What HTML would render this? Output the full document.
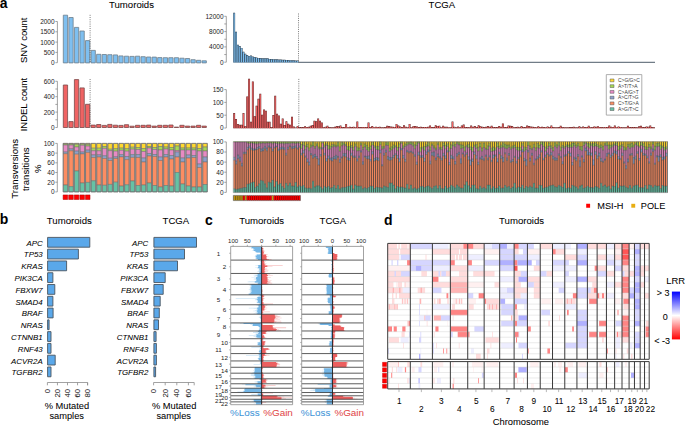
<!DOCTYPE html><html><head><meta charset="utf-8"><style>html,body{margin:0;padding:0;background:#fff;}svg{display:block}</style></head><body>
<svg width="685" height="426" viewBox="0 0 685 426" font-family="'Liberation Sans', sans-serif">
<rect width="685" height="426" fill="#fff"/>
<text transform="translate(-0.3 7.5) scale(0.92 1)" font-size="15.2" font-weight="bold">a</text>
<text x="131.5" y="7.9" font-size="9.6" text-anchor="middle" stroke="#000" stroke-width="0.05">Tumoroids</text>
<text x="441.9" y="7.9" font-size="9.6" text-anchor="middle" stroke="#000" stroke-width="0.05">TCGA</text>
<text x="27.3" y="40.3" font-size="9.5" text-anchor="middle" stroke="#000" stroke-width="0.05" transform="rotate(-90 27.3 40.3)">SNV count</text>
<text x="27.3" y="104.6" font-size="9.5" text-anchor="middle" stroke="#000" stroke-width="0.05" transform="rotate(-90 27.3 104.6)">INDEL count</text>
<text x="18.3" y="168.8" font-size="9.6" text-anchor="middle" stroke="#000" stroke-width="0.05" transform="rotate(-90 18.3 168.8)">Transversions</text>
<text x="29" y="169.2" font-size="9.6" text-anchor="middle" stroke="#000" stroke-width="0.05" transform="rotate(-90 29 169.2)">transitions</text>
<text x="40.8" y="168.8" font-size="9.6" text-anchor="middle" stroke="#000" stroke-width="0.05" transform="rotate(-90 40.8 168.8)">%</text>
<path d="M57.4 21.5L57.4 62.7M55.4 62.7L57.4 62.7" fill="none" stroke="#8a8a8a" stroke-width="0.8"/>
<text x="54.6" y="65.17" font-size="6.5" text-anchor="end" fill="#222">0</text>
<path d="M55.4 52.4L57.4 52.4" fill="none" stroke="#8a8a8a" stroke-width="0.8"/>
<text x="54.6" y="54.87" font-size="6.5" text-anchor="end" fill="#222">500</text>
<path d="M55.4 42.1L57.4 42.1" fill="none" stroke="#8a8a8a" stroke-width="0.8"/>
<text x="54.6" y="44.57" font-size="6.5" text-anchor="end" fill="#222">1000</text>
<path d="M55.4 31.8L57.4 31.8" fill="none" stroke="#8a8a8a" stroke-width="0.8"/>
<text x="54.6" y="34.27" font-size="6.5" text-anchor="end" fill="#222">1500</text>
<path d="M55.4 21.5L57.4 21.5" fill="none" stroke="#8a8a8a" stroke-width="0.8"/>
<text x="54.6" y="23.97" font-size="6.5" text-anchor="end" fill="#222">2000</text>
<path d="M63.3 15.2h4.3v47.7h-4.3zM68.85 17.5h4.3v45.4h-4.3zM74.4 27.4h4.3v35.5h-4.3zM79.95 31h4.3v31.9h-4.3zM85.5 40.6h4.3v22.3h-4.3zM91.05 50.4h4.3v12.5h-4.3zM96.6 54.3h4.3v8.6h-4.3zM102.15 54.5h4.3v8.4h-4.3zM107.7 54.7h4.3v8.2h-4.3zM113.25 54.9h4.3v8h-4.3zM118.8 55.9h4.3v7h-4.3zM124.35 56.2h4.3v6.7h-4.3zM129.9 56.4h4.3v6.5h-4.3zM135.45 56.2h4.3v6.7h-4.3zM141 56.7h4.3v6.2h-4.3zM146.55 57h4.3v5.9h-4.3zM152.1 57.1h4.3v5.8h-4.3zM157.65 57.6h4.3v5.3h-4.3zM163.2 57.7h4.3v5.2h-4.3zM168.75 57.7h4.3v5.2h-4.3zM174.3 57.7h4.3v5.2h-4.3zM179.85 58.2h4.3v4.7h-4.3zM185.4 58.5h4.3v4.4h-4.3zM190.95 59.7h4.3v3.2h-4.3zM196.5 60.3h4.3v2.6h-4.3zM202.05 60.8h4.3v2.1h-4.3z" fill="#7ebff0" stroke="#6d7d8a" stroke-width="0.8"/>
<path d="M90.1 14.8L90.1 63" fill="none" stroke="#444" stroke-width="0.7" stroke-dasharray="1,1.2"/>
<path d="M226.3 16.3L226.3 62.2M224.3 62.2L226.3 62.2" fill="none" stroke="#8a8a8a" stroke-width="0.8"/>
<text x="223.5" y="64.67" font-size="6.5" text-anchor="end" fill="#222">0</text>
<path d="M224.3 54.55L226.3 54.55M224.3 46.9L226.3 46.9" fill="none" stroke="#8a8a8a" stroke-width="0.8"/>
<text x="223.5" y="49.37" font-size="6.5" text-anchor="end" fill="#222">4000</text>
<path d="M224.3 39.25L226.3 39.25M224.3 31.6L226.3 31.6" fill="none" stroke="#8a8a8a" stroke-width="0.8"/>
<text x="223.5" y="34.07" font-size="6.5" text-anchor="end" fill="#222">8000</text>
<path d="M224.3 23.95L226.3 23.95M224.3 16.3L226.3 16.3" fill="none" stroke="#8a8a8a" stroke-width="0.8"/>
<text x="223.5" y="18.77" font-size="6.5" text-anchor="end" fill="#222">12000</text>
<path d="M233.2 12.7h1.92v49.9h-1.92zM235.07 31.8h1.92v30.8h-1.92zM236.93 44.7h1.92v17.9h-1.92zM238.8 46h1.92v16.6h-1.92zM240.66 47.9h1.92v14.7h-1.92zM242.53 51.7h1.92v10.9h-1.92zM244.4 53.7h1.92v8.9h-1.92zM246.26 55h1.92v7.6h-1.92zM248.13 55.9h1.92v6.7h-1.92zM249.99 55.5h1.92v7.1h-1.92zM251.86 56.5h1.92v6.1h-1.92zM253.73 57.1h1.92v5.5h-1.92zM255.59 57.5h1.92v5.1h-1.92zM257.46 57.9h1.92v4.7h-1.92zM259.32 58.1h1.92v4.5h-1.92zM261.19 58.3h1.92v4.3h-1.92zM263.06 58.3h1.92v4.3h-1.92zM264.92 58.3h1.92v4.3h-1.92zM266.79 58.3h1.92v4.3h-1.92zM268.65 58.9h1.92v3.7h-1.92zM270.52 59.01h1.92v3.59h-1.92zM272.39 59.13h1.92v3.47h-1.92zM274.25 59.24h1.92v3.36h-1.92zM276.12 59.35h1.92v3.25h-1.92zM277.98 59.47h1.92v3.13h-1.92zM279.85 59.58h1.92v3.02h-1.92zM281.72 59.69h1.92v2.91h-1.92zM283.58 59.81h1.92v2.79h-1.92zM285.45 59.92h1.92v2.68h-1.92zM287.31 60.03h1.92v2.57h-1.92zM289.18 60.15h1.92v2.45h-1.92zM291.05 60.26h1.92v2.34h-1.92zM292.91 60.37h1.92v2.23h-1.92zM294.78 60.49h1.92v2.11h-1.92zM296.64 60.6h1.92v2h-1.92z" fill="#2e3e4c"/>
<path d="M233.6 13.15h1.12v49.45h-1.12zM235.47 32.25h1.12v30.35h-1.12zM237.33 45.15h1.12v17.45h-1.12zM239.2 46.45h1.12v16.15h-1.12zM241.06 48.35h1.12v14.25h-1.12zM242.93 52.15h1.12v10.45h-1.12zM244.8 54.15h1.12v8.45h-1.12zM246.66 55.45h1.12v7.15h-1.12zM248.53 56.35h1.12v6.25h-1.12zM250.39 55.95h1.12v6.65h-1.12zM252.26 56.95h1.12v5.65h-1.12zM254.13 57.55h1.12v5.05h-1.12zM255.99 57.95h1.12v4.65h-1.12zM257.86 58.35h1.12v4.25h-1.12zM259.72 58.55h1.12v4.05h-1.12zM261.59 58.75h1.12v3.85h-1.12zM263.46 58.75h1.12v3.85h-1.12zM265.32 58.75h1.12v3.85h-1.12zM267.19 58.75h1.12v3.85h-1.12zM269.05 59.35h1.12v3.25h-1.12zM270.92 59.46h1.12v3.14h-1.12zM272.79 59.58h1.12v3.02h-1.12zM274.65 59.69h1.12v2.91h-1.12zM276.52 59.8h1.12v2.8h-1.12zM278.38 59.92h1.12v2.68h-1.12zM280.25 60.03h1.12v2.57h-1.12zM282.12 60.14h1.12v2.46h-1.12zM283.98 60.26h1.12v2.34h-1.12zM285.85 60.37h1.12v2.23h-1.12zM287.71 60.48h1.12v2.12h-1.12zM289.58 60.6h1.12v2h-1.12zM291.45 60.71h1.12v1.89h-1.12zM293.31 60.82h1.12v1.78h-1.12zM295.18 60.94h1.12v1.66h-1.12zM297.04 61.05h1.12v1.55h-1.12z" fill="#7ebff0"/>
<path d="M298.5 13.5L298.5 62.5" fill="none" stroke="#444" stroke-width="0.7" stroke-dasharray="1,1.2"/>
<path d="M298.6 62.3L655 62.3" fill="none" stroke="#3a4a58" stroke-width="0.9"/>
<path d="M57.4 81.3L57.4 127.5M55.4 127.5L57.4 127.5" fill="none" stroke="#8a8a8a" stroke-width="0.8"/>
<text x="54.6" y="129.97" font-size="6.5" text-anchor="end" fill="#222">0</text>
<path d="M55.4 119.8L57.4 119.8M55.4 112.1L57.4 112.1" fill="none" stroke="#8a8a8a" stroke-width="0.8"/>
<text x="54.6" y="114.57" font-size="6.5" text-anchor="end" fill="#222">200</text>
<path d="M55.4 104.4L57.4 104.4M55.4 96.7L57.4 96.7" fill="none" stroke="#8a8a8a" stroke-width="0.8"/>
<text x="54.6" y="99.17" font-size="6.5" text-anchor="end" fill="#222">400</text>
<path d="M55.4 89L57.4 89M55.4 81.3L57.4 81.3" fill="none" stroke="#8a8a8a" stroke-width="0.8"/>
<text x="54.6" y="83.77" font-size="6.5" text-anchor="end" fill="#222">600</text>
<path d="M63.3 85h4.3v42.5h-4.3zM68.85 121.6h4.3v5.9h-4.3zM74.4 79.6h4.3v47.9h-4.3zM79.95 87.9h4.3v39.6h-4.3zM85.5 104.3h4.3v23.2h-4.3zM91.05 125.1h4.3v2.4h-4.3zM96.6 124.5h4.3v3h-4.3zM102.15 125.4h4.3v2.1h-4.3zM107.7 124.4h4.3v3.1h-4.3zM113.25 125.2h4.3v2.3h-4.3zM118.8 125.4h4.3v2.1h-4.3zM124.35 124.7h4.3v2.8h-4.3zM129.9 126.2h4.3v1.3h-4.3zM135.45 125.3h4.3v2.2h-4.3zM141 125.3h4.3v2.2h-4.3zM146.55 125.1h4.3v2.4h-4.3zM152.1 126.1h4.3v1.4h-4.3zM157.65 125.3h4.3v2.2h-4.3zM163.2 125.3h4.3v2.2h-4.3zM168.75 125h4.3v2.5h-4.3zM174.3 127.1h4.3v0.4h-4.3zM179.85 125.3h4.3v2.2h-4.3zM185.4 126.1h4.3v1.4h-4.3zM190.95 126.1h4.3v1.4h-4.3zM196.5 125.3h4.3v2.2h-4.3zM202.05 126.1h4.3v1.4h-4.3z" fill="#ef6363" stroke="#7a4a4a" stroke-width="0.8"/>
<path d="M90.1 79L90.1 127.5" fill="none" stroke="#444" stroke-width="0.7" stroke-dasharray="1,1.2"/>
<path d="M226.3 89.6L226.3 128M224.3 128L226.3 128" fill="none" stroke="#8a8a8a" stroke-width="0.8"/>
<text x="223.5" y="130.47" font-size="6.5" text-anchor="end" fill="#222">0</text>
<path d="M224.3 115.2L226.3 115.2" fill="none" stroke="#8a8a8a" stroke-width="0.8"/>
<text x="223.5" y="117.67" font-size="6.5" text-anchor="end" fill="#222">50</text>
<path d="M224.3 102.4L226.3 102.4" fill="none" stroke="#8a8a8a" stroke-width="0.8"/>
<text x="223.5" y="104.87" font-size="6.5" text-anchor="end" fill="#222">100</text>
<path d="M224.3 89.6L226.3 89.6" fill="none" stroke="#8a8a8a" stroke-width="0.8"/>
<text x="223.5" y="92.07" font-size="6.5" text-anchor="end" fill="#222">150</text>
<path d="M233.2 113h1.92v15.2h-1.92zM235.07 119h1.92v9.2h-1.92zM236.93 124.1h1.92v4.1h-1.92zM238.8 124.8h1.92v3.4h-1.92zM240.66 124.8h1.92v3.4h-1.92zM242.53 113h1.92v15.2h-1.92zM244.4 126.3h1.92v1.9h-1.92zM246.26 96.4h1.92v31.8h-1.92zM248.13 78.8h1.92v49.4h-1.92zM249.99 121.8h1.92v6.4h-1.92zM251.86 81.4h1.92v46.8h-1.92zM253.73 116.2h1.92v12h-1.92zM255.59 105.7h1.92v22.5h-1.92zM257.46 98.8h1.92v29.4h-1.92zM259.32 93.7h1.92v34.5h-1.92zM261.19 114.7h1.92v13.5h-1.92zM263.06 109.5h1.92v18.7h-1.92zM264.92 110.8h1.92v17.4h-1.92zM266.79 121.8h1.92v6.4h-1.92zM268.65 121.8h1.92v6.4h-1.92zM270.52 127h1.92v1.2h-1.92zM272.39 115h1.92v13.2h-1.92zM274.25 95.7h1.92v32.5h-1.92zM276.12 113.7h1.92v14.5h-1.92zM277.98 115.5h1.92v12.7h-1.92zM279.85 123.7h1.92v4.5h-1.92zM281.72 118.6h1.92v9.6h-1.92zM283.58 125h1.92v3.2h-1.92zM285.45 121.2h1.92v7h-1.92zM287.31 123.7h1.92v4.5h-1.92zM289.18 124.8h1.92v3.4h-1.92zM291.05 116.8h1.92v11.4h-1.92zM292.91 126.6h1.92v1.6h-1.92zM294.78 127.6h1.92v0.6h-1.92zM296.64 125.9h1.92v2.3h-1.92zM298.51 127.02h1.92v1.18h-1.92zM300.38 127.07h1.92v1.13h-1.92zM302.24 127.01h1.92v1.19h-1.92zM304.11 126.28h1.92v1.92h-1.92zM305.97 126.9h1.92v1.3h-1.92zM307.84 126.69h1.92v1.51h-1.92zM309.71 125.68h1.92v2.52h-1.92zM311.57 125.1h1.92v3.1h-1.92zM313.44 120.7h1.92v7.5h-1.92zM315.3 121.2h1.92v7h-1.92zM317.17 118.6h1.92v9.6h-1.92zM319.04 120.7h1.92v7.5h-1.92zM320.9 122.5h1.92v5.7h-1.92zM322.77 127.28h1.92v0.92h-1.92zM324.63 126.82h1.92v1.38h-1.92zM326.5 125.7h1.92v2.5h-1.92zM328.37 126.99h1.92v1.21h-1.92zM330.23 127.27h1.92v0.93h-1.92zM332.1 127.27h1.92v0.93h-1.92zM333.96 126.82h1.92v1.38h-1.92zM335.83 126h1.92v2.2h-1.92zM337.7 126.37h1.92v1.83h-1.92zM339.56 125.62h1.92v2.58h-1.92zM341.43 126.98h1.92v1.22h-1.92zM343.29 126.97h1.92v1.23h-1.92zM345.16 123.9h1.92v4.3h-1.92zM347.03 127.16h1.92v1.04h-1.92zM348.89 126.8h1.92v1.4h-1.92zM350.76 126.95h1.92v1.25h-1.92zM352.62 126.84h1.92v1.36h-1.92zM354.49 127.16h1.92v1.04h-1.92zM356.36 121.6h1.92v6.6h-1.92zM358.22 127.1h1.92v1.1h-1.92zM360.09 127.11h1.92v1.09h-1.92zM361.95 126.88h1.92v1.32h-1.92zM363.82 126.88h1.92v1.32h-1.92zM365.69 127.07h1.92v1.13h-1.92zM367.55 122.5h1.92v5.7h-1.92zM369.42 127.1h1.92v1.1h-1.92zM371.28 126.04h1.92v2.16h-1.92zM373.15 127.17h1.92v1.03h-1.92zM375.02 126.63h1.92v1.57h-1.92zM376.88 126.92h1.92v1.28h-1.92zM378.75 126.81h1.92v1.39h-1.92zM380.61 127.18h1.92v1.02h-1.92zM382.48 127.21h1.92v0.99h-1.92zM384.35 127.08h1.92v1.12h-1.92zM386.21 125.84h1.92v2.36h-1.92zM388.08 126.01h1.92v2.19h-1.92zM389.94 126.46h1.92v1.74h-1.92zM391.81 126.76h1.92v1.44h-1.92zM393.68 126.9h1.92v1.3h-1.92zM395.54 123.9h1.92v4.3h-1.92zM397.41 125.53h1.92v2.67h-1.92zM399.27 126.51h1.92v1.69h-1.92zM401.14 126.98h1.92v1.22h-1.92zM403.01 125.32h1.92v2.88h-1.92zM404.87 126.78h1.92v1.42h-1.92zM406.74 127.14h1.92v1.06h-1.92zM408.6 123.9h1.92v4.3h-1.92zM410.47 127.15h1.92v1.05h-1.92zM412.34 126.13h1.92v2.07h-1.92zM414.2 126.1h1.92v2.1h-1.92zM416.07 126.39h1.92v1.81h-1.92zM417.93 127.06h1.92v1.14h-1.92zM419.8 126.87h1.92v1.33h-1.92zM421.67 126.99h1.92v1.21h-1.92zM423.53 126.89h1.92v1.31h-1.92zM425.4 126.92h1.92v1.28h-1.92zM427.26 126.83h1.92v1.37h-1.92zM429.13 125.4h1.92v2.8h-1.92zM431 127h1.92v1.2h-1.92zM432.86 127.09h1.92v1.11h-1.92zM434.73 125.37h1.92v2.83h-1.92zM436.59 125.89h1.92v2.31h-1.92zM438.46 125.65h1.92v2.55h-1.92zM440.33 127.15h1.92v1.05h-1.92zM442.19 125.86h1.92v2.34h-1.92zM444.06 126.84h1.92v1.36h-1.92zM445.92 126.87h1.92v1.33h-1.92zM447.79 127.16h1.92v1.04h-1.92zM449.66 127.2h1.92v1h-1.92zM451.52 121.6h1.92v6.6h-1.92zM453.39 126.76h1.92v1.44h-1.92zM455.25 127.18h1.92v1.02h-1.92zM457.12 126.56h1.92v1.64h-1.92zM458.99 127.23h1.92v0.97h-1.92zM460.85 125.52h1.92v2.68h-1.92zM462.72 124.6h1.92v3.6h-1.92zM464.58 126.97h1.92v1.23h-1.92zM466.45 127.01h1.92v1.19h-1.92zM468.32 127.23h1.92v0.97h-1.92zM470.18 125.48h1.92v2.72h-1.92zM472.05 126.82h1.92v1.38h-1.92zM473.91 126.03h1.92v2.17h-1.92zM475.78 126.93h1.92v1.27h-1.92zM477.65 125.3h1.92v2.9h-1.92zM479.51 126.21h1.92v1.99h-1.92zM481.38 126.85h1.92v1.35h-1.92zM483.24 126.95h1.92v1.25h-1.92zM485.11 126.84h1.92v1.36h-1.92zM486.98 125.93h1.92v2.27h-1.92zM488.84 126.86h1.92v1.34h-1.92zM490.71 125.72h1.92v2.48h-1.92zM492.57 127.01h1.92v1.19h-1.92zM494.44 127.11h1.92v1.09h-1.92zM496.31 127h1.92v1.2h-1.92zM498.17 126.02h1.92v2.18h-1.92zM500.04 126.86h1.92v1.34h-1.92zM501.9 123.4h1.92v4.8h-1.92zM503.77 127.11h1.92v1.09h-1.92zM505.64 127.01h1.92v1.19h-1.92zM507.5 125.62h1.92v2.58h-1.92zM509.37 125.8h1.92v2.4h-1.92zM511.23 126.1h1.92v2.1h-1.92zM513.1 127.18h1.92v1.02h-1.92zM514.97 127.05h1.92v1.15h-1.92zM516.83 126.84h1.92v1.36h-1.92zM518.7 127.28h1.92v0.92h-1.92zM520.56 125.94h1.92v2.26h-1.92zM522.43 126.96h1.92v1.24h-1.92zM524.3 126.97h1.92v1.23h-1.92zM526.16 125.52h1.92v2.68h-1.92zM528.03 125.97h1.92v2.23h-1.92zM529.89 126.44h1.92v1.76h-1.92zM531.76 126.84h1.92v1.36h-1.92zM533.63 127.11h1.92v1.09h-1.92zM535.49 127.14h1.92v1.06h-1.92zM537.36 126.31h1.92v1.89h-1.92zM539.22 126.88h1.92v1.32h-1.92zM541.09 126.82h1.92v1.38h-1.92zM542.96 126.96h1.92v1.24h-1.92zM544.82 127.16h1.92v1.04h-1.92zM546.69 126.47h1.92v1.73h-1.92zM548.55 127.05h1.92v1.15h-1.92zM550.42 125.62h1.92v2.58h-1.92zM552.29 127.07h1.92v1.13h-1.92zM554.15 127.24h1.92v0.96h-1.92zM556.02 127.28h1.92v0.92h-1.92zM557.88 127.01h1.92v1.19h-1.92zM559.75 125.72h1.92v2.48h-1.92zM561.62 127.03h1.92v1.17h-1.92zM563.48 127.29h1.92v0.91h-1.92zM565.35 127.18h1.92v1.02h-1.92zM567.21 127.21h1.92v0.99h-1.92zM569.08 127.08h1.92v1.12h-1.92zM570.95 126.97h1.92v1.23h-1.92zM572.81 126.82h1.92v1.38h-1.92zM574.68 127.2h1.92v1h-1.92zM576.54 127.21h1.92v0.99h-1.92zM578.41 126.36h1.92v1.84h-1.92zM580.28 127.21h1.92v0.99h-1.92zM582.14 126.61h1.92v1.59h-1.92zM584.01 127.04h1.92v1.16h-1.92zM585.87 126.92h1.92v1.28h-1.92zM587.74 125.72h1.92v2.48h-1.92zM589.61 127.26h1.92v0.94h-1.92zM591.47 126.94h1.92v1.26h-1.92zM593.34 126.39h1.92v1.81h-1.92zM595.2 126.85h1.92v1.35h-1.92zM597.07 126.16h1.92v2.04h-1.92zM598.94 126.9h1.92v1.3h-1.92zM600.8 127.07h1.92v1.13h-1.92zM602.67 127.2h1.92v1h-1.92zM604.53 126.89h1.92v1.31h-1.92zM606.4 126.94h1.92v1.26h-1.92zM608.27 125.5h1.92v2.7h-1.92zM610.13 126.81h1.92v1.39h-1.92zM612 126.9h1.92v1.3h-1.92zM613.86 125.48h1.92v2.72h-1.92zM615.73 127.13h1.92v1.07h-1.92zM617.6 126.42h1.92v1.78h-1.92zM619.46 126.92h1.92v1.28h-1.92zM621.33 127.29h1.92v0.91h-1.92zM623.19 127.27h1.92v0.93h-1.92zM625.06 127.21h1.92v0.99h-1.92zM626.93 125.72h1.92v2.48h-1.92zM628.79 127h1.92v1.2h-1.92zM630.66 126.94h1.92v1.26h-1.92zM632.52 126.96h1.92v1.24h-1.92zM634.39 127.05h1.92v1.15h-1.92zM636.26 127.26h1.92v0.94h-1.92zM638.12 126.25h1.92v1.95h-1.92zM639.99 125.84h1.92v2.36h-1.92zM641.85 127.04h1.92v1.16h-1.92zM643.72 127.02h1.92v1.18h-1.92zM645.59 126.54h1.92v1.66h-1.92zM647.45 126.85h1.92v1.35h-1.92zM649.32 125.6h1.92v2.6h-1.92zM651.18 127.04h1.92v1.16h-1.92zM653.05 127.2h1.92v1h-1.92z" fill="#5a2828"/>
<path d="M233.6 113.45h1.12v14.75h-1.12zM235.47 119.45h1.12v8.75h-1.12zM237.33 124.55h1.12v3.65h-1.12zM239.2 125.25h1.12v2.95h-1.12zM241.06 125.25h1.12v2.95h-1.12zM242.93 113.45h1.12v14.75h-1.12zM244.8 126.75h1.12v1.45h-1.12zM246.66 96.85h1.12v31.35h-1.12zM248.53 79.25h1.12v48.95h-1.12zM250.39 122.25h1.12v5.95h-1.12zM252.26 81.85h1.12v46.35h-1.12zM254.13 116.65h1.12v11.55h-1.12zM255.99 106.15h1.12v22.05h-1.12zM257.86 99.25h1.12v28.95h-1.12zM259.72 94.15h1.12v34.05h-1.12zM261.59 115.15h1.12v13.05h-1.12zM263.46 109.95h1.12v18.25h-1.12zM265.32 111.25h1.12v16.95h-1.12zM267.19 122.25h1.12v5.95h-1.12zM269.05 122.25h1.12v5.95h-1.12zM270.92 127.45h1.12v0.75h-1.12zM272.79 115.45h1.12v12.75h-1.12zM274.65 96.15h1.12v32.05h-1.12zM276.52 114.15h1.12v14.05h-1.12zM278.38 115.95h1.12v12.25h-1.12zM280.25 124.15h1.12v4.05h-1.12zM282.12 119.05h1.12v9.15h-1.12zM283.98 125.45h1.12v2.75h-1.12zM285.85 121.65h1.12v6.55h-1.12zM287.71 124.15h1.12v4.05h-1.12zM289.58 125.25h1.12v2.95h-1.12zM291.45 117.25h1.12v10.95h-1.12zM293.31 127.05h1.12v1.15h-1.12zM297.04 126.35h1.12v1.85h-1.12zM298.91 127.47h1.12v0.73h-1.12zM300.78 127.52h1.12v0.68h-1.12zM302.64 127.46h1.12v0.74h-1.12zM304.51 126.73h1.12v1.47h-1.12zM306.37 127.35h1.12v0.85h-1.12zM308.24 127.14h1.12v1.06h-1.12zM310.11 126.13h1.12v2.07h-1.12zM311.97 125.55h1.12v2.65h-1.12zM313.84 121.15h1.12v7.05h-1.12zM315.7 121.65h1.12v6.55h-1.12zM317.57 119.05h1.12v9.15h-1.12zM319.44 121.15h1.12v7.05h-1.12zM321.3 122.95h1.12v5.25h-1.12zM323.17 127.73h1.12v0.47h-1.12zM325.03 127.27h1.12v0.93h-1.12zM326.9 126.15h1.12v2.05h-1.12zM328.77 127.44h1.12v0.76h-1.12zM330.63 127.72h1.12v0.48h-1.12zM332.5 127.72h1.12v0.48h-1.12zM334.36 127.27h1.12v0.93h-1.12zM336.23 126.45h1.12v1.75h-1.12zM338.1 126.82h1.12v1.38h-1.12zM339.96 126.07h1.12v2.13h-1.12zM341.83 127.43h1.12v0.77h-1.12zM343.69 127.42h1.12v0.78h-1.12zM345.56 124.35h1.12v3.85h-1.12zM347.43 127.61h1.12v0.59h-1.12zM349.29 127.25h1.12v0.95h-1.12zM351.16 127.4h1.12v0.8h-1.12zM353.02 127.29h1.12v0.91h-1.12zM354.89 127.61h1.12v0.59h-1.12zM356.76 122.05h1.12v6.15h-1.12zM358.62 127.55h1.12v0.65h-1.12zM360.49 127.56h1.12v0.64h-1.12zM362.35 127.33h1.12v0.87h-1.12zM364.22 127.33h1.12v0.87h-1.12zM366.09 127.52h1.12v0.68h-1.12zM367.95 122.95h1.12v5.25h-1.12zM369.82 127.55h1.12v0.65h-1.12zM371.68 126.49h1.12v1.71h-1.12zM373.55 127.62h1.12v0.58h-1.12zM375.42 127.08h1.12v1.12h-1.12zM377.28 127.37h1.12v0.83h-1.12zM379.15 127.26h1.12v0.94h-1.12zM381.01 127.63h1.12v0.57h-1.12zM382.88 127.66h1.12v0.54h-1.12zM384.75 127.53h1.12v0.67h-1.12zM386.61 126.29h1.12v1.91h-1.12zM388.48 126.46h1.12v1.74h-1.12zM390.34 126.91h1.12v1.29h-1.12zM392.21 127.21h1.12v0.99h-1.12zM394.08 127.35h1.12v0.85h-1.12zM395.94 124.35h1.12v3.85h-1.12zM397.81 125.98h1.12v2.22h-1.12zM399.67 126.96h1.12v1.24h-1.12zM401.54 127.43h1.12v0.77h-1.12zM403.41 125.77h1.12v2.43h-1.12zM405.27 127.23h1.12v0.97h-1.12zM407.14 127.59h1.12v0.61h-1.12zM409 124.35h1.12v3.85h-1.12zM410.87 127.6h1.12v0.6h-1.12zM412.74 126.58h1.12v1.62h-1.12zM414.6 126.55h1.12v1.65h-1.12zM416.47 126.84h1.12v1.36h-1.12zM418.33 127.51h1.12v0.69h-1.12zM420.2 127.32h1.12v0.88h-1.12zM422.07 127.44h1.12v0.76h-1.12zM423.93 127.34h1.12v0.86h-1.12zM425.8 127.37h1.12v0.83h-1.12zM427.66 127.28h1.12v0.92h-1.12zM429.53 125.85h1.12v2.35h-1.12zM431.4 127.45h1.12v0.75h-1.12zM433.26 127.54h1.12v0.66h-1.12zM435.13 125.82h1.12v2.38h-1.12zM436.99 126.34h1.12v1.86h-1.12zM438.86 126.1h1.12v2.1h-1.12zM440.73 127.6h1.12v0.6h-1.12zM442.59 126.31h1.12v1.89h-1.12zM444.46 127.29h1.12v0.91h-1.12zM446.32 127.32h1.12v0.88h-1.12zM448.19 127.61h1.12v0.59h-1.12zM450.06 127.65h1.12v0.55h-1.12zM451.92 122.05h1.12v6.15h-1.12zM453.79 127.21h1.12v0.99h-1.12zM455.65 127.63h1.12v0.57h-1.12zM457.52 127.01h1.12v1.19h-1.12zM459.39 127.68h1.12v0.52h-1.12zM461.25 125.97h1.12v2.23h-1.12zM463.12 125.05h1.12v3.15h-1.12zM464.98 127.42h1.12v0.78h-1.12zM466.85 127.46h1.12v0.74h-1.12zM468.72 127.68h1.12v0.52h-1.12zM470.58 125.93h1.12v2.27h-1.12zM472.45 127.27h1.12v0.93h-1.12zM474.31 126.48h1.12v1.72h-1.12zM476.18 127.38h1.12v0.82h-1.12zM478.05 125.75h1.12v2.45h-1.12zM479.91 126.66h1.12v1.54h-1.12zM481.78 127.3h1.12v0.9h-1.12zM483.64 127.4h1.12v0.8h-1.12zM485.51 127.29h1.12v0.91h-1.12zM487.38 126.38h1.12v1.82h-1.12zM489.24 127.31h1.12v0.89h-1.12zM491.11 126.17h1.12v2.03h-1.12zM492.97 127.46h1.12v0.74h-1.12zM494.84 127.56h1.12v0.64h-1.12zM496.71 127.45h1.12v0.75h-1.12zM498.57 126.47h1.12v1.73h-1.12zM500.44 127.31h1.12v0.89h-1.12zM502.3 123.85h1.12v4.35h-1.12zM504.17 127.56h1.12v0.64h-1.12zM506.04 127.46h1.12v0.74h-1.12zM507.9 126.07h1.12v2.13h-1.12zM509.77 126.25h1.12v1.95h-1.12zM511.63 126.55h1.12v1.65h-1.12zM513.5 127.63h1.12v0.57h-1.12zM515.37 127.5h1.12v0.7h-1.12zM517.23 127.29h1.12v0.91h-1.12zM519.1 127.73h1.12v0.47h-1.12zM520.96 126.39h1.12v1.81h-1.12zM522.83 127.41h1.12v0.79h-1.12zM524.7 127.42h1.12v0.78h-1.12zM526.56 125.97h1.12v2.23h-1.12zM528.43 126.42h1.12v1.78h-1.12zM530.29 126.89h1.12v1.31h-1.12zM532.16 127.29h1.12v0.91h-1.12zM534.03 127.56h1.12v0.64h-1.12zM535.89 127.59h1.12v0.61h-1.12zM537.76 126.76h1.12v1.44h-1.12zM539.62 127.33h1.12v0.87h-1.12zM541.49 127.27h1.12v0.93h-1.12zM543.36 127.41h1.12v0.79h-1.12zM545.22 127.61h1.12v0.59h-1.12zM547.09 126.92h1.12v1.28h-1.12zM548.95 127.5h1.12v0.7h-1.12zM550.82 126.07h1.12v2.13h-1.12zM552.69 127.52h1.12v0.68h-1.12zM554.55 127.69h1.12v0.51h-1.12zM556.42 127.73h1.12v0.47h-1.12zM558.28 127.46h1.12v0.74h-1.12zM560.15 126.17h1.12v2.03h-1.12zM562.02 127.48h1.12v0.72h-1.12zM563.88 127.74h1.12v0.46h-1.12zM565.75 127.63h1.12v0.57h-1.12zM567.61 127.66h1.12v0.54h-1.12zM569.48 127.53h1.12v0.67h-1.12zM571.35 127.42h1.12v0.78h-1.12zM573.21 127.27h1.12v0.93h-1.12zM575.08 127.65h1.12v0.55h-1.12zM576.94 127.66h1.12v0.54h-1.12zM578.81 126.81h1.12v1.39h-1.12zM580.68 127.66h1.12v0.54h-1.12zM582.54 127.06h1.12v1.14h-1.12zM584.41 127.49h1.12v0.71h-1.12zM586.27 127.37h1.12v0.83h-1.12zM588.14 126.17h1.12v2.03h-1.12zM590.01 127.71h1.12v0.49h-1.12zM591.87 127.39h1.12v0.81h-1.12zM593.74 126.84h1.12v1.36h-1.12zM595.6 127.3h1.12v0.9h-1.12zM597.47 126.61h1.12v1.59h-1.12zM599.34 127.35h1.12v0.85h-1.12zM601.2 127.52h1.12v0.68h-1.12zM603.07 127.65h1.12v0.55h-1.12zM604.93 127.34h1.12v0.86h-1.12zM606.8 127.39h1.12v0.81h-1.12zM608.67 125.95h1.12v2.25h-1.12zM610.53 127.26h1.12v0.94h-1.12zM612.4 127.35h1.12v0.85h-1.12zM614.26 125.93h1.12v2.27h-1.12zM616.13 127.58h1.12v0.62h-1.12zM618 126.87h1.12v1.33h-1.12zM619.86 127.37h1.12v0.83h-1.12zM621.73 127.74h1.12v0.46h-1.12zM623.59 127.72h1.12v0.48h-1.12zM625.46 127.66h1.12v0.54h-1.12zM627.33 126.17h1.12v2.03h-1.12zM629.19 127.45h1.12v0.75h-1.12zM631.06 127.39h1.12v0.81h-1.12zM632.92 127.41h1.12v0.79h-1.12zM634.79 127.5h1.12v0.7h-1.12zM636.66 127.71h1.12v0.49h-1.12zM638.52 126.7h1.12v1.5h-1.12zM640.39 126.29h1.12v1.91h-1.12zM642.25 127.49h1.12v0.71h-1.12zM644.12 127.47h1.12v0.73h-1.12zM645.99 126.99h1.12v1.21h-1.12zM647.85 127.3h1.12v0.9h-1.12zM649.72 126.05h1.12v2.15h-1.12zM651.58 127.49h1.12v0.71h-1.12zM653.45 127.65h1.12v0.55h-1.12z" fill="#ef6363"/>
<path d="M298.8 78.9L298.8 128" fill="none" stroke="#444" stroke-width="0.7" stroke-dasharray="1,1.2"/>
<path d="M606.3 74.6h35.5v40.5h-35.5z" fill="#fff" stroke="#999" stroke-width="0.8"/>
<path d="M610.1 79h3.9v2.8h-3.9z" fill="#ffd92f" stroke="#555" stroke-width="0.5"/>
<text x="618" y="82.15" font-size="4.9" fill="#333">C&gt;G/G&gt;C</text>
<path d="M610.1 84.74h3.9v2.8h-3.9z" fill="#a6d854" stroke="#555" stroke-width="0.5"/>
<text x="618" y="87.89" font-size="4.9" fill="#333">A&gt;T/T&gt;A</text>
<path d="M610.1 90.48h3.9v2.8h-3.9z" fill="#e78ac3" stroke="#555" stroke-width="0.5"/>
<text x="618" y="93.63" font-size="4.9" fill="#333">C&gt;A/G&gt;T</text>
<path d="M610.1 96.22h3.9v2.8h-3.9z" fill="#8da0cb" stroke="#555" stroke-width="0.5"/>
<text x="618" y="99.37" font-size="4.9" fill="#333">A&gt;C/T&gt;G</text>
<path d="M610.1 101.96h3.9v2.8h-3.9z" fill="#fc8d62" stroke="#555" stroke-width="0.5"/>
<text x="618" y="105.11" font-size="4.9" fill="#333">C&gt;T/G&gt;A</text>
<path d="M610.1 107.7h3.9v2.8h-3.9z" fill="#66c2a5" stroke="#555" stroke-width="0.5"/>
<text x="618" y="110.85" font-size="4.9" fill="#333">A&gt;G/T&gt;C</text>
<path d="M57.3 143.4L57.3 191.9M55.3 191.9L57.3 191.9" fill="none" stroke="#8a8a8a" stroke-width="0.8"/>
<text x="54.5" y="194.37" font-size="6.5" text-anchor="end" fill="#222">0</text>
<path d="M55.3 182.2L57.3 182.2" fill="none" stroke="#8a8a8a" stroke-width="0.8"/>
<text x="54.5" y="184.67" font-size="6.5" text-anchor="end" fill="#222">20</text>
<path d="M55.3 172.5L57.3 172.5" fill="none" stroke="#8a8a8a" stroke-width="0.8"/>
<text x="54.5" y="174.97" font-size="6.5" text-anchor="end" fill="#222">40</text>
<path d="M55.3 162.8L57.3 162.8" fill="none" stroke="#8a8a8a" stroke-width="0.8"/>
<text x="54.5" y="165.27" font-size="6.5" text-anchor="end" fill="#222">60</text>
<path d="M55.3 153.1L57.3 153.1" fill="none" stroke="#8a8a8a" stroke-width="0.8"/>
<text x="54.5" y="155.57" font-size="6.5" text-anchor="end" fill="#222">80</text>
<path d="M55.3 143.4L57.3 143.4" fill="none" stroke="#8a8a8a" stroke-width="0.8"/>
<text x="54.5" y="145.87" font-size="6.5" text-anchor="end" fill="#222">100</text>
<path d="M63.2 143.4h4.6v0.8h-4.6zM68.78 143.4h4.6v0.8h-4.6zM74.36 143.4h4.6v1h-4.6zM79.94 143.4h4.6v0.8h-4.6zM85.52 143.4h4.6v1.1h-4.6zM91.1 143.4h4.6v4.8h-4.6zM96.68 143.4h4.6v4.8h-4.6zM102.26 143.4h4.6v3.1h-4.6zM107.84 143.4h4.6v5.8h-4.6zM113.42 143.4h4.6v5.3h-4.6zM119 143.4h4.6v4.7h-4.6zM124.58 143.4h4.6v5.3h-4.6zM130.16 143.4h4.6v3.8h-4.6zM135.74 143.4h4.6v4.1h-4.6zM141.32 143.4h4.6v5.1h-4.6zM146.9 143.4h4.6v3.1h-4.6zM152.48 143.4h4.6v4.1h-4.6zM158.06 143.4h4.6v3.1h-4.6zM163.64 143.4h4.6v3.6h-4.6zM169.22 143.4h4.6v4.1h-4.6zM174.8 143.4h4.6v2.6h-4.6zM180.38 143.4h4.6v4.6h-4.6zM185.96 143.4h4.6v4.6h-4.6zM191.54 143.4h4.6v4.6h-4.6zM197.12 143.4h4.6v5.1h-4.6zM202.7 143.4h4.6v3.6h-4.6z" fill="#ffd92f" stroke="#666" stroke-width="0.45"/>
<path d="M63.2 144.2h4.6v0.9h-4.6zM68.78 144.2h4.6v0.9h-4.6zM74.36 144.4h4.6v2.6h-4.6zM79.94 144.2h4.6v1.1h-4.6zM85.52 144.5h4.6v1.6h-4.6zM91.1 148.2h4.6v2.6h-4.6zM96.68 148.2h4.6v2.6h-4.6zM102.26 146.5h4.6v1.9h-4.6zM107.84 149.2h4.6v1.5h-4.6zM113.42 148.7h4.6v2.5h-4.6zM119 148.1h4.6v2.2h-4.6zM124.58 148.7h4.6v2.5h-4.6zM130.16 147.2h4.6v2h-4.6zM135.74 147.5h4.6v2h-4.6zM141.32 148.5h4.6v3h-4.6zM146.9 146.5h4.6v1.5h-4.6zM152.48 147.5h4.6v2h-4.6zM158.06 146.5h4.6v3.5h-4.6zM163.64 147h4.6v2h-4.6zM169.22 147.5h4.6v2.5h-4.6zM174.8 146h4.6v4.5h-4.6zM180.38 148h4.6v2h-4.6zM185.96 148h4.6v2h-4.6zM191.54 148h4.6v2h-4.6zM197.12 148.5h4.6v2.5h-4.6zM202.7 147h4.6v4h-4.6z" fill="#a6d854" stroke="#666" stroke-width="0.45"/>
<path d="M63.2 145.1h4.6v6.9h-4.6zM68.78 145.1h4.6v3.8h-4.6zM74.36 147h4.6v4.1h-4.6zM79.94 145.3h4.6v6.7h-4.6zM85.52 146.1h4.6v4h-4.6zM91.1 150.8h4.6v4.1h-4.6zM96.68 150.8h4.6v4.1h-4.6zM102.26 148.4h4.6v7.4h-4.6zM107.84 150.7h4.6v7.5h-4.6zM113.42 151.2h4.6v5.7h-4.6zM119 150.3h4.6v4.3h-4.6zM124.58 151.2h4.6v5.3h-4.6zM130.16 149.2h4.6v5.4h-4.6zM135.74 149.5h4.6v5h-4.6zM141.32 151.5h4.6v6.5h-4.6zM146.9 148h4.6v5.5h-4.6zM152.48 149.5h4.6v5h-4.6zM158.06 150h4.6v7h-4.6zM163.64 149h4.6v5.5h-4.6zM169.22 150h4.6v5.5h-4.6zM174.8 150.5h4.6v1.5h-4.6zM180.38 150h4.6v8h-4.6zM185.96 150h4.6v5h-4.6zM191.54 150h4.6v5.5h-4.6zM197.12 151h4.6v13h-4.6zM202.7 151h4.6v6h-4.6z" fill="#e78ac3" stroke="#666" stroke-width="0.45"/>
<path d="M63.2 152h4.6v1.7h-4.6zM68.78 148.9h4.6v1.9h-4.6zM74.36 151.1h4.6v3.1h-4.6zM79.94 152h4.6v1.9h-4.6zM85.52 150.1h4.6v2.3h-4.6zM91.1 154.9h4.6v2.6h-4.6zM96.68 154.9h4.6v2.1h-4.6zM102.26 155.8h4.6v2.7h-4.6zM107.84 158.2h4.6v2.3h-4.6zM113.42 156.9h4.6v1.6h-4.6zM119 154.6h4.6v2.3h-4.6zM124.58 156.5h4.6v3.1h-4.6zM130.16 154.6h4.6v2.8h-4.6zM135.74 154.5h4.6v3h-4.6zM141.32 158h4.6v4h-4.6zM146.9 153.5h4.6v2.5h-4.6zM152.48 154.5h4.6v2h-4.6zM158.06 157h4.6v3.5h-4.6zM163.64 154.5h4.6v2.5h-4.6zM169.22 155.5h4.6v3.5h-4.6zM174.8 152h4.6v5h-4.6zM180.38 158h4.6v4h-4.6zM185.96 155h4.6v3h-4.6zM191.54 155.5h4.6v2h-4.6zM197.12 164h4.6v3.5h-4.6zM202.7 157h4.6v5h-4.6z" fill="#8da0cb" stroke="#666" stroke-width="0.45"/>
<path d="M63.2 153.7h4.6v31.3h-4.6zM68.78 150.8h4.6v35.8h-4.6zM74.36 154.2h4.6v16.8h-4.6zM79.94 153.9h4.6v29.1h-4.6zM85.52 152.4h4.6v30h-4.6zM91.1 157.5h4.6v23.3h-4.6zM96.68 157h4.6v28h-4.6zM102.26 158.5h4.6v26.8h-4.6zM107.84 160.5h4.6v23.9h-4.6zM113.42 158.5h4.6v23.7h-4.6zM119 156.9h4.6v29.2h-4.6zM124.58 159.6h4.6v25.2h-4.6zM130.16 157.4h4.6v23.6h-4.6zM135.74 157.5h4.6v28h-4.6zM141.32 162h4.6v23h-4.6zM146.9 156h4.6v27h-4.6zM152.48 156.5h4.6v29h-4.6zM158.06 160.5h4.6v26.5h-4.6zM163.64 157h4.6v28.5h-4.6zM169.22 159h4.6v27h-4.6zM174.8 157h4.6v15.5h-4.6zM180.38 162h4.6v22h-4.6zM185.96 158h4.6v28h-4.6zM191.54 157.5h4.6v29.5h-4.6zM197.12 167.5h4.6v19.5h-4.6zM202.7 162h4.6v22.5h-4.6z" fill="#fc8d62" stroke="#666" stroke-width="0.45"/>
<path d="M63.2 185h4.6v6.9h-4.6zM68.78 186.6h4.6v5.3h-4.6zM74.36 171h4.6v20.9h-4.6zM79.94 183h4.6v8.9h-4.6zM85.52 182.4h4.6v9.5h-4.6zM91.1 180.8h4.6v11.1h-4.6zM96.68 185h4.6v6.9h-4.6zM102.26 185.3h4.6v6.6h-4.6zM107.84 184.4h4.6v7.5h-4.6zM113.42 182.2h4.6v9.7h-4.6zM119 186.1h4.6v5.8h-4.6zM124.58 184.8h4.6v7.1h-4.6zM130.16 181h4.6v10.9h-4.6zM135.74 185.5h4.6v6.4h-4.6zM141.32 185h4.6v6.9h-4.6zM146.9 183h4.6v8.9h-4.6zM152.48 185.5h4.6v6.4h-4.6zM158.06 187h4.6v4.9h-4.6zM163.64 185.5h4.6v6.4h-4.6zM169.22 186h4.6v5.9h-4.6zM174.8 172.5h4.6v19.4h-4.6zM180.38 184h4.6v7.9h-4.6zM185.96 186h4.6v5.9h-4.6zM191.54 187h4.6v4.9h-4.6zM197.12 187h4.6v4.9h-4.6zM202.7 184.5h4.6v7.4h-4.6z" fill="#66c2a5" stroke="#666" stroke-width="0.45"/>
<path d="M63.2 143.4h4.6v48.5h-4.6zM68.78 143.4h4.6v48.5h-4.6zM74.36 143.4h4.6v48.5h-4.6zM79.94 143.4h4.6v48.5h-4.6zM85.52 143.4h4.6v48.5h-4.6zM91.1 143.4h4.6v48.5h-4.6zM96.68 143.4h4.6v48.5h-4.6zM102.26 143.4h4.6v48.5h-4.6zM107.84 143.4h4.6v48.5h-4.6zM113.42 143.4h4.6v48.5h-4.6zM119 143.4h4.6v48.5h-4.6zM124.58 143.4h4.6v48.5h-4.6zM130.16 143.4h4.6v48.5h-4.6zM135.74 143.4h4.6v48.5h-4.6zM141.32 143.4h4.6v48.5h-4.6zM146.9 143.4h4.6v48.5h-4.6zM152.48 143.4h4.6v48.5h-4.6zM158.06 143.4h4.6v48.5h-4.6zM163.64 143.4h4.6v48.5h-4.6zM169.22 143.4h4.6v48.5h-4.6zM174.8 143.4h4.6v48.5h-4.6zM180.38 143.4h4.6v48.5h-4.6zM185.96 143.4h4.6v48.5h-4.6zM191.54 143.4h4.6v48.5h-4.6zM197.12 143.4h4.6v48.5h-4.6zM202.7 143.4h4.6v48.5h-4.6z" fill="none" stroke="#6e6e6e" stroke-width="0.7"/>
<path d="M63.1 194.9h4.6v4.6h-4.6zM68.68 194.9h4.6v4.6h-4.6zM74.26 194.9h4.6v4.6h-4.6zM79.84 194.9h4.6v4.6h-4.6zM85.42 194.9h4.6v4.6h-4.6z" fill="#ff0000" stroke="#a00" stroke-width="0.5"/>
<path d="M233.3 141.6h1.96v0.51h-1.96zM235.22 141.6h1.96v0.51h-1.96zM237.14 141.6h1.96v0.51h-1.96zM239.06 141.6h1.96v0.51h-1.96zM240.98 141.6h1.96v0.51h-1.96zM242.9 141.6h1.96v0.51h-1.96zM244.82 141.6h1.96v0.51h-1.96zM246.75 141.85h1.96v1.17h-1.96zM248.67 141.85h1.96v1.7h-1.96zM250.59 141.85h1.96v1.05h-1.96zM252.51 141.85h1.96v1.75h-1.96zM254.43 141.85h1.96v1.97h-1.96zM256.35 141.85h1.96v2h-1.96zM258.27 141.85h1.96v1.41h-1.96zM260.19 141.85h1.96v1.72h-1.96zM262.11 141.85h1.96v1.19h-1.96zM264.03 141.85h1.96v1.75h-1.96zM265.95 141.85h1.96v1.08h-1.96zM267.87 141.85h1.96v1.44h-1.96zM269.8 141.85h1.96v1.07h-1.96zM271.72 141.85h1.96v1.92h-1.96zM273.64 141.85h1.96v1.1h-1.96zM275.56 141.85h1.96v1.64h-1.96zM277.48 141.85h1.96v2h-1.96zM279.4 141.85h1.96v1.68h-1.96zM281.32 141.85h1.96v1.54h-1.96zM283.24 141.85h1.96v2.02h-1.96zM285.16 141.85h1.96v1.61h-1.96zM287.08 141.85h1.96v1.66h-1.96zM289 141.85h1.96v1.77h-1.96zM290.92 141.85h1.96v1.28h-1.96zM292.84 141.85h1.96v1.34h-1.96zM294.77 141.85h1.96v1.81h-1.96zM296.69 141.85h1.96v1.25h-1.96zM298.61 141.85h1.96v1.73h-1.96zM300.53 144.51h1.96v3.89h-1.96zM302.45 142.4h1.96v2.9h-1.96zM304.37 145.86h1.96v3.74h-1.96zM306.29 144.36h1.96v2.56h-1.96zM308.21 148.14h1.96v2.6h-1.96zM310.13 145.04h1.96v2.16h-1.96zM312.05 141.9h1.96v4.04h-1.96zM313.97 146.54h1.96v1.8h-1.96zM315.89 143.86h1.96v2.05h-1.96zM317.82 147.02h1.96v1.8h-1.96zM319.74 147.32h1.96v1.43h-1.96zM321.66 141.61h1.96v1.44h-1.96zM323.58 144.93h1.96v2.24h-1.96zM325.5 143.78h1.96v1.65h-1.96zM327.42 145.61h1.96v3.67h-1.96zM329.34 146.26h1.96v2.56h-1.96zM331.26 144.42h1.96v2.58h-1.96zM333.18 144.68h1.96v1.65h-1.96zM335.1 145.34h1.96v1.59h-1.96zM337.02 142.26h1.96v3.97h-1.96zM338.94 147.14h1.96v4.19h-1.96zM340.86 142.31h1.96v3.57h-1.96zM342.79 142.79h1.96v2.04h-1.96zM344.71 144.37h1.96v1.53h-1.96zM346.63 146.61h1.96v3.34h-1.96zM348.55 146.56h1.96v4.08h-1.96zM350.47 145.48h1.96v2.24h-1.96zM352.39 147.26h1.96v3.06h-1.96zM354.31 143.99h1.96v2.26h-1.96zM356.23 147.13h1.96v3.79h-1.96zM358.15 147.97h1.96v2.71h-1.96zM360.07 143.21h1.96v1.86h-1.96zM361.99 147.34h1.96v2.23h-1.96zM363.91 143.96h1.96v3.05h-1.96zM365.83 145.48h1.96v4.2h-1.96zM367.76 147.48h1.96v4.06h-1.96zM369.68 146.08h1.96v3.28h-1.96zM371.6 142.35h1.96v2.79h-1.96zM373.52 145.78h1.96v1.82h-1.96zM375.44 146.38h1.96v3.1h-1.96zM377.36 146.35h1.96v3.58h-1.96zM379.28 141.88h1.96v2.82h-1.96zM381.2 146.72h1.96v2.35h-1.96zM383.12 146.42h1.96v1.84h-1.96zM385.04 142.57h1.96v2.49h-1.96zM386.96 141.8h1.96v3.73h-1.96zM388.88 148.08h1.96v3.38h-1.96zM390.81 146.71h1.96v3.3h-1.96zM392.73 144.92h1.96v3.25h-1.96zM394.65 145.73h1.96v1.43h-1.96zM396.57 147.37h1.96v3.4h-1.96zM398.49 143.88h1.96v3.74h-1.96zM400.41 141.88h1.96v1.51h-1.96zM402.33 145.9h1.96v2.21h-1.96zM404.25 144.03h1.96v2.41h-1.96zM406.17 142.55h1.96v2.68h-1.96zM408.09 142.33h1.96v1.79h-1.96zM410.01 141.94h1.96v2.51h-1.96zM411.93 142.69h1.96v3.18h-1.96zM413.85 144.69h1.96v4.13h-1.96zM415.78 142.22h1.96v3.36h-1.96zM417.7 141.84h1.96v1.44h-1.96zM419.62 147.68h1.96v4.15h-1.96zM421.54 147.23h1.96v1.63h-1.96zM423.46 146.47h1.96v3.83h-1.96zM425.38 144.79h1.96v2.1h-1.96zM427.3 142.62h1.96v3.45h-1.96zM429.22 147.19h1.96v3.24h-1.96zM431.14 144.05h1.96v1.5h-1.96zM433.06 145.9h1.96v2.01h-1.96zM434.98 148.01h1.96v1.95h-1.96zM436.9 142.85h1.96v1.82h-1.96zM438.83 147.52h1.96v1.54h-1.96zM440.75 147.38h1.96v2.33h-1.96zM442.67 142.97h1.96v2.92h-1.96zM444.59 145.26h1.96v3.53h-1.96zM446.51 143.82h1.96v2.59h-1.96zM448.43 148.14h1.96v3.15h-1.96zM450.35 144.81h1.96v3.64h-1.96zM452.27 142.24h1.96v3.49h-1.96zM454.19 144.47h1.96v2.33h-1.96zM456.11 142.11h1.96v1.74h-1.96zM458.03 142.67h1.96v2.23h-1.96zM459.95 144.67h1.96v3.99h-1.96zM461.87 145.12h1.96v2.91h-1.96zM463.8 146.81h1.96v4.27h-1.96zM465.72 145.22h1.96v1.56h-1.96zM467.64 144.45h1.96v3.2h-1.96zM469.56 146.83h1.96v2.83h-1.96zM471.48 147.55h1.96v4.05h-1.96zM473.4 145.04h1.96v1.8h-1.96zM475.32 144.62h1.96v3.73h-1.96zM477.24 147.24h1.96v3.81h-1.96zM479.16 143.46h1.96v3.45h-1.96zM481.08 147.97h1.96v3.24h-1.96zM483 143.4h1.96v4.18h-1.96zM484.92 148.1h1.96v1.52h-1.96zM486.85 145.78h1.96v3.78h-1.96zM488.77 143.38h1.96v2.95h-1.96zM490.69 148.18h1.96v3.34h-1.96zM492.61 147.05h1.96v3.95h-1.96zM494.53 148.15h1.96v2.13h-1.96zM496.45 142.87h1.96v4.15h-1.96zM498.37 146.26h1.96v2.23h-1.96zM500.29 145.17h1.96v2.63h-1.96zM502.21 142.79h1.96v4.22h-1.96zM504.13 144.31h1.96v3.95h-1.96zM506.05 145.08h1.96v3.62h-1.96zM507.97 144.96h1.96v2.42h-1.96zM509.89 147.14h1.96v2.15h-1.96zM511.82 145.88h1.96v2.14h-1.96zM513.74 145.1h1.96v2.63h-1.96zM515.66 147.27h1.96v2.45h-1.96zM517.58 147.35h1.96v3.45h-1.96zM519.5 147.4h1.96v3.06h-1.96zM521.42 143.73h1.96v2.14h-1.96zM523.34 147.15h1.96v4.07h-1.96zM525.26 147.5h1.96v2.15h-1.96zM527.18 141.65h1.96v3.82h-1.96zM529.1 145.97h1.96v2.61h-1.96zM531.02 148.18h1.96v1.48h-1.96zM532.94 144.38h1.96v3.06h-1.96zM534.87 147.8h1.96v2.88h-1.96zM536.79 143.49h1.96v4.28h-1.96zM538.71 145.12h1.96v3.17h-1.96zM540.63 142h1.96v2.6h-1.96zM542.55 142.39h1.96v4.07h-1.96zM544.47 147.25h1.96v3.82h-1.96zM546.39 146.2h1.96v2.32h-1.96zM548.31 143.03h1.96v3.33h-1.96zM550.23 145.76h1.96v2.63h-1.96zM552.15 147.56h1.96v3.37h-1.96zM554.07 142.78h1.96v3.47h-1.96zM555.99 144.77h1.96v2.93h-1.96zM557.91 142.22h1.96v3.6h-1.96zM559.84 147.14h1.96v3.56h-1.96zM561.76 145.36h1.96v2.04h-1.96zM563.68 146.41h1.96v1.8h-1.96zM565.6 144.8h1.96v1.89h-1.96zM567.52 145.02h1.96v2.49h-1.96zM569.44 144.76h1.96v2.6h-1.96zM571.36 143.08h1.96v4.29h-1.96zM573.28 143.09h1.96v2.67h-1.96zM575.2 144.97h1.96v2.41h-1.96zM577.12 143.31h1.96v2.94h-1.96zM579.04 146.63h1.96v2.82h-1.96zM580.96 146.54h1.96v4.09h-1.96zM582.88 142.59h1.96v2.94h-1.96zM584.81 142.52h1.96v1.3h-1.96zM586.73 143.35h1.96v3.42h-1.96zM588.65 143.77h1.96v4.25h-1.96zM590.57 143.77h1.96v1.96h-1.96zM592.49 143.69h1.96v3.03h-1.96zM594.41 142.9h1.96v3.02h-1.96zM596.33 144.43h1.96v2.22h-1.96zM598.25 145.73h1.96v2.62h-1.96zM600.17 144.91h1.96v2.74h-1.96zM602.09 146.3h1.96v3.93h-1.96zM604.01 143.62h1.96v1.68h-1.96zM605.93 142.15h1.96v3.55h-1.96zM607.86 145h1.96v4.22h-1.96zM609.78 145.32h1.96v2.47h-1.96zM611.7 144.74h1.96v2.06h-1.96zM613.62 143.83h1.96v1.45h-1.96zM615.54 142.78h1.96v2.81h-1.96zM617.46 146.46h1.96v3.57h-1.96zM619.38 145.62h1.96v3.24h-1.96zM621.3 144.47h1.96v1.89h-1.96zM623.22 146.91h1.96v3.46h-1.96zM625.14 147.88h1.96v2.17h-1.96zM627.06 144.4h1.96v2.24h-1.96zM628.98 144.16h1.96v4.26h-1.96zM630.9 143.12h1.96v4.03h-1.96zM632.83 144.96h1.96v2.19h-1.96zM634.75 142.95h1.96v1.75h-1.96zM636.67 141.97h1.96v4.04h-1.96zM638.59 146.01h1.96v1.6h-1.96zM640.51 142.42h1.96v3.04h-1.96zM642.43 143.7h1.96v2.94h-1.96zM644.35 146.69h1.96v2.75h-1.96zM646.27 147.21h1.96v2.42h-1.96zM648.19 144.59h1.96v2.72h-1.96zM650.11 146.87h1.96v2.07h-1.96zM652.03 141.95h1.96v2.43h-1.96zM653.95 146.09h1.96v3.95h-1.96zM655.88 143.46h1.96v3.3h-1.96zM657.8 143.02h1.96v3.43h-1.96zM659.72 145.16h1.96v4.24h-1.96zM661.64 146.04h1.96v1.69h-1.96zM663.56 147.56h1.96v2.62h-1.96zM665.48 146.75h1.96v2.18h-1.96z" fill="#a6d854"/>
<path d="M233.3 142.11h1.96v15.18h-1.96zM235.22 142.11h1.96v18.91h-1.96zM237.14 142.11h1.96v12.88h-1.96zM239.06 142.11h1.96v15.14h-1.96zM240.98 142.11h1.96v21.28h-1.96zM242.9 142.11h1.96v10.2h-1.96zM244.82 142.11h1.96v10.2h-1.96zM246.75 143.03h1.96v4.31h-1.96zM248.67 143.56h1.96v2.27h-1.96zM250.59 142.91h1.96v5.13h-1.96zM252.51 143.6h1.96v5.33h-1.96zM254.43 143.83h1.96v5.18h-1.96zM256.35 143.86h1.96v3.6h-1.96zM258.27 143.27h1.96v3.29h-1.96zM260.19 143.57h1.96v5.36h-1.96zM262.11 143.04h1.96v5.11h-1.96zM264.03 143.6h1.96v2.79h-1.96zM265.95 142.94h1.96v5.09h-1.96zM267.87 143.29h1.96v2.58h-1.96zM269.8 142.92h1.96v4.23h-1.96zM271.72 143.77h1.96v5.54h-1.96zM273.64 142.95h1.96v4.18h-1.96zM275.56 143.5h1.96v2.6h-1.96zM277.48 143.85h1.96v5.24h-1.96zM279.4 143.53h1.96v4.17h-1.96zM281.32 143.39h1.96v3.58h-1.96zM283.24 143.87h1.96v3.9h-1.96zM285.16 143.47h1.96v9.76h-1.96zM287.08 143.51h1.96v3.7h-1.96zM289 143.63h1.96v2.12h-1.96zM290.92 143.13h1.96v3.67h-1.96zM292.84 143.19h1.96v3.36h-1.96zM294.77 143.66h1.96v2.14h-1.96zM296.69 143.1h1.96v4.91h-1.96zM298.61 143.59h1.96v2.4h-1.96zM300.53 148.4h1.96v4.95h-1.96zM302.45 145.3h1.96v5.13h-1.96zM304.37 149.6h1.96v6.39h-1.96zM306.29 146.92h1.96v12.01h-1.96zM308.21 150.75h1.96v11.32h-1.96zM310.13 147.2h1.96v6.35h-1.96zM312.05 145.94h1.96v9.23h-1.96zM313.97 148.34h1.96v6.02h-1.96zM315.89 145.91h1.96v10.6h-1.96zM317.82 148.81h1.96v10.03h-1.96zM319.74 148.75h1.96v5.78h-1.96zM321.66 143.05h1.96v4.61h-1.96zM323.58 147.17h1.96v6.14h-1.96zM325.5 145.43h1.96v13.2h-1.96zM327.42 149.28h1.96v6.67h-1.96zM329.34 148.82h1.96v9.23h-1.96zM331.26 147h1.96v10.75h-1.96zM333.18 146.33h1.96v10.21h-1.96zM335.1 146.93h1.96v8.37h-1.96zM337.02 146.23h1.96v10.13h-1.96zM338.94 151.33h1.96v8.3h-1.96zM340.86 145.87h1.96v11.2h-1.96zM342.79 144.83h1.96v8.6h-1.96zM344.71 145.9h1.96v7.65h-1.96zM346.63 149.95h1.96v7.79h-1.96zM348.55 150.64h1.96v7.79h-1.96zM350.47 147.72h1.96v5.47h-1.96zM352.39 150.32h1.96v5.75h-1.96zM354.31 146.25h1.96v9.89h-1.96zM356.23 150.92h1.96v8.12h-1.96zM358.15 150.67h1.96v5.44h-1.96zM360.07 145.06h1.96v5.68h-1.96zM361.99 149.57h1.96v12.12h-1.96zM363.91 147.02h1.96v9.08h-1.96zM365.83 149.68h1.96v6.76h-1.96zM367.76 151.54h1.96v4.36h-1.96zM369.68 149.36h1.96v10.15h-1.96zM371.6 145.14h1.96v6.44h-1.96zM373.52 147.61h1.96v10.83h-1.96zM375.44 149.48h1.96v8.1h-1.96zM377.36 149.93h1.96v8h-1.96zM379.28 144.7h1.96v5.59h-1.96zM381.2 149.07h1.96v15.58h-1.96zM383.12 148.26h1.96v5.11h-1.96zM385.04 145.07h1.96v5.15h-1.96zM386.96 145.53h1.96v10.84h-1.96zM388.88 151.45h1.96v6.01h-1.96zM390.81 150.01h1.96v7.58h-1.96zM392.73 148.17h1.96v7.19h-1.96zM394.65 147.16h1.96v6.51h-1.96zM396.57 150.77h1.96v4.67h-1.96zM398.49 147.62h1.96v11.17h-1.96zM400.41 143.4h1.96v5.2h-1.96zM402.33 148.11h1.96v7.36h-1.96zM404.25 146.44h1.96v12.99h-1.96zM406.17 145.23h1.96v5.16h-1.96zM408.09 144.12h1.96v7.57h-1.96zM410.01 144.45h1.96v6.81h-1.96zM411.93 145.87h1.96v6.4h-1.96zM413.85 148.82h1.96v6.02h-1.96zM415.78 145.58h1.96v16.58h-1.96zM417.7 143.28h1.96v8.91h-1.96zM419.62 151.83h1.96v3.85h-1.96zM421.54 148.86h1.96v6.75h-1.96zM423.46 150.3h1.96v8.09h-1.96zM425.38 146.89h1.96v4.96h-1.96zM427.3 146.07h1.96v3.76h-1.96zM429.22 150.43h1.96v10.74h-1.96zM431.14 145.55h1.96v6.83h-1.96zM433.06 147.92h1.96v3.97h-1.96zM434.98 149.96h1.96v8.16h-1.96zM436.9 144.67h1.96v9.32h-1.96zM438.83 149.06h1.96v7.37h-1.96zM440.75 149.71h1.96v8.49h-1.96zM442.67 145.89h1.96v7.36h-1.96zM444.59 148.79h1.96v7.02h-1.96zM446.51 146.42h1.96v4.26h-1.96zM448.43 151.29h1.96v11.17h-1.96zM450.35 148.45h1.96v6.89h-1.96zM452.27 145.72h1.96v11.07h-1.96zM454.19 146.8h1.96v14.73h-1.96zM456.11 143.86h1.96v9.79h-1.96zM458.03 144.9h1.96v7.35h-1.96zM459.95 148.66h1.96v10.16h-1.96zM461.87 148.03h1.96v4.92h-1.96zM463.8 151.08h1.96v3.86h-1.96zM465.72 146.78h1.96v6.11h-1.96zM467.64 147.64h1.96v9.08h-1.96zM469.56 149.67h1.96v10.35h-1.96zM471.48 151.59h1.96v7.38h-1.96zM473.4 146.83h1.96v5.06h-1.96zM475.32 148.35h1.96v7.26h-1.96zM477.24 151.05h1.96v11.17h-1.96zM479.16 146.9h1.96v11.01h-1.96zM481.08 151.21h1.96v5.16h-1.96zM483 147.58h1.96v11.27h-1.96zM484.92 149.62h1.96v5.44h-1.96zM486.85 149.56h1.96v8.71h-1.96zM488.77 146.32h1.96v9.05h-1.96zM490.69 151.52h1.96v8.85h-1.96zM492.61 151.01h1.96v3.97h-1.96zM494.53 150.28h1.96v4.64h-1.96zM496.45 147.02h1.96v11.7h-1.96zM498.37 148.5h1.96v3.74h-1.96zM500.29 147.8h1.96v7.93h-1.96zM502.21 147.01h1.96v10.42h-1.96zM504.13 148.26h1.96v4.5h-1.96zM506.05 148.7h1.96v9.43h-1.96zM507.97 147.38h1.96v6.17h-1.96zM509.89 149.29h1.96v11.54h-1.96zM511.82 148.02h1.96v11.46h-1.96zM513.74 147.73h1.96v8.61h-1.96zM515.66 149.72h1.96v11.58h-1.96zM517.58 150.8h1.96v6.52h-1.96zM519.5 150.47h1.96v4.76h-1.96zM521.42 145.87h1.96v3.81h-1.96zM523.34 151.22h1.96v7.17h-1.96zM525.26 149.66h1.96v10.22h-1.96zM527.18 145.47h1.96v5.07h-1.96zM529.1 148.58h1.96v9.46h-1.96zM531.02 149.65h1.96v3.65h-1.96zM532.94 147.43h1.96v15.88h-1.96zM534.87 150.68h1.96v8.25h-1.96zM536.79 147.77h1.96v8.97h-1.96zM538.71 148.3h1.96v6.47h-1.96zM540.63 144.6h1.96v6.12h-1.96zM542.55 146.46h1.96v11.91h-1.96zM544.47 151.07h1.96v4.04h-1.96zM546.39 148.52h1.96v4.48h-1.96zM548.31 146.36h1.96v8.54h-1.96zM550.23 148.39h1.96v4.03h-1.96zM552.15 150.93h1.96v5.38h-1.96zM554.07 146.25h1.96v11.44h-1.96zM555.99 147.69h1.96v10.61h-1.96zM557.91 145.82h1.96v8.08h-1.96zM559.84 150.71h1.96v5.95h-1.96zM561.76 147.4h1.96v14.36h-1.96zM563.68 148.21h1.96v6.79h-1.96zM565.6 146.69h1.96v7.69h-1.96zM567.52 147.51h1.96v4.11h-1.96zM569.44 147.36h1.96v5.71h-1.96zM571.36 147.37h1.96v15.12h-1.96zM573.28 145.77h1.96v11.52h-1.96zM575.2 147.39h1.96v10.67h-1.96zM577.12 146.25h1.96v8.35h-1.96zM579.04 149.45h1.96v11.35h-1.96zM580.96 150.64h1.96v5.22h-1.96zM582.88 145.53h1.96v14.13h-1.96zM584.81 143.81h1.96v4.25h-1.96zM586.73 146.77h1.96v3.59h-1.96zM588.65 148.02h1.96v4.4h-1.96zM590.57 145.73h1.96v7.26h-1.96zM592.49 146.72h1.96v13.12h-1.96zM594.41 145.92h1.96v5.74h-1.96zM596.33 146.65h1.96v9.18h-1.96zM598.25 148.35h1.96v4.6h-1.96zM600.17 147.65h1.96v10.69h-1.96zM602.09 150.23h1.96v10.96h-1.96zM604.01 145.3h1.96v13.78h-1.96zM605.93 145.71h1.96v7.9h-1.96zM607.86 149.22h1.96v3.62h-1.96zM609.78 147.79h1.96v7.37h-1.96zM611.7 146.8h1.96v6.49h-1.96zM613.62 145.29h1.96v5.52h-1.96zM615.54 145.59h1.96v5.65h-1.96zM617.46 150.03h1.96v6.54h-1.96zM619.38 148.86h1.96v9.51h-1.96zM621.3 146.36h1.96v6.79h-1.96zM623.22 150.36h1.96v11.56h-1.96zM625.14 150.05h1.96v15.65h-1.96zM627.06 146.64h1.96v12.28h-1.96zM628.98 148.42h1.96v5.87h-1.96zM630.9 147.15h1.96v6.29h-1.96zM632.83 147.15h1.96v10.41h-1.96zM634.75 144.7h1.96v11.47h-1.96zM636.67 146.02h1.96v5.74h-1.96zM638.59 147.61h1.96v10.9h-1.96zM640.51 145.46h1.96v3.77h-1.96zM642.43 146.64h1.96v6.89h-1.96zM644.35 149.44h1.96v4.55h-1.96zM646.27 149.63h1.96v6.52h-1.96zM648.19 147.31h1.96v14.51h-1.96zM650.11 148.94h1.96v4.21h-1.96zM652.03 144.39h1.96v4.44h-1.96zM653.95 150.04h1.96v13.15h-1.96zM655.88 146.76h1.96v8.9h-1.96zM657.8 146.45h1.96v9.64h-1.96zM659.72 149.4h1.96v5.34h-1.96zM661.64 147.73h1.96v9.52h-1.96zM663.56 150.18h1.96v6.75h-1.96zM665.48 148.93h1.96v4.17h-1.96z" fill="#e78ac3"/>
<path d="M233.3 157.29h1.96v2.92h-1.96zM235.22 161.02h1.96v3.13h-1.96zM237.14 154.99h1.96v3.67h-1.96zM239.06 157.25h1.96v4.07h-1.96zM240.98 163.39h1.96v2.74h-1.96zM242.9 152.31h1.96v1.53h-1.96zM244.82 152.31h1.96v1.53h-1.96zM246.75 147.34h1.96v2.54h-1.96zM248.67 145.83h1.96v2.31h-1.96zM250.59 148.04h1.96v1.73h-1.96zM252.51 148.93h1.96v1.57h-1.96zM254.43 149.01h1.96v0.96h-1.96zM256.35 147.46h1.96v2.04h-1.96zM258.27 146.56h1.96v1.96h-1.96zM260.19 148.93h1.96v2.51h-1.96zM262.11 148.15h1.96v2.73h-1.96zM264.03 146.4h1.96v2.46h-1.96zM265.95 148.03h1.96v2.78h-1.96zM267.87 145.87h1.96v1.36h-1.96zM269.8 147.15h1.96v0.86h-1.96zM271.72 149.31h1.96v1.8h-1.96zM273.64 147.13h1.96v0.83h-1.96zM275.56 146.1h1.96v0.85h-1.96zM277.48 149.09h1.96v1.54h-1.96zM279.4 147.7h1.96v1.91h-1.96zM281.32 146.97h1.96v2.23h-1.96zM283.24 147.77h1.96v1.88h-1.96zM285.16 153.23h1.96v2.02h-1.96zM287.08 147.22h1.96v2.15h-1.96zM289 145.75h1.96v0.89h-1.96zM290.92 146.8h1.96v1.97h-1.96zM292.84 146.55h1.96v1.98h-1.96zM294.77 145.8h1.96v1.93h-1.96zM296.69 148.01h1.96v1.25h-1.96zM298.61 145.99h1.96v1.42h-1.96zM300.53 153.35h1.96v1.79h-1.96zM302.45 150.42h1.96v2.87h-1.96zM304.37 155.99h1.96v1.32h-1.96zM306.29 158.94h1.96v3.13h-1.96zM308.21 162.07h1.96v3.15h-1.96zM310.13 153.55h1.96v1.54h-1.96zM312.05 155.17h1.96v3.14h-1.96zM313.97 154.36h1.96v2.54h-1.96zM315.89 156.51h1.96v2.12h-1.96zM317.82 158.84h1.96v6.2h-1.96zM319.74 154.53h1.96v1.64h-1.96zM321.66 147.66h1.96v1.31h-1.96zM323.58 153.31h1.96v1.83h-1.96zM325.5 158.64h1.96v2.66h-1.96zM327.42 155.95h1.96v2.86h-1.96zM329.34 158.06h1.96v2.08h-1.96zM331.26 157.74h1.96v3.17h-1.96zM333.18 156.53h1.96v2.54h-1.96zM335.1 155.29h1.96v4.09h-1.96zM337.02 156.36h1.96v1.07h-1.96zM338.94 159.63h1.96v2.85h-1.96zM340.86 157.07h1.96v1.16h-1.96zM342.79 153.43h1.96v2.75h-1.96zM344.71 153.56h1.96v3.25h-1.96zM346.63 157.74h1.96v2.13h-1.96zM348.55 158.43h1.96v2.04h-1.96zM350.47 153.19h1.96v2.61h-1.96zM352.39 156.07h1.96v1.52h-1.96zM354.31 156.14h1.96v1.35h-1.96zM356.23 159.04h1.96v2.12h-1.96zM358.15 156.12h1.96v1.56h-1.96zM360.07 150.74h1.96v1.45h-1.96zM361.99 161.69h1.96v2.69h-1.96zM363.91 156.1h1.96v1.04h-1.96zM365.83 156.44h1.96v2.27h-1.96zM367.76 155.9h1.96v3.18h-1.96zM369.68 159.51h1.96v1.63h-1.96zM371.6 151.58h1.96v2.67h-1.96zM373.52 158.44h1.96v2.52h-1.96zM375.44 157.58h1.96v2.51h-1.96zM377.36 157.93h1.96v2.72h-1.96zM379.28 150.29h1.96v2.78h-1.96zM381.2 164.65h1.96v1.28h-1.96zM383.12 153.38h1.96v1.98h-1.96zM385.04 150.22h1.96v2.23h-1.96zM386.96 156.37h1.96v3.2h-1.96zM388.88 157.47h1.96v2.99h-1.96zM390.81 157.59h1.96v2.22h-1.96zM392.73 155.36h1.96v2.32h-1.96zM394.65 153.67h1.96v1.56h-1.96zM396.57 155.44h1.96v2.99h-1.96zM398.49 158.79h1.96v3h-1.96zM400.41 148.6h1.96v1.39h-1.96zM402.33 155.47h1.96v2.76h-1.96zM404.25 159.43h1.96v2.39h-1.96zM406.17 150.4h1.96v1.5h-1.96zM408.09 151.69h1.96v1.16h-1.96zM410.01 151.25h1.96v1.08h-1.96zM411.93 152.27h1.96v1.3h-1.96zM413.85 154.84h1.96v1.59h-1.96zM415.78 162.16h1.96v2.38h-1.96zM417.7 152.19h1.96v3.09h-1.96zM419.62 155.68h1.96v1.72h-1.96zM421.54 155.61h1.96v1.79h-1.96zM423.46 158.38h1.96v3.14h-1.96zM425.38 151.84h1.96v2.67h-1.96zM427.3 149.83h1.96v2.09h-1.96zM429.22 161.17h1.96v3.02h-1.96zM431.14 152.38h1.96v3.21h-1.96zM433.06 151.88h1.96v4.43h-1.96zM434.98 158.12h1.96v1.98h-1.96zM436.9 153.98h1.96v2.91h-1.96zM438.83 156.43h1.96v1.53h-1.96zM440.75 158.2h1.96v2.04h-1.96zM442.67 153.25h1.96v2.69h-1.96zM444.59 155.81h1.96v2.51h-1.96zM446.51 150.67h1.96v1.52h-1.96zM448.43 162.46h1.96v2.25h-1.96zM450.35 155.34h1.96v3.31h-1.96zM452.27 156.79h1.96v2.21h-1.96zM454.19 161.52h1.96v2.73h-1.96zM456.11 153.65h1.96v2.63h-1.96zM458.03 152.25h1.96v2.23h-1.96zM459.95 158.82h1.96v4.76h-1.96zM461.87 152.96h1.96v1.14h-1.96zM463.8 154.94h1.96v1.44h-1.96zM465.72 152.89h1.96v1.59h-1.96zM467.64 156.72h1.96v3.11h-1.96zM469.56 160.02h1.96v5.35h-1.96zM471.48 158.98h1.96v2.55h-1.96zM473.4 151.9h1.96v2.59h-1.96zM475.32 155.61h1.96v3.22h-1.96zM477.24 162.22h1.96v2.43h-1.96zM479.16 157.91h1.96v1.26h-1.96zM481.08 156.37h1.96v3.13h-1.96zM483 158.85h1.96v1.75h-1.96zM484.92 155.06h1.96v1.48h-1.96zM486.85 158.28h1.96v1.67h-1.96zM488.77 155.38h1.96v1.56h-1.96zM490.69 160.37h1.96v1.35h-1.96zM492.61 154.97h1.96v3.22h-1.96zM494.53 154.92h1.96v1.35h-1.96zM496.45 158.73h1.96v3.27h-1.96zM498.37 152.24h1.96v1.81h-1.96zM500.29 155.73h1.96v2.93h-1.96zM502.21 157.44h1.96v4.47h-1.96zM504.13 152.76h1.96v1.05h-1.96zM506.05 158.13h1.96v2.26h-1.96zM507.97 153.54h1.96v1.84h-1.96zM509.89 160.83h1.96v1.64h-1.96zM511.82 159.48h1.96v2.06h-1.96zM513.74 156.34h1.96v1.18h-1.96zM515.66 161.29h1.96v1.86h-1.96zM517.58 157.32h1.96v1.71h-1.96zM519.5 155.23h1.96v1.52h-1.96zM521.42 149.68h1.96v2.26h-1.96zM523.34 158.39h1.96v2.59h-1.96zM525.26 159.87h1.96v5.97h-1.96zM527.18 150.54h1.96v1.65h-1.96zM529.1 158.05h1.96v3.27h-1.96zM531.02 153.3h1.96v2.12h-1.96zM532.94 163.32h1.96v1.48h-1.96zM534.87 158.93h1.96v1.22h-1.96zM536.79 156.73h1.96v2.23h-1.96zM538.71 154.76h1.96v2.78h-1.96zM540.63 150.71h1.96v1.47h-1.96zM542.55 158.38h1.96v1.51h-1.96zM544.47 155.1h1.96v1.94h-1.96zM546.39 153h1.96v1.53h-1.96zM548.31 154.9h1.96v1.42h-1.96zM550.23 152.42h1.96v2.83h-1.96zM552.15 156.31h1.96v2.9h-1.96zM554.07 157.69h1.96v2.7h-1.96zM555.99 158.31h1.96v2.05h-1.96zM557.91 153.9h1.96v1.71h-1.96zM559.84 156.65h1.96v1.04h-1.96zM561.76 161.76h1.96v2.31h-1.96zM563.68 155h1.96v1.47h-1.96zM565.6 154.38h1.96v1.4h-1.96zM567.52 151.62h1.96v1.65h-1.96zM569.44 153.07h1.96v3.23h-1.96zM571.36 162.49h1.96v2.7h-1.96zM573.28 157.29h1.96v1.77h-1.96zM575.2 158.06h1.96v2.73h-1.96zM577.12 154.6h1.96v1.91h-1.96zM579.04 160.79h1.96v6.03h-1.96zM580.96 155.86h1.96v1.38h-1.96zM582.88 159.66h1.96v2.41h-1.96zM584.81 148.06h1.96v2.82h-1.96zM586.73 150.35h1.96v4.73h-1.96zM588.65 152.42h1.96v2.86h-1.96zM590.57 152.99h1.96v2.86h-1.96zM592.49 159.84h1.96v5.45h-1.96zM594.41 151.65h1.96v2.77h-1.96zM596.33 155.83h1.96v2.84h-1.96zM598.25 152.95h1.96v3.31h-1.96zM600.17 158.35h1.96v3.14h-1.96zM602.09 161.19h1.96v1.13h-1.96zM604.01 159.08h1.96v1.22h-1.96zM605.93 153.61h1.96v2.78h-1.96zM607.86 152.84h1.96v1.18h-1.96zM609.78 155.16h1.96v2.4h-1.96zM611.7 153.29h1.96v2.51h-1.96zM613.62 150.81h1.96v2.36h-1.96zM615.54 151.25h1.96v3.05h-1.96zM617.46 156.57h1.96v2.68h-1.96zM619.38 158.37h1.96v1.26h-1.96zM621.3 153.15h1.96v2.5h-1.96zM623.22 161.93h1.96v1.34h-1.96zM625.14 165.7h1.96v3.1h-1.96zM627.06 158.92h1.96v3.15h-1.96zM628.98 154.29h1.96v1.22h-1.96zM630.9 153.44h1.96v1.72h-1.96zM632.83 157.56h1.96v6.22h-1.96zM634.75 156.17h1.96v3.1h-1.96zM636.67 151.75h1.96v1.68h-1.96zM638.59 158.51h1.96v1.93h-1.96zM640.51 149.23h1.96v3.02h-1.96zM642.43 153.53h1.96v1.79h-1.96zM644.35 154h1.96v1.41h-1.96zM646.27 156.15h1.96v1.86h-1.96zM648.19 161.82h1.96v1.45h-1.96zM650.11 153.15h1.96v2.26h-1.96zM652.03 148.83h1.96v2.75h-1.96zM653.95 163.19h1.96v1.21h-1.96zM655.88 155.67h1.96v1.5h-1.96zM657.8 156.09h1.96v5.5h-1.96zM659.72 154.74h1.96v2.37h-1.96zM661.64 157.25h1.96v2.86h-1.96zM663.56 156.93h1.96v2.21h-1.96zM665.48 153.1h1.96v3.15h-1.96z" fill="#8da0cb"/>
<path d="M233.3 160.21h1.96v28.58h-1.96zM235.22 164.15h1.96v25.26h-1.96zM237.14 158.66h1.96v30.35h-1.96zM239.06 161.32h1.96v27.26h-1.96zM240.98 166.14h1.96v22.1h-1.96zM242.9 153.84h1.96v33.66h-1.96zM244.82 153.84h1.96v33.66h-1.96zM246.75 149.87h1.96v34.38h-1.96zM248.67 148.14h1.96v35.56h-1.96zM250.59 149.77h1.96v32.89h-1.96zM252.51 150.5h1.96v31.48h-1.96zM254.43 149.97h1.96v37.44h-1.96zM256.35 149.5h1.96v36.56h-1.96zM258.27 148.52h1.96v35.23h-1.96zM260.19 151.44h1.96v28.99h-1.96zM262.11 150.89h1.96v30.25h-1.96zM264.03 148.86h1.96v34.98h-1.96zM265.95 150.81h1.96v36.99h-1.96zM267.87 147.24h1.96v35.01h-1.96zM269.8 148.01h1.96v34.65h-1.96zM271.72 151.11h1.96v29.26h-1.96zM273.64 147.96h1.96v38.95h-1.96zM275.56 146.95h1.96v34.49h-1.96zM277.48 150.63h1.96v34.13h-1.96zM279.4 149.6h1.96v33.86h-1.96zM281.32 149.21h1.96v37.37h-1.96zM283.24 149.66h1.96v38.77h-1.96zM285.16 155.25h1.96v28.11h-1.96zM287.08 149.37h1.96v36.27h-1.96zM289 146.64h1.96v36.37h-1.96zM290.92 148.77h1.96v37.13h-1.96zM292.84 148.53h1.96v37.54h-1.96zM294.77 147.73h1.96v34.8h-1.96zM296.69 149.26h1.96v37.73h-1.96zM298.61 147.41h1.96v38.38h-1.96zM300.53 155.14h1.96v31.23h-1.96zM302.45 153.3h1.96v32.31h-1.96zM304.37 157.3h1.96v30.54h-1.96zM306.29 162.07h1.96v26.33h-1.96zM308.21 165.22h1.96v22.9h-1.96zM310.13 155.1h1.96v33.66h-1.96zM312.05 158.31h1.96v22.98h-1.96zM313.97 156.9h1.96v29.99h-1.96zM315.89 158.63h1.96v27.21h-1.96zM317.82 165.04h1.96v20.7h-1.96zM319.74 156.17h1.96v30.71h-1.96zM321.66 148.97h1.96v39.78h-1.96zM323.58 155.13h1.96v31.26h-1.96zM325.5 161.3h1.96v26.18h-1.96zM327.42 158.81h1.96v27.68h-1.96zM329.34 160.13h1.96v27.9h-1.96zM331.26 160.91h1.96v26.59h-1.96zM333.18 159.07h1.96v26.33h-1.96zM335.1 159.39h1.96v29.06h-1.96zM337.02 157.43h1.96v28.16h-1.96zM338.94 162.48h1.96v26.4h-1.96zM340.86 158.23h1.96v29.48h-1.96zM342.79 156.18h1.96v31.25h-1.96zM344.71 156.81h1.96v30.54h-1.96zM346.63 159.87h1.96v26.54h-1.96zM348.55 160.47h1.96v25.63h-1.96zM350.47 155.79h1.96v29.35h-1.96zM352.39 157.59h1.96v31.34h-1.96zM354.31 157.49h1.96v27.5h-1.96zM356.23 161.16h1.96v24.93h-1.96zM358.15 157.67h1.96v28.43h-1.96zM360.07 152.19h1.96v33.96h-1.96zM361.99 164.39h1.96v24.29h-1.96zM363.91 157.13h1.96v30.53h-1.96zM365.83 158.71h1.96v29.84h-1.96zM367.76 159.08h1.96v28.42h-1.96zM369.68 161.13h1.96v24.82h-1.96zM371.6 154.25h1.96v32.01h-1.96zM373.52 160.96h1.96v27.57h-1.96zM375.44 160.08h1.96v27.08h-1.96zM377.36 160.65h1.96v26.92h-1.96zM379.28 153.07h1.96v34.51h-1.96zM381.2 165.93h1.96v22h-1.96zM383.12 155.35h1.96v30.64h-1.96zM385.04 152.45h1.96v34.26h-1.96zM386.96 159.57h1.96v27.89h-1.96zM388.88 160.46h1.96v22.51h-1.96zM390.81 159.81h1.96v23.26h-1.96zM392.73 157.68h1.96v27.43h-1.96zM394.65 155.22h1.96v33.49h-1.96zM396.57 158.43h1.96v28.15h-1.96zM398.49 161.79h1.96v25.46h-1.96zM400.41 149.99h1.96v37.01h-1.96zM402.33 158.23h1.96v29.16h-1.96zM404.25 161.82h1.96v26.3h-1.96zM406.17 151.9h1.96v32.36h-1.96zM408.09 152.85h1.96v36.09h-1.96zM410.01 152.34h1.96v32.76h-1.96zM411.93 153.57h1.96v35.25h-1.96zM413.85 156.43h1.96v31.51h-1.96zM415.78 164.54h1.96v24.47h-1.96zM417.7 155.28h1.96v32.93h-1.96zM419.62 157.4h1.96v29.15h-1.96zM421.54 157.4h1.96v28.86h-1.96zM423.46 161.52h1.96v26.03h-1.96zM425.38 154.51h1.96v32.04h-1.96zM427.3 151.92h1.96v34.02h-1.96zM429.22 164.19h1.96v23h-1.96zM431.14 155.59h1.96v33.01h-1.96zM433.06 156.31h1.96v30.09h-1.96zM434.98 160.1h1.96v25.74h-1.96zM436.9 156.9h1.96v31.67h-1.96zM438.83 157.96h1.96v27.69h-1.96zM440.75 160.25h1.96v28.33h-1.96zM442.67 155.94h1.96v32.78h-1.96zM444.59 158.32h1.96v28.24h-1.96zM446.51 152.19h1.96v36.16h-1.96zM448.43 164.71h1.96v22.61h-1.96zM450.35 158.65h1.96v26.62h-1.96zM452.27 159h1.96v27.42h-1.96zM454.19 164.26h1.96v23.6h-1.96zM456.11 156.28h1.96v28.77h-1.96zM458.03 154.48h1.96v32.34h-1.96zM459.95 163.58h1.96v24.46h-1.96zM461.87 154.09h1.96v34.11h-1.96zM463.8 156.38h1.96v28.52h-1.96zM465.72 154.48h1.96v27.19h-1.96zM467.64 159.84h1.96v25.89h-1.96zM469.56 165.36h1.96v22.53h-1.96zM471.48 161.53h1.96v23.71h-1.96zM473.4 154.49h1.96v30.5h-1.96zM475.32 158.83h1.96v29.56h-1.96zM477.24 164.65h1.96v24.26h-1.96zM479.16 159.17h1.96v27.14h-1.96zM481.08 159.51h1.96v28.78h-1.96zM483 160.6h1.96v26.83h-1.96zM484.92 156.54h1.96v32.17h-1.96zM486.85 159.94h1.96v25.17h-1.96zM488.77 156.94h1.96v28.18h-1.96zM490.69 161.72h1.96v27.09h-1.96zM492.61 158.2h1.96v28.65h-1.96zM494.53 156.28h1.96v32.24h-1.96zM496.45 162h1.96v26.03h-1.96zM498.37 154.05h1.96v31.92h-1.96zM500.29 158.66h1.96v29.55h-1.96zM502.21 161.9h1.96v26.04h-1.96zM504.13 153.82h1.96v31.67h-1.96zM506.05 160.39h1.96v26.84h-1.96zM507.97 155.38h1.96v31.19h-1.96zM509.89 162.47h1.96v26.06h-1.96zM511.82 161.54h1.96v25.54h-1.96zM513.74 157.52h1.96v25.69h-1.96zM515.66 163.15h1.96v25h-1.96zM517.58 159.03h1.96v27.94h-1.96zM519.5 156.75h1.96v30.76h-1.96zM521.42 151.93h1.96v33.34h-1.96zM523.34 160.98h1.96v27.56h-1.96zM525.26 165.84h1.96v20.74h-1.96zM527.18 152.19h1.96v35.25h-1.96zM529.1 161.31h1.96v24.9h-1.96zM531.02 155.42h1.96v31.89h-1.96zM532.94 164.8h1.96v18.55h-1.96zM534.87 160.15h1.96v27.94h-1.96zM536.79 158.97h1.96v29.24h-1.96zM538.71 157.55h1.96v27.77h-1.96zM540.63 152.18h1.96v33.3h-1.96zM542.55 159.88h1.96v28.39h-1.96zM544.47 157.05h1.96v30.4h-1.96zM546.39 154.52h1.96v32.7h-1.96zM548.31 156.32h1.96v29.64h-1.96zM550.23 155.25h1.96v30.28h-1.96zM552.15 159.21h1.96v25.8h-1.96zM554.07 160.39h1.96v26.26h-1.96zM555.99 160.35h1.96v26.67h-1.96zM557.91 155.62h1.96v29.77h-1.96zM559.84 157.7h1.96v28.56h-1.96zM561.76 164.07h1.96v23.38h-1.96zM563.68 156.47h1.96v26.82h-1.96zM565.6 155.78h1.96v32.83h-1.96zM567.52 153.27h1.96v34.48h-1.96zM569.44 156.3h1.96v31.97h-1.96zM571.36 165.19h1.96v20.15h-1.96zM573.28 159.06h1.96v26.86h-1.96zM575.2 160.79h1.96v26.18h-1.96zM577.12 156.51h1.96v32.33h-1.96zM579.04 166.82h1.96v19.24h-1.96zM580.96 157.24h1.96v27.78h-1.96zM582.88 162.06h1.96v26.31h-1.96zM584.81 150.88h1.96v36.56h-1.96zM586.73 155.08h1.96v31.1h-1.96zM588.65 155.28h1.96v32.16h-1.96zM590.57 155.85h1.96v31.78h-1.96zM592.49 165.29h1.96v22.55h-1.96zM594.41 154.42h1.96v32.15h-1.96zM596.33 158.67h1.96v28.32h-1.96zM598.25 156.26h1.96v32.08h-1.96zM600.17 161.49h1.96v21.77h-1.96zM602.09 162.32h1.96v23.95h-1.96zM604.01 160.3h1.96v24.79h-1.96zM605.93 156.39h1.96v30.56h-1.96zM607.86 154.01h1.96v32.26h-1.96zM609.78 157.56h1.96v31.36h-1.96zM611.7 155.8h1.96v30.2h-1.96zM613.62 153.17h1.96v33.36h-1.96zM615.54 154.29h1.96v28.35h-1.96zM617.46 159.25h1.96v28.66h-1.96zM619.38 159.62h1.96v26.28h-1.96zM621.3 155.65h1.96v30.46h-1.96zM623.22 163.26h1.96v22.6h-1.96zM625.14 168.8h1.96v18.46h-1.96zM627.06 162.07h1.96v25.92h-1.96zM628.98 155.5h1.96v29.9h-1.96zM630.9 155.16h1.96v32.99h-1.96zM632.83 163.78h1.96v22.18h-1.96zM634.75 159.27h1.96v26.03h-1.96zM636.67 153.43h1.96v31.74h-1.96zM638.59 160.44h1.96v27.18h-1.96zM640.51 152.25h1.96v35.38h-1.96zM642.43 155.31h1.96v32.53h-1.96zM644.35 155.41h1.96v30.17h-1.96zM646.27 158.01h1.96v30.97h-1.96zM648.19 163.27h1.96v21.76h-1.96zM650.11 155.41h1.96v30.19h-1.96zM652.03 151.58h1.96v35.61h-1.96zM653.95 164.39h1.96v21h-1.96zM655.88 157.17h1.96v28.94h-1.96zM657.8 161.6h1.96v24.31h-1.96zM659.72 157.11h1.96v31.4h-1.96zM661.64 160.1h1.96v25.42h-1.96zM663.56 159.14h1.96v27.04h-1.96zM665.48 156.25h1.96v29.8h-1.96z" fill="#fc8d62"/>
<path d="M233.3 188.79h1.96v3.81h-1.96zM235.22 189.41h1.96v3.19h-1.96zM237.14 189.01h1.96v3.59h-1.96zM239.06 188.58h1.96v4.02h-1.96zM240.98 188.24h1.96v4.36h-1.96zM242.9 187.5h1.96v5.1h-1.96zM244.82 187.5h1.96v5.1h-1.96zM246.75 184.25h1.96v8.35h-1.96zM248.67 183.7h1.96v8.9h-1.96zM250.59 182.65h1.96v9.95h-1.96zM252.51 181.98h1.96v10.62h-1.96zM254.43 187.41h1.96v5.19h-1.96zM256.35 186.06h1.96v6.54h-1.96zM258.27 183.75h1.96v8.85h-1.96zM260.19 180.43h1.96v12.17h-1.96zM262.11 181.14h1.96v11.46h-1.96zM264.03 183.84h1.96v8.76h-1.96zM265.95 187.8h1.96v4.8h-1.96zM267.87 182.25h1.96v10.35h-1.96zM269.8 182.66h1.96v9.94h-1.96zM271.72 180.37h1.96v12.23h-1.96zM273.64 186.91h1.96v5.69h-1.96zM275.56 181.44h1.96v11.16h-1.96zM277.48 184.76h1.96v7.84h-1.96zM279.4 183.46h1.96v9.14h-1.96zM281.32 186.58h1.96v6.02h-1.96zM283.24 188.43h1.96v4.17h-1.96zM285.16 183.36h1.96v9.24h-1.96zM287.08 185.64h1.96v6.96h-1.96zM289 183h1.96v9.6h-1.96zM290.92 185.91h1.96v6.69h-1.96zM292.84 186.07h1.96v6.53h-1.96zM294.77 182.52h1.96v10.08h-1.96zM296.69 186.99h1.96v5.61h-1.96zM298.61 185.8h1.96v6.8h-1.96zM300.53 186.38h1.96v6.22h-1.96zM302.45 185.61h1.96v6.99h-1.96zM304.37 187.84h1.96v4.76h-1.96zM306.29 188.39h1.96v4.21h-1.96zM308.21 188.12h1.96v4.48h-1.96zM310.13 188.75h1.96v3.85h-1.96zM312.05 181.29h1.96v11.31h-1.96zM313.97 186.89h1.96v5.71h-1.96zM315.89 185.84h1.96v6.76h-1.96zM317.82 185.74h1.96v6.86h-1.96zM319.74 186.88h1.96v5.72h-1.96zM321.66 188.75h1.96v3.85h-1.96zM323.58 186.39h1.96v6.21h-1.96zM325.5 187.48h1.96v5.12h-1.96zM327.42 186.49h1.96v6.11h-1.96zM329.34 188.03h1.96v4.57h-1.96zM331.26 187.5h1.96v5.1h-1.96zM333.18 185.41h1.96v7.19h-1.96zM335.1 188.44h1.96v4.16h-1.96zM337.02 185.6h1.96v7h-1.96zM338.94 188.88h1.96v3.72h-1.96zM340.86 187.71h1.96v4.89h-1.96zM342.79 187.42h1.96v5.18h-1.96zM344.71 187.35h1.96v5.25h-1.96zM346.63 186.41h1.96v6.19h-1.96zM348.55 186.1h1.96v6.5h-1.96zM350.47 185.14h1.96v7.46h-1.96zM352.39 188.94h1.96v3.66h-1.96zM354.31 184.99h1.96v7.61h-1.96zM356.23 186.09h1.96v6.51h-1.96zM358.15 186.1h1.96v6.5h-1.96zM360.07 186.15h1.96v6.45h-1.96zM361.99 188.68h1.96v3.92h-1.96zM363.91 187.66h1.96v4.94h-1.96zM365.83 188.54h1.96v4.06h-1.96zM367.76 187.5h1.96v5.1h-1.96zM369.68 185.95h1.96v6.65h-1.96zM371.6 186.26h1.96v6.34h-1.96zM373.52 188.53h1.96v4.07h-1.96zM375.44 187.16h1.96v5.44h-1.96zM377.36 187.56h1.96v5.04h-1.96zM379.28 187.59h1.96v5.01h-1.96zM381.2 187.93h1.96v4.67h-1.96zM383.12 186h1.96v6.6h-1.96zM385.04 186.71h1.96v5.89h-1.96zM386.96 187.47h1.96v5.13h-1.96zM388.88 182.97h1.96v9.63h-1.96zM390.81 183.07h1.96v9.53h-1.96zM392.73 185.12h1.96v7.48h-1.96zM394.65 188.71h1.96v3.89h-1.96zM396.57 186.58h1.96v6.02h-1.96zM398.49 187.25h1.96v5.35h-1.96zM400.41 187h1.96v5.6h-1.96zM402.33 187.39h1.96v5.21h-1.96zM404.25 188.12h1.96v4.48h-1.96zM406.17 184.25h1.96v8.35h-1.96zM408.09 188.94h1.96v3.66h-1.96zM410.01 185.09h1.96v7.51h-1.96zM411.93 188.82h1.96v3.78h-1.96zM413.85 187.95h1.96v4.65h-1.96zM415.78 189.02h1.96v3.58h-1.96zM417.7 188.21h1.96v4.39h-1.96zM419.62 186.55h1.96v6.05h-1.96zM421.54 186.26h1.96v6.34h-1.96zM423.46 187.55h1.96v5.05h-1.96zM425.38 186.56h1.96v6.04h-1.96zM427.3 185.94h1.96v6.66h-1.96zM429.22 187.19h1.96v5.41h-1.96zM431.14 188.6h1.96v4h-1.96zM433.06 186.4h1.96v6.2h-1.96zM434.98 185.84h1.96v6.76h-1.96zM436.9 188.57h1.96v4.03h-1.96zM438.83 185.65h1.96v6.95h-1.96zM440.75 188.58h1.96v4.02h-1.96zM442.67 188.71h1.96v3.89h-1.96zM444.59 186.56h1.96v6.04h-1.96zM446.51 188.36h1.96v4.24h-1.96zM448.43 187.32h1.96v5.28h-1.96zM450.35 185.28h1.96v7.32h-1.96zM452.27 186.42h1.96v6.18h-1.96zM454.19 187.86h1.96v4.74h-1.96zM456.11 185.05h1.96v7.55h-1.96zM458.03 186.82h1.96v5.78h-1.96zM459.95 188.04h1.96v4.56h-1.96zM461.87 188.2h1.96v4.4h-1.96zM463.8 184.9h1.96v7.7h-1.96zM465.72 181.68h1.96v10.92h-1.96zM467.64 185.73h1.96v6.87h-1.96zM469.56 187.89h1.96v4.71h-1.96zM471.48 185.24h1.96v7.36h-1.96zM473.4 184.98h1.96v7.62h-1.96zM475.32 188.4h1.96v4.2h-1.96zM477.24 188.91h1.96v3.69h-1.96zM479.16 186.3h1.96v6.3h-1.96zM481.08 188.29h1.96v4.31h-1.96zM483 187.43h1.96v5.17h-1.96zM484.92 188.71h1.96v3.89h-1.96zM486.85 185.11h1.96v7.49h-1.96zM488.77 185.12h1.96v7.48h-1.96zM490.69 188.81h1.96v3.79h-1.96zM492.61 186.85h1.96v5.75h-1.96zM494.53 188.51h1.96v4.09h-1.96zM496.45 188.03h1.96v4.57h-1.96zM498.37 185.98h1.96v6.62h-1.96zM500.29 188.21h1.96v4.39h-1.96zM502.21 187.95h1.96v4.65h-1.96zM504.13 185.48h1.96v7.12h-1.96zM506.05 187.23h1.96v5.37h-1.96zM507.97 186.58h1.96v6.02h-1.96zM509.89 188.53h1.96v4.07h-1.96zM511.82 187.08h1.96v5.52h-1.96zM513.74 183.21h1.96v9.39h-1.96zM515.66 188.15h1.96v4.45h-1.96zM517.58 186.97h1.96v5.63h-1.96zM519.5 187.52h1.96v5.08h-1.96zM521.42 185.27h1.96v7.33h-1.96zM523.34 188.54h1.96v4.06h-1.96zM525.26 186.59h1.96v6.01h-1.96zM527.18 187.44h1.96v5.16h-1.96zM529.1 186.21h1.96v6.39h-1.96zM531.02 187.31h1.96v5.29h-1.96zM532.94 183.35h1.96v9.25h-1.96zM534.87 188.08h1.96v4.52h-1.96zM536.79 188.2h1.96v4.4h-1.96zM538.71 185.32h1.96v7.28h-1.96zM540.63 185.47h1.96v7.13h-1.96zM542.55 188.27h1.96v4.33h-1.96zM544.47 187.44h1.96v5.16h-1.96zM546.39 187.23h1.96v5.37h-1.96zM548.31 185.97h1.96v6.63h-1.96zM550.23 185.52h1.96v7.08h-1.96zM552.15 185.01h1.96v7.59h-1.96zM554.07 186.65h1.96v5.95h-1.96zM555.99 187.02h1.96v5.58h-1.96zM557.91 185.39h1.96v7.21h-1.96zM559.84 186.26h1.96v6.34h-1.96zM561.76 187.46h1.96v5.14h-1.96zM563.68 183.28h1.96v9.32h-1.96zM565.6 188.62h1.96v3.98h-1.96zM567.52 187.75h1.96v4.85h-1.96zM569.44 188.27h1.96v4.33h-1.96zM571.36 185.35h1.96v7.25h-1.96zM573.28 185.92h1.96v6.68h-1.96zM575.2 186.97h1.96v5.63h-1.96zM577.12 188.84h1.96v3.76h-1.96zM579.04 186.06h1.96v6.54h-1.96zM580.96 185.03h1.96v7.57h-1.96zM582.88 188.37h1.96v4.23h-1.96zM584.81 187.44h1.96v5.16h-1.96zM586.73 186.18h1.96v6.42h-1.96zM588.65 187.45h1.96v5.15h-1.96zM590.57 187.62h1.96v4.98h-1.96zM592.49 187.85h1.96v4.75h-1.96zM594.41 186.58h1.96v6.02h-1.96zM596.33 186.99h1.96v5.61h-1.96zM598.25 188.34h1.96v4.26h-1.96zM600.17 183.26h1.96v9.34h-1.96zM602.09 186.28h1.96v6.32h-1.96zM604.01 185.1h1.96v7.5h-1.96zM605.93 186.96h1.96v5.64h-1.96zM607.86 186.27h1.96v6.33h-1.96zM609.78 188.91h1.96v3.69h-1.96zM611.7 186h1.96v6.6h-1.96zM613.62 186.54h1.96v6.06h-1.96zM615.54 182.65h1.96v9.95h-1.96zM617.46 187.92h1.96v4.68h-1.96zM619.38 185.9h1.96v6.7h-1.96zM621.3 186.11h1.96v6.49h-1.96zM623.22 185.86h1.96v6.74h-1.96zM625.14 187.25h1.96v5.35h-1.96zM627.06 187.99h1.96v4.61h-1.96zM628.98 185.41h1.96v7.19h-1.96zM630.9 188.15h1.96v4.45h-1.96zM632.83 185.96h1.96v6.64h-1.96zM634.75 185.3h1.96v7.3h-1.96zM636.67 185.17h1.96v7.43h-1.96zM638.59 187.62h1.96v4.98h-1.96zM640.51 187.63h1.96v4.97h-1.96zM642.43 187.84h1.96v4.76h-1.96zM644.35 185.57h1.96v7.03h-1.96zM646.27 188.99h1.96v3.61h-1.96zM648.19 185.03h1.96v7.57h-1.96zM650.11 185.61h1.96v6.99h-1.96zM652.03 187.19h1.96v5.41h-1.96zM653.95 185.39h1.96v7.21h-1.96zM655.88 186.11h1.96v6.49h-1.96zM657.8 185.9h1.96v6.7h-1.96zM659.72 188.51h1.96v4.09h-1.96zM661.64 185.52h1.96v7.08h-1.96zM663.56 186.18h1.96v6.42h-1.96zM665.48 186.05h1.96v6.55h-1.96z" fill="#66c2a5"/>
<path d="M246.75 141.6h1.96v0.26h-1.96zM248.67 141.6h1.96v0.26h-1.96zM250.59 141.6h1.96v0.26h-1.96zM252.51 141.6h1.96v0.26h-1.96zM254.43 141.6h1.96v0.26h-1.96zM256.35 141.6h1.96v0.26h-1.96zM258.27 141.6h1.96v0.26h-1.96zM260.19 141.6h1.96v0.26h-1.96zM262.11 141.6h1.96v0.26h-1.96zM264.03 141.6h1.96v0.26h-1.96zM265.95 141.6h1.96v0.26h-1.96zM267.87 141.6h1.96v0.26h-1.96zM269.8 141.6h1.96v0.26h-1.96zM271.72 141.6h1.96v0.26h-1.96zM273.64 141.6h1.96v0.26h-1.96zM275.56 141.6h1.96v0.26h-1.96zM277.48 141.6h1.96v0.26h-1.96zM279.4 141.6h1.96v0.26h-1.96zM281.32 141.6h1.96v0.26h-1.96zM283.24 141.6h1.96v0.26h-1.96zM285.16 141.6h1.96v0.26h-1.96zM287.08 141.6h1.96v0.26h-1.96zM289 141.6h1.96v0.26h-1.96zM290.92 141.6h1.96v0.26h-1.96zM292.84 141.6h1.96v0.26h-1.96zM294.77 141.6h1.96v0.26h-1.96zM296.69 141.6h1.96v0.26h-1.96zM298.61 141.6h1.96v0.26h-1.96zM300.53 141.6h1.96v2.91h-1.96zM302.45 141.6h1.96v0.8h-1.96zM304.37 141.6h1.96v4.26h-1.96zM306.29 141.6h1.96v2.76h-1.96zM308.21 141.6h1.96v6.54h-1.96zM310.13 141.6h1.96v3.44h-1.96zM312.05 141.6h1.96v0.3h-1.96zM313.97 141.6h1.96v4.94h-1.96zM315.89 141.6h1.96v2.26h-1.96zM317.82 141.6h1.96v5.42h-1.96zM319.74 141.6h1.96v5.72h-1.96zM321.66 141.6h1.96v0.01h-1.96zM323.58 141.6h1.96v3.33h-1.96zM325.5 141.6h1.96v2.18h-1.96zM327.42 141.6h1.96v4.01h-1.96zM329.34 141.6h1.96v4.66h-1.96zM331.26 141.6h1.96v2.82h-1.96zM333.18 141.6h1.96v3.08h-1.96zM335.1 141.6h1.96v3.74h-1.96zM337.02 141.6h1.96v0.66h-1.96zM338.94 141.6h1.96v5.54h-1.96zM340.86 141.6h1.96v0.71h-1.96zM342.79 141.6h1.96v1.19h-1.96zM344.71 141.6h1.96v2.77h-1.96zM346.63 141.6h1.96v5.01h-1.96zM348.55 141.6h1.96v4.96h-1.96zM350.47 141.6h1.96v3.88h-1.96zM352.39 141.6h1.96v5.66h-1.96zM354.31 141.6h1.96v2.39h-1.96zM356.23 141.6h1.96v5.53h-1.96zM358.15 141.6h1.96v6.37h-1.96zM360.07 141.6h1.96v1.61h-1.96zM361.99 141.6h1.96v5.74h-1.96zM363.91 141.6h1.96v2.36h-1.96zM365.83 141.6h1.96v3.88h-1.96zM367.76 141.6h1.96v5.88h-1.96zM369.68 141.6h1.96v4.48h-1.96zM371.6 141.6h1.96v0.75h-1.96zM373.52 141.6h1.96v4.18h-1.96zM375.44 141.6h1.96v4.78h-1.96zM377.36 141.6h1.96v4.75h-1.96zM379.28 141.6h1.96v0.28h-1.96zM381.2 141.6h1.96v5.12h-1.96zM383.12 141.6h1.96v4.82h-1.96zM385.04 141.6h1.96v0.97h-1.96zM386.96 141.6h1.96v0.2h-1.96zM388.88 141.6h1.96v6.48h-1.96zM390.81 141.6h1.96v5.11h-1.96zM392.73 141.6h1.96v3.32h-1.96zM394.65 141.6h1.96v4.13h-1.96zM396.57 141.6h1.96v5.77h-1.96zM398.49 141.6h1.96v2.28h-1.96zM400.41 141.6h1.96v0.28h-1.96zM402.33 141.6h1.96v4.3h-1.96zM404.25 141.6h1.96v2.43h-1.96zM406.17 141.6h1.96v0.95h-1.96zM408.09 141.6h1.96v0.73h-1.96zM410.01 141.6h1.96v0.34h-1.96zM411.93 141.6h1.96v1.09h-1.96zM413.85 141.6h1.96v3.09h-1.96zM415.78 141.6h1.96v0.62h-1.96zM417.7 141.6h1.96v0.24h-1.96zM419.62 141.6h1.96v6.08h-1.96zM421.54 141.6h1.96v5.63h-1.96zM423.46 141.6h1.96v4.87h-1.96zM425.38 141.6h1.96v3.19h-1.96zM427.3 141.6h1.96v1.02h-1.96zM429.22 141.6h1.96v5.59h-1.96zM431.14 141.6h1.96v2.45h-1.96zM433.06 141.6h1.96v4.3h-1.96zM434.98 141.6h1.96v6.41h-1.96zM436.9 141.6h1.96v1.25h-1.96zM438.83 141.6h1.96v5.92h-1.96zM440.75 141.6h1.96v5.78h-1.96zM442.67 141.6h1.96v1.37h-1.96zM444.59 141.6h1.96v3.66h-1.96zM446.51 141.6h1.96v2.22h-1.96zM448.43 141.6h1.96v6.54h-1.96zM450.35 141.6h1.96v3.21h-1.96zM452.27 141.6h1.96v0.64h-1.96zM454.19 141.6h1.96v2.87h-1.96zM456.11 141.6h1.96v0.51h-1.96zM458.03 141.6h1.96v1.07h-1.96zM459.95 141.6h1.96v3.07h-1.96zM461.87 141.6h1.96v3.52h-1.96zM463.8 141.6h1.96v5.21h-1.96zM465.72 141.6h1.96v3.62h-1.96zM467.64 141.6h1.96v2.85h-1.96zM469.56 141.6h1.96v5.23h-1.96zM471.48 141.6h1.96v5.95h-1.96zM473.4 141.6h1.96v3.44h-1.96zM475.32 141.6h1.96v3.02h-1.96zM477.24 141.6h1.96v5.64h-1.96zM479.16 141.6h1.96v1.86h-1.96zM481.08 141.6h1.96v6.37h-1.96zM483 141.6h1.96v1.8h-1.96zM484.92 141.6h1.96v6.5h-1.96zM486.85 141.6h1.96v4.18h-1.96zM488.77 141.6h1.96v1.78h-1.96zM490.69 141.6h1.96v6.58h-1.96zM492.61 141.6h1.96v5.45h-1.96zM494.53 141.6h1.96v6.55h-1.96zM496.45 141.6h1.96v1.27h-1.96zM498.37 141.6h1.96v4.66h-1.96zM500.29 141.6h1.96v3.57h-1.96zM502.21 141.6h1.96v1.19h-1.96zM504.13 141.6h1.96v2.71h-1.96zM506.05 141.6h1.96v3.48h-1.96zM507.97 141.6h1.96v3.36h-1.96zM509.89 141.6h1.96v5.54h-1.96zM511.82 141.6h1.96v4.28h-1.96zM513.74 141.6h1.96v3.5h-1.96zM515.66 141.6h1.96v5.67h-1.96zM517.58 141.6h1.96v5.75h-1.96zM519.5 141.6h1.96v5.8h-1.96zM521.42 141.6h1.96v2.13h-1.96zM523.34 141.6h1.96v5.55h-1.96zM525.26 141.6h1.96v5.9h-1.96zM527.18 141.6h1.96v0.05h-1.96zM529.1 141.6h1.96v4.37h-1.96zM531.02 141.6h1.96v6.58h-1.96zM532.94 141.6h1.96v2.78h-1.96zM534.87 141.6h1.96v6.2h-1.96zM536.79 141.6h1.96v1.89h-1.96zM538.71 141.6h1.96v3.52h-1.96zM540.63 141.6h1.96v0.4h-1.96zM542.55 141.6h1.96v0.79h-1.96zM544.47 141.6h1.96v5.65h-1.96zM546.39 141.6h1.96v4.6h-1.96zM548.31 141.6h1.96v1.43h-1.96zM550.23 141.6h1.96v4.16h-1.96zM552.15 141.6h1.96v5.96h-1.96zM554.07 141.6h1.96v1.18h-1.96zM555.99 141.6h1.96v3.17h-1.96zM557.91 141.6h1.96v0.62h-1.96zM559.84 141.6h1.96v5.54h-1.96zM561.76 141.6h1.96v3.76h-1.96zM563.68 141.6h1.96v4.81h-1.96zM565.6 141.6h1.96v3.2h-1.96zM567.52 141.6h1.96v3.42h-1.96zM569.44 141.6h1.96v3.16h-1.96zM571.36 141.6h1.96v1.48h-1.96zM573.28 141.6h1.96v1.49h-1.96zM575.2 141.6h1.96v3.37h-1.96zM577.12 141.6h1.96v1.71h-1.96zM579.04 141.6h1.96v5.03h-1.96zM580.96 141.6h1.96v4.94h-1.96zM582.88 141.6h1.96v0.99h-1.96zM584.81 141.6h1.96v0.92h-1.96zM586.73 141.6h1.96v1.75h-1.96zM588.65 141.6h1.96v2.17h-1.96zM590.57 141.6h1.96v2.17h-1.96zM592.49 141.6h1.96v2.09h-1.96zM594.41 141.6h1.96v1.3h-1.96zM596.33 141.6h1.96v2.83h-1.96zM598.25 141.6h1.96v4.13h-1.96zM600.17 141.6h1.96v3.31h-1.96zM602.09 141.6h1.96v4.7h-1.96zM604.01 141.6h1.96v2.02h-1.96zM605.93 141.6h1.96v0.55h-1.96zM607.86 141.6h1.96v3.4h-1.96zM609.78 141.6h1.96v3.72h-1.96zM611.7 141.6h1.96v3.14h-1.96zM613.62 141.6h1.96v2.23h-1.96zM615.54 141.6h1.96v1.18h-1.96zM617.46 141.6h1.96v4.86h-1.96zM619.38 141.6h1.96v4.02h-1.96zM621.3 141.6h1.96v2.87h-1.96zM623.22 141.6h1.96v5.31h-1.96zM625.14 141.6h1.96v6.28h-1.96zM627.06 141.6h1.96v2.8h-1.96zM628.98 141.6h1.96v2.56h-1.96zM630.9 141.6h1.96v1.52h-1.96zM632.83 141.6h1.96v3.36h-1.96zM634.75 141.6h1.96v1.35h-1.96zM636.67 141.6h1.96v0.37h-1.96zM638.59 141.6h1.96v4.41h-1.96zM640.51 141.6h1.96v0.82h-1.96zM642.43 141.6h1.96v2.1h-1.96zM644.35 141.6h1.96v5.09h-1.96zM646.27 141.6h1.96v5.61h-1.96zM648.19 141.6h1.96v2.99h-1.96zM650.11 141.6h1.96v5.27h-1.96zM652.03 141.6h1.96v0.35h-1.96zM653.95 141.6h1.96v4.49h-1.96zM655.88 141.6h1.96v1.86h-1.96zM657.8 141.6h1.96v1.42h-1.96zM659.72 141.6h1.96v3.56h-1.96zM661.64 141.6h1.96v4.44h-1.96zM663.56 141.6h1.96v5.96h-1.96zM665.48 141.6h1.96v5.15h-1.96z" fill="#ffd92f"/>
<path d="M233.3 142.11L235.22 142.11M233.3 157.29L235.22 157.29M233.3 160.21L235.22 160.21M233.3 188.79L235.22 188.79M235.22 142.11L237.14 142.11M235.22 161.02L237.14 161.02M235.22 164.15L237.14 164.15M235.22 189.41L237.14 189.41M237.14 142.11L239.06 142.11M237.14 154.99L239.06 154.99M237.14 158.66L239.06 158.66M237.14 189.01L239.06 189.01M239.06 142.11L240.98 142.11M239.06 157.25L240.98 157.25M239.06 161.32L240.98 161.32M239.06 188.58L240.98 188.58M240.98 142.11L242.9 142.11M240.98 163.39L242.9 163.39M240.98 166.14L242.9 166.14M240.98 188.24L242.9 188.24M242.9 142.11L244.82 142.11M242.9 152.31L244.82 152.31M242.9 153.84L244.82 153.84M242.9 187.5L244.82 187.5M244.82 142.11L246.75 142.11M244.82 152.31L246.75 152.31M244.82 153.84L246.75 153.84M244.82 187.5L246.75 187.5M246.75 141.85L248.67 141.85M246.75 143.03L248.67 143.03M246.75 147.34L248.67 147.34M246.75 149.87L248.67 149.87M246.75 184.25L248.67 184.25M248.67 141.85L250.59 141.85M248.67 143.56L250.59 143.56M248.67 145.83L250.59 145.83M248.67 148.14L250.59 148.14M248.67 183.7L250.59 183.7M250.59 141.85L252.51 141.85M250.59 142.91L252.51 142.91M250.59 148.04L252.51 148.04M250.59 149.77L252.51 149.77M250.59 182.65L252.51 182.65M252.51 141.85L254.43 141.85M252.51 143.6L254.43 143.6M252.51 148.93L254.43 148.93M252.51 150.5L254.43 150.5M252.51 181.98L254.43 181.98M254.43 141.85L256.35 141.85M254.43 143.83L256.35 143.83M254.43 149.01L256.35 149.01M254.43 149.97L256.35 149.97M254.43 187.41L256.35 187.41M256.35 141.85L258.27 141.85M256.35 143.86L258.27 143.86M256.35 147.46L258.27 147.46M256.35 149.5L258.27 149.5M256.35 186.06L258.27 186.06M258.27 141.85L260.19 141.85M258.27 143.27L260.19 143.27M258.27 146.56L260.19 146.56M258.27 148.52L260.19 148.52M258.27 183.75L260.19 183.75M260.19 141.85L262.11 141.85M260.19 143.57L262.11 143.57M260.19 148.93L262.11 148.93M260.19 151.44L262.11 151.44M260.19 180.43L262.11 180.43M262.11 141.85L264.03 141.85M262.11 143.04L264.03 143.04M262.11 148.15L264.03 148.15M262.11 150.89L264.03 150.89M262.11 181.14L264.03 181.14M264.03 141.85L265.95 141.85M264.03 143.6L265.95 143.6M264.03 146.4L265.95 146.4M264.03 148.86L265.95 148.86M264.03 183.84L265.95 183.84M265.95 141.85L267.87 141.85M265.95 142.94L267.87 142.94M265.95 148.03L267.87 148.03M265.95 150.81L267.87 150.81M265.95 187.8L267.87 187.8M267.87 141.85L269.8 141.85M267.87 143.29L269.8 143.29M267.87 145.87L269.8 145.87M267.87 147.24L269.8 147.24M267.87 182.25L269.8 182.25M269.8 141.85L271.72 141.85M269.8 142.92L271.72 142.92M269.8 147.15L271.72 147.15M269.8 148.01L271.72 148.01M269.8 182.66L271.72 182.66M271.72 141.85L273.64 141.85M271.72 143.77L273.64 143.77M271.72 149.31L273.64 149.31M271.72 151.11L273.64 151.11M271.72 180.37L273.64 180.37M273.64 141.85L275.56 141.85M273.64 142.95L275.56 142.95M273.64 147.13L275.56 147.13M273.64 147.96L275.56 147.96M273.64 186.91L275.56 186.91M275.56 141.85L277.48 141.85M275.56 143.5L277.48 143.5M275.56 146.1L277.48 146.1M275.56 146.95L277.48 146.95M275.56 181.44L277.48 181.44M277.48 141.85L279.4 141.85M277.48 143.85L279.4 143.85M277.48 149.09L279.4 149.09M277.48 150.63L279.4 150.63M277.48 184.76L279.4 184.76M279.4 141.85L281.32 141.85M279.4 143.53L281.32 143.53M279.4 147.7L281.32 147.7M279.4 149.6L281.32 149.6M279.4 183.46L281.32 183.46M281.32 141.85L283.24 141.85M281.32 143.39L283.24 143.39M281.32 146.97L283.24 146.97M281.32 149.21L283.24 149.21M281.32 186.58L283.24 186.58M283.24 141.85L285.16 141.85M283.24 143.87L285.16 143.87M283.24 147.77L285.16 147.77M283.24 149.66L285.16 149.66M283.24 188.43L285.16 188.43M285.16 141.85L287.08 141.85M285.16 143.47L287.08 143.47M285.16 153.23L287.08 153.23M285.16 155.25L287.08 155.25M285.16 183.36L287.08 183.36M287.08 141.85L289 141.85M287.08 143.51L289 143.51M287.08 147.22L289 147.22M287.08 149.37L289 149.37M287.08 185.64L289 185.64M289 141.85L290.92 141.85M289 143.63L290.92 143.63M289 145.75L290.92 145.75M289 146.64L290.92 146.64M289 183L290.92 183M290.92 141.85L292.84 141.85M290.92 143.13L292.84 143.13M290.92 146.8L292.84 146.8M290.92 148.77L292.84 148.77M290.92 185.91L292.84 185.91M292.84 141.85L294.77 141.85M292.84 143.19L294.77 143.19M292.84 146.55L294.77 146.55M292.84 148.53L294.77 148.53M292.84 186.07L294.77 186.07M294.77 141.85L296.69 141.85M294.77 143.66L296.69 143.66M294.77 145.8L296.69 145.8M294.77 147.73L296.69 147.73M294.77 182.52L296.69 182.52M296.69 141.85L298.61 141.85M296.69 143.1L298.61 143.1M296.69 148.01L298.61 148.01M296.69 149.26L298.61 149.26M296.69 186.99L298.61 186.99M298.61 141.85L300.53 141.85M298.61 143.59L300.53 143.59M298.61 145.99L300.53 145.99M298.61 147.41L300.53 147.41M298.61 185.8L300.53 185.8M300.53 144.51L302.45 144.51M300.53 148.4L302.45 148.4M300.53 153.35L302.45 153.35M300.53 155.14L302.45 155.14M300.53 186.38L302.45 186.38M302.45 142.4L304.37 142.4M302.45 145.3L304.37 145.3M302.45 150.42L304.37 150.42M302.45 153.3L304.37 153.3M302.45 185.61L304.37 185.61M304.37 145.86L306.29 145.86M304.37 149.6L306.29 149.6M304.37 155.99L306.29 155.99M304.37 157.3L306.29 157.3M304.37 187.84L306.29 187.84M306.29 144.36L308.21 144.36M306.29 146.92L308.21 146.92M306.29 158.94L308.21 158.94M306.29 162.07L308.21 162.07M306.29 188.39L308.21 188.39M308.21 148.14L310.13 148.14M308.21 150.75L310.13 150.75M308.21 162.07L310.13 162.07M308.21 165.22L310.13 165.22M308.21 188.12L310.13 188.12M310.13 145.04L312.05 145.04M310.13 147.2L312.05 147.2M310.13 153.55L312.05 153.55M310.13 155.1L312.05 155.1M310.13 188.75L312.05 188.75M312.05 141.9L313.97 141.9M312.05 145.94L313.97 145.94M312.05 155.17L313.97 155.17M312.05 158.31L313.97 158.31M312.05 181.29L313.97 181.29M313.97 146.54L315.89 146.54M313.97 148.34L315.89 148.34M313.97 154.36L315.89 154.36M313.97 156.9L315.89 156.9M313.97 186.89L315.89 186.89M315.89 143.86L317.82 143.86M315.89 145.91L317.82 145.91M315.89 156.51L317.82 156.51M315.89 158.63L317.82 158.63M315.89 185.84L317.82 185.84M317.82 147.02L319.74 147.02M317.82 148.81L319.74 148.81M317.82 158.84L319.74 158.84M317.82 165.04L319.74 165.04M317.82 185.74L319.74 185.74M319.74 147.32L321.66 147.32M319.74 148.75L321.66 148.75M319.74 154.53L321.66 154.53M319.74 156.17L321.66 156.17M319.74 186.88L321.66 186.88M321.66 143.05L323.58 143.05M321.66 147.66L323.58 147.66M321.66 148.97L323.58 148.97M321.66 188.75L323.58 188.75M323.58 144.93L325.5 144.93M323.58 147.17L325.5 147.17M323.58 153.31L325.5 153.31M323.58 155.13L325.5 155.13M323.58 186.39L325.5 186.39M325.5 143.78L327.42 143.78M325.5 145.43L327.42 145.43M325.5 158.64L327.42 158.64M325.5 161.3L327.42 161.3M325.5 187.48L327.42 187.48M327.42 145.61L329.34 145.61M327.42 149.28L329.34 149.28M327.42 155.95L329.34 155.95M327.42 158.81L329.34 158.81M327.42 186.49L329.34 186.49M329.34 146.26L331.26 146.26M329.34 148.82L331.26 148.82M329.34 158.06L331.26 158.06M329.34 160.13L331.26 160.13M329.34 188.03L331.26 188.03M331.26 144.42L333.18 144.42M331.26 147L333.18 147M331.26 157.74L333.18 157.74M331.26 160.91L333.18 160.91M331.26 187.5L333.18 187.5M333.18 144.68L335.1 144.68M333.18 146.33L335.1 146.33M333.18 156.53L335.1 156.53M333.18 159.07L335.1 159.07M333.18 185.41L335.1 185.41M335.1 145.34L337.02 145.34M335.1 146.93L337.02 146.93M335.1 155.29L337.02 155.29M335.1 159.39L337.02 159.39M335.1 188.44L337.02 188.44M337.02 142.26L338.94 142.26M337.02 146.23L338.94 146.23M337.02 156.36L338.94 156.36M337.02 157.43L338.94 157.43M337.02 185.6L338.94 185.6M338.94 147.14L340.86 147.14M338.94 151.33L340.86 151.33M338.94 159.63L340.86 159.63M338.94 162.48L340.86 162.48M338.94 188.88L340.86 188.88M340.86 142.31L342.79 142.31M340.86 145.87L342.79 145.87M340.86 157.07L342.79 157.07M340.86 158.23L342.79 158.23M340.86 187.71L342.79 187.71M342.79 142.79L344.71 142.79M342.79 144.83L344.71 144.83M342.79 153.43L344.71 153.43M342.79 156.18L344.71 156.18M342.79 187.42L344.71 187.42M344.71 144.37L346.63 144.37M344.71 145.9L346.63 145.9M344.71 153.56L346.63 153.56M344.71 156.81L346.63 156.81M344.71 187.35L346.63 187.35M346.63 146.61L348.55 146.61M346.63 149.95L348.55 149.95M346.63 157.74L348.55 157.74M346.63 159.87L348.55 159.87M346.63 186.41L348.55 186.41M348.55 146.56L350.47 146.56M348.55 150.64L350.47 150.64M348.55 158.43L350.47 158.43M348.55 160.47L350.47 160.47M348.55 186.1L350.47 186.1M350.47 145.48L352.39 145.48M350.47 147.72L352.39 147.72M350.47 153.19L352.39 153.19M350.47 155.79L352.39 155.79M350.47 185.14L352.39 185.14M352.39 147.26L354.31 147.26M352.39 150.32L354.31 150.32M352.39 156.07L354.31 156.07M352.39 157.59L354.31 157.59M352.39 188.94L354.31 188.94M354.31 143.99L356.23 143.99M354.31 146.25L356.23 146.25M354.31 156.14L356.23 156.14M354.31 157.49L356.23 157.49M354.31 184.99L356.23 184.99M356.23 147.13L358.15 147.13M356.23 150.92L358.15 150.92M356.23 159.04L358.15 159.04M356.23 161.16L358.15 161.16M356.23 186.09L358.15 186.09M358.15 147.97L360.07 147.97M358.15 150.67L360.07 150.67M358.15 156.12L360.07 156.12M358.15 157.67L360.07 157.67M358.15 186.1L360.07 186.1M360.07 143.21L361.99 143.21M360.07 145.06L361.99 145.06M360.07 150.74L361.99 150.74M360.07 152.19L361.99 152.19M360.07 186.15L361.99 186.15M361.99 147.34L363.91 147.34M361.99 149.57L363.91 149.57M361.99 161.69L363.91 161.69M361.99 164.39L363.91 164.39M361.99 188.68L363.91 188.68M363.91 143.96L365.83 143.96M363.91 147.02L365.83 147.02M363.91 156.1L365.83 156.1M363.91 157.13L365.83 157.13M363.91 187.66L365.83 187.66M365.83 145.48L367.76 145.48M365.83 149.68L367.76 149.68M365.83 156.44L367.76 156.44M365.83 158.71L367.76 158.71M365.83 188.54L367.76 188.54M367.76 147.48L369.68 147.48M367.76 151.54L369.68 151.54M367.76 155.9L369.68 155.9M367.76 159.08L369.68 159.08M367.76 187.5L369.68 187.5M369.68 146.08L371.6 146.08M369.68 149.36L371.6 149.36M369.68 159.51L371.6 159.51M369.68 161.13L371.6 161.13M369.68 185.95L371.6 185.95M371.6 142.35L373.52 142.35M371.6 145.14L373.52 145.14M371.6 151.58L373.52 151.58M371.6 154.25L373.52 154.25M371.6 186.26L373.52 186.26M373.52 145.78L375.44 145.78M373.52 147.61L375.44 147.61M373.52 158.44L375.44 158.44M373.52 160.96L375.44 160.96M373.52 188.53L375.44 188.53M375.44 146.38L377.36 146.38M375.44 149.48L377.36 149.48M375.44 157.58L377.36 157.58M375.44 160.08L377.36 160.08M375.44 187.16L377.36 187.16M377.36 146.35L379.28 146.35M377.36 149.93L379.28 149.93M377.36 157.93L379.28 157.93M377.36 160.65L379.28 160.65M377.36 187.56L379.28 187.56M379.28 141.88L381.2 141.88M379.28 144.7L381.2 144.7M379.28 150.29L381.2 150.29M379.28 153.07L381.2 153.07M379.28 187.59L381.2 187.59M381.2 146.72L383.12 146.72M381.2 149.07L383.12 149.07M381.2 164.65L383.12 164.65M381.2 165.93L383.12 165.93M381.2 187.93L383.12 187.93M383.12 146.42L385.04 146.42M383.12 148.26L385.04 148.26M383.12 153.38L385.04 153.38M383.12 155.35L385.04 155.35M383.12 186L385.04 186M385.04 142.57L386.96 142.57M385.04 145.07L386.96 145.07M385.04 150.22L386.96 150.22M385.04 152.45L386.96 152.45M385.04 186.71L386.96 186.71M386.96 145.53L388.88 145.53M386.96 156.37L388.88 156.37M386.96 159.57L388.88 159.57M386.96 187.47L388.88 187.47M388.88 148.08L390.81 148.08M388.88 151.45L390.81 151.45M388.88 157.47L390.81 157.47M388.88 160.46L390.81 160.46M388.88 182.97L390.81 182.97M390.81 146.71L392.73 146.71M390.81 150.01L392.73 150.01M390.81 157.59L392.73 157.59M390.81 159.81L392.73 159.81M390.81 183.07L392.73 183.07M392.73 144.92L394.65 144.92M392.73 148.17L394.65 148.17M392.73 155.36L394.65 155.36M392.73 157.68L394.65 157.68M392.73 185.12L394.65 185.12M394.65 145.73L396.57 145.73M394.65 147.16L396.57 147.16M394.65 153.67L396.57 153.67M394.65 155.22L396.57 155.22M394.65 188.71L396.57 188.71M396.57 147.37L398.49 147.37M396.57 150.77L398.49 150.77M396.57 155.44L398.49 155.44M396.57 158.43L398.49 158.43M396.57 186.58L398.49 186.58M398.49 143.88L400.41 143.88M398.49 147.62L400.41 147.62M398.49 158.79L400.41 158.79M398.49 161.79L400.41 161.79M398.49 187.25L400.41 187.25M400.41 141.88L402.33 141.88M400.41 143.4L402.33 143.4M400.41 148.6L402.33 148.6M400.41 149.99L402.33 149.99M400.41 187L402.33 187M402.33 145.9L404.25 145.9M402.33 148.11L404.25 148.11M402.33 155.47L404.25 155.47M402.33 158.23L404.25 158.23M402.33 187.39L404.25 187.39M404.25 144.03L406.17 144.03M404.25 146.44L406.17 146.44M404.25 159.43L406.17 159.43M404.25 161.82L406.17 161.82M404.25 188.12L406.17 188.12M406.17 142.55L408.09 142.55M406.17 145.23L408.09 145.23M406.17 150.4L408.09 150.4M406.17 151.9L408.09 151.9M406.17 184.25L408.09 184.25M408.09 142.33L410.01 142.33M408.09 144.12L410.01 144.12M408.09 151.69L410.01 151.69M408.09 152.85L410.01 152.85M408.09 188.94L410.01 188.94M410.01 141.94L411.93 141.94M410.01 144.45L411.93 144.45M410.01 151.25L411.93 151.25M410.01 152.34L411.93 152.34M410.01 185.09L411.93 185.09M411.93 142.69L413.85 142.69M411.93 145.87L413.85 145.87M411.93 152.27L413.85 152.27M411.93 153.57L413.85 153.57M411.93 188.82L413.85 188.82M413.85 144.69L415.78 144.69M413.85 148.82L415.78 148.82M413.85 154.84L415.78 154.84M413.85 156.43L415.78 156.43M413.85 187.95L415.78 187.95M415.78 142.22L417.7 142.22M415.78 145.58L417.7 145.58M415.78 162.16L417.7 162.16M415.78 164.54L417.7 164.54M415.78 189.02L417.7 189.02M417.7 141.84L419.62 141.84M417.7 143.28L419.62 143.28M417.7 152.19L419.62 152.19M417.7 155.28L419.62 155.28M417.7 188.21L419.62 188.21M419.62 147.68L421.54 147.68M419.62 151.83L421.54 151.83M419.62 155.68L421.54 155.68M419.62 157.4L421.54 157.4M419.62 186.55L421.54 186.55M421.54 147.23L423.46 147.23M421.54 148.86L423.46 148.86M421.54 155.61L423.46 155.61M421.54 157.4L423.46 157.4M421.54 186.26L423.46 186.26M423.46 146.47L425.38 146.47M423.46 150.3L425.38 150.3M423.46 158.38L425.38 158.38M423.46 161.52L425.38 161.52M423.46 187.55L425.38 187.55M425.38 144.79L427.3 144.79M425.38 146.89L427.3 146.89M425.38 151.84L427.3 151.84M425.38 154.51L427.3 154.51M425.38 186.56L427.3 186.56M427.3 142.62L429.22 142.62M427.3 146.07L429.22 146.07M427.3 149.83L429.22 149.83M427.3 151.92L429.22 151.92M427.3 185.94L429.22 185.94M429.22 147.19L431.14 147.19M429.22 150.43L431.14 150.43M429.22 161.17L431.14 161.17M429.22 164.19L431.14 164.19M429.22 187.19L431.14 187.19M431.14 144.05L433.06 144.05M431.14 145.55L433.06 145.55M431.14 152.38L433.06 152.38M431.14 155.59L433.06 155.59M431.14 188.6L433.06 188.6M433.06 145.9L434.98 145.9M433.06 147.92L434.98 147.92M433.06 151.88L434.98 151.88M433.06 156.31L434.98 156.31M433.06 186.4L434.98 186.4M434.98 148.01L436.9 148.01M434.98 149.96L436.9 149.96M434.98 158.12L436.9 158.12M434.98 160.1L436.9 160.1M434.98 185.84L436.9 185.84M436.9 142.85L438.83 142.85M436.9 144.67L438.83 144.67M436.9 153.98L438.83 153.98M436.9 156.9L438.83 156.9M436.9 188.57L438.83 188.57M438.83 147.52L440.75 147.52M438.83 149.06L440.75 149.06M438.83 156.43L440.75 156.43M438.83 157.96L440.75 157.96M438.83 185.65L440.75 185.65M440.75 147.38L442.67 147.38M440.75 149.71L442.67 149.71M440.75 158.2L442.67 158.2M440.75 160.25L442.67 160.25M440.75 188.58L442.67 188.58M442.67 142.97L444.59 142.97M442.67 145.89L444.59 145.89M442.67 153.25L444.59 153.25M442.67 155.94L444.59 155.94M442.67 188.71L444.59 188.71M444.59 145.26L446.51 145.26M444.59 148.79L446.51 148.79M444.59 155.81L446.51 155.81M444.59 158.32L446.51 158.32M444.59 186.56L446.51 186.56M446.51 143.82L448.43 143.82M446.51 146.42L448.43 146.42M446.51 150.67L448.43 150.67M446.51 152.19L448.43 152.19M446.51 188.36L448.43 188.36M448.43 148.14L450.35 148.14M448.43 151.29L450.35 151.29M448.43 162.46L450.35 162.46M448.43 164.71L450.35 164.71M448.43 187.32L450.35 187.32M450.35 144.81L452.27 144.81M450.35 148.45L452.27 148.45M450.35 155.34L452.27 155.34M450.35 158.65L452.27 158.65M450.35 185.28L452.27 185.28M452.27 142.24L454.19 142.24M452.27 145.72L454.19 145.72M452.27 156.79L454.19 156.79M452.27 159L454.19 159M452.27 186.42L454.19 186.42M454.19 144.47L456.11 144.47M454.19 146.8L456.11 146.8M454.19 161.52L456.11 161.52M454.19 164.26L456.11 164.26M454.19 187.86L456.11 187.86M456.11 142.11L458.03 142.11M456.11 143.86L458.03 143.86M456.11 153.65L458.03 153.65M456.11 156.28L458.03 156.28M456.11 185.05L458.03 185.05M458.03 142.67L459.95 142.67M458.03 144.9L459.95 144.9M458.03 152.25L459.95 152.25M458.03 154.48L459.95 154.48M458.03 186.82L459.95 186.82M459.95 144.67L461.87 144.67M459.95 148.66L461.87 148.66M459.95 158.82L461.87 158.82M459.95 163.58L461.87 163.58M459.95 188.04L461.87 188.04M461.87 145.12L463.8 145.12M461.87 148.03L463.8 148.03M461.87 152.96L463.8 152.96M461.87 154.09L463.8 154.09M461.87 188.2L463.8 188.2M463.8 146.81L465.72 146.81M463.8 151.08L465.72 151.08M463.8 154.94L465.72 154.94M463.8 156.38L465.72 156.38M463.8 184.9L465.72 184.9M465.72 145.22L467.64 145.22M465.72 146.78L467.64 146.78M465.72 152.89L467.64 152.89M465.72 154.48L467.64 154.48M465.72 181.68L467.64 181.68M467.64 144.45L469.56 144.45M467.64 147.64L469.56 147.64M467.64 156.72L469.56 156.72M467.64 159.84L469.56 159.84M467.64 185.73L469.56 185.73M469.56 146.83L471.48 146.83M469.56 149.67L471.48 149.67M469.56 160.02L471.48 160.02M469.56 165.36L471.48 165.36M469.56 187.89L471.48 187.89M471.48 147.55L473.4 147.55M471.48 151.59L473.4 151.59M471.48 158.98L473.4 158.98M471.48 161.53L473.4 161.53M471.48 185.24L473.4 185.24M473.4 145.04L475.32 145.04M473.4 146.83L475.32 146.83M473.4 151.9L475.32 151.9M473.4 154.49L475.32 154.49M473.4 184.98L475.32 184.98M475.32 144.62L477.24 144.62M475.32 148.35L477.24 148.35M475.32 155.61L477.24 155.61M475.32 158.83L477.24 158.83M475.32 188.4L477.24 188.4M477.24 147.24L479.16 147.24M477.24 151.05L479.16 151.05M477.24 162.22L479.16 162.22M477.24 164.65L479.16 164.65M477.24 188.91L479.16 188.91M479.16 143.46L481.08 143.46M479.16 146.9L481.08 146.9M479.16 157.91L481.08 157.91M479.16 159.17L481.08 159.17M479.16 186.3L481.08 186.3M481.08 147.97L483 147.97M481.08 151.21L483 151.21M481.08 156.37L483 156.37M481.08 159.51L483 159.51M481.08 188.29L483 188.29M483 143.4L484.92 143.4M483 147.58L484.92 147.58M483 158.85L484.92 158.85M483 160.6L484.92 160.6M483 187.43L484.92 187.43M484.92 148.1L486.85 148.1M484.92 149.62L486.85 149.62M484.92 155.06L486.85 155.06M484.92 156.54L486.85 156.54M484.92 188.71L486.85 188.71M486.85 145.78L488.77 145.78M486.85 149.56L488.77 149.56M486.85 158.28L488.77 158.28M486.85 159.94L488.77 159.94M486.85 185.11L488.77 185.11M488.77 143.38L490.69 143.38M488.77 146.32L490.69 146.32M488.77 155.38L490.69 155.38M488.77 156.94L490.69 156.94M488.77 185.12L490.69 185.12M490.69 148.18L492.61 148.18M490.69 151.52L492.61 151.52M490.69 160.37L492.61 160.37M490.69 161.72L492.61 161.72M490.69 188.81L492.61 188.81M492.61 147.05L494.53 147.05M492.61 151.01L494.53 151.01M492.61 154.97L494.53 154.97M492.61 158.2L494.53 158.2M492.61 186.85L494.53 186.85M494.53 148.15L496.45 148.15M494.53 150.28L496.45 150.28M494.53 154.92L496.45 154.92M494.53 156.28L496.45 156.28M494.53 188.51L496.45 188.51M496.45 142.87L498.37 142.87M496.45 147.02L498.37 147.02M496.45 158.73L498.37 158.73M496.45 162L498.37 162M496.45 188.03L498.37 188.03M498.37 146.26L500.29 146.26M498.37 148.5L500.29 148.5M498.37 152.24L500.29 152.24M498.37 154.05L500.29 154.05M498.37 185.98L500.29 185.98M500.29 145.17L502.21 145.17M500.29 147.8L502.21 147.8M500.29 155.73L502.21 155.73M500.29 158.66L502.21 158.66M500.29 188.21L502.21 188.21M502.21 142.79L504.13 142.79M502.21 147.01L504.13 147.01M502.21 157.44L504.13 157.44M502.21 161.9L504.13 161.9M502.21 187.95L504.13 187.95M504.13 144.31L506.05 144.31M504.13 148.26L506.05 148.26M504.13 152.76L506.05 152.76M504.13 153.82L506.05 153.82M504.13 185.48L506.05 185.48M506.05 145.08L507.97 145.08M506.05 148.7L507.97 148.7M506.05 158.13L507.97 158.13M506.05 160.39L507.97 160.39M506.05 187.23L507.97 187.23M507.97 144.96L509.89 144.96M507.97 147.38L509.89 147.38M507.97 153.54L509.89 153.54M507.97 155.38L509.89 155.38M507.97 186.58L509.89 186.58M509.89 147.14L511.82 147.14M509.89 149.29L511.82 149.29M509.89 160.83L511.82 160.83M509.89 162.47L511.82 162.47M509.89 188.53L511.82 188.53M511.82 145.88L513.74 145.88M511.82 148.02L513.74 148.02M511.82 159.48L513.74 159.48M511.82 161.54L513.74 161.54M511.82 187.08L513.74 187.08M513.74 145.1L515.66 145.1M513.74 147.73L515.66 147.73M513.74 156.34L515.66 156.34M513.74 157.52L515.66 157.52M513.74 183.21L515.66 183.21M515.66 147.27L517.58 147.27M515.66 149.72L517.58 149.72M515.66 161.29L517.58 161.29M515.66 163.15L517.58 163.15M515.66 188.15L517.58 188.15M517.58 147.35L519.5 147.35M517.58 150.8L519.5 150.8M517.58 157.32L519.5 157.32M517.58 159.03L519.5 159.03M517.58 186.97L519.5 186.97M519.5 147.4L521.42 147.4M519.5 150.47L521.42 150.47M519.5 155.23L521.42 155.23M519.5 156.75L521.42 156.75M519.5 187.52L521.42 187.52M521.42 143.73L523.34 143.73M521.42 145.87L523.34 145.87M521.42 149.68L523.34 149.68M521.42 151.93L523.34 151.93M521.42 185.27L523.34 185.27M523.34 147.15L525.26 147.15M523.34 151.22L525.26 151.22M523.34 158.39L525.26 158.39M523.34 160.98L525.26 160.98M523.34 188.54L525.26 188.54M525.26 147.5L527.18 147.5M525.26 149.66L527.18 149.66M525.26 159.87L527.18 159.87M525.26 165.84L527.18 165.84M525.26 186.59L527.18 186.59M527.18 145.47L529.1 145.47M527.18 150.54L529.1 150.54M527.18 152.19L529.1 152.19M527.18 187.44L529.1 187.44M529.1 145.97L531.02 145.97M529.1 148.58L531.02 148.58M529.1 158.05L531.02 158.05M529.1 161.31L531.02 161.31M529.1 186.21L531.02 186.21M531.02 148.18L532.94 148.18M531.02 149.65L532.94 149.65M531.02 153.3L532.94 153.3M531.02 155.42L532.94 155.42M531.02 187.31L532.94 187.31M532.94 144.38L534.87 144.38M532.94 147.43L534.87 147.43M532.94 163.32L534.87 163.32M532.94 164.8L534.87 164.8M532.94 183.35L534.87 183.35M534.87 147.8L536.79 147.8M534.87 150.68L536.79 150.68M534.87 158.93L536.79 158.93M534.87 160.15L536.79 160.15M534.87 188.08L536.79 188.08M536.79 143.49L538.71 143.49M536.79 147.77L538.71 147.77M536.79 156.73L538.71 156.73M536.79 158.97L538.71 158.97M536.79 188.2L538.71 188.2M538.71 145.12L540.63 145.12M538.71 148.3L540.63 148.3M538.71 154.76L540.63 154.76M538.71 157.55L540.63 157.55M538.71 185.32L540.63 185.32M540.63 142L542.55 142M540.63 144.6L542.55 144.6M540.63 150.71L542.55 150.71M540.63 152.18L542.55 152.18M540.63 185.47L542.55 185.47M542.55 142.39L544.47 142.39M542.55 146.46L544.47 146.46M542.55 158.38L544.47 158.38M542.55 159.88L544.47 159.88M542.55 188.27L544.47 188.27M544.47 147.25L546.39 147.25M544.47 151.07L546.39 151.07M544.47 155.1L546.39 155.1M544.47 157.05L546.39 157.05M544.47 187.44L546.39 187.44M546.39 146.2L548.31 146.2M546.39 148.52L548.31 148.52M546.39 153L548.31 153M546.39 154.52L548.31 154.52M546.39 187.23L548.31 187.23M548.31 143.03L550.23 143.03M548.31 146.36L550.23 146.36M548.31 154.9L550.23 154.9M548.31 156.32L550.23 156.32M548.31 185.97L550.23 185.97M550.23 145.76L552.15 145.76M550.23 148.39L552.15 148.39M550.23 152.42L552.15 152.42M550.23 155.25L552.15 155.25M550.23 185.52L552.15 185.52M552.15 147.56L554.07 147.56M552.15 150.93L554.07 150.93M552.15 156.31L554.07 156.31M552.15 159.21L554.07 159.21M552.15 185.01L554.07 185.01M554.07 142.78L555.99 142.78M554.07 146.25L555.99 146.25M554.07 157.69L555.99 157.69M554.07 160.39L555.99 160.39M554.07 186.65L555.99 186.65M555.99 144.77L557.91 144.77M555.99 147.69L557.91 147.69M555.99 158.31L557.91 158.31M555.99 160.35L557.91 160.35M555.99 187.02L557.91 187.02M557.91 142.22L559.84 142.22M557.91 145.82L559.84 145.82M557.91 153.9L559.84 153.9M557.91 155.62L559.84 155.62M557.91 185.39L559.84 185.39M559.84 147.14L561.76 147.14M559.84 150.71L561.76 150.71M559.84 156.65L561.76 156.65M559.84 157.7L561.76 157.7M559.84 186.26L561.76 186.26M561.76 145.36L563.68 145.36M561.76 147.4L563.68 147.4M561.76 161.76L563.68 161.76M561.76 164.07L563.68 164.07M561.76 187.46L563.68 187.46M563.68 146.41L565.6 146.41M563.68 148.21L565.6 148.21M563.68 155L565.6 155M563.68 156.47L565.6 156.47M563.68 183.28L565.6 183.28M565.6 144.8L567.52 144.8M565.6 146.69L567.52 146.69M565.6 154.38L567.52 154.38M565.6 155.78L567.52 155.78M565.6 188.62L567.52 188.62M567.52 145.02L569.44 145.02M567.52 147.51L569.44 147.51M567.52 151.62L569.44 151.62M567.52 153.27L569.44 153.27M567.52 187.75L569.44 187.75M569.44 144.76L571.36 144.76M569.44 147.36L571.36 147.36M569.44 153.07L571.36 153.07M569.44 156.3L571.36 156.3M569.44 188.27L571.36 188.27M571.36 143.08L573.28 143.08M571.36 147.37L573.28 147.37M571.36 162.49L573.28 162.49M571.36 165.19L573.28 165.19M571.36 185.35L573.28 185.35M573.28 143.09L575.2 143.09M573.28 145.77L575.2 145.77M573.28 157.29L575.2 157.29M573.28 159.06L575.2 159.06M573.28 185.92L575.2 185.92M575.2 144.97L577.12 144.97M575.2 147.39L577.12 147.39M575.2 158.06L577.12 158.06M575.2 160.79L577.12 160.79M575.2 186.97L577.12 186.97M577.12 143.31L579.04 143.31M577.12 146.25L579.04 146.25M577.12 154.6L579.04 154.6M577.12 156.51L579.04 156.51M577.12 188.84L579.04 188.84M579.04 146.63L580.96 146.63M579.04 149.45L580.96 149.45M579.04 160.79L580.96 160.79M579.04 166.82L580.96 166.82M579.04 186.06L580.96 186.06M580.96 146.54L582.88 146.54M580.96 150.64L582.88 150.64M580.96 155.86L582.88 155.86M580.96 157.24L582.88 157.24M580.96 185.03L582.88 185.03M582.88 142.59L584.81 142.59M582.88 145.53L584.81 145.53M582.88 159.66L584.81 159.66M582.88 162.06L584.81 162.06M582.88 188.37L584.81 188.37M584.81 142.52L586.73 142.52M584.81 143.81L586.73 143.81M584.81 148.06L586.73 148.06M584.81 150.88L586.73 150.88M584.81 187.44L586.73 187.44M586.73 143.35L588.65 143.35M586.73 146.77L588.65 146.77M586.73 150.35L588.65 150.35M586.73 155.08L588.65 155.08M586.73 186.18L588.65 186.18M588.65 143.77L590.57 143.77M588.65 148.02L590.57 148.02M588.65 152.42L590.57 152.42M588.65 155.28L590.57 155.28M588.65 187.45L590.57 187.45M590.57 143.77L592.49 143.77M590.57 145.73L592.49 145.73M590.57 152.99L592.49 152.99M590.57 155.85L592.49 155.85M590.57 187.62L592.49 187.62M592.49 143.69L594.41 143.69M592.49 146.72L594.41 146.72M592.49 159.84L594.41 159.84M592.49 165.29L594.41 165.29M592.49 187.85L594.41 187.85M594.41 142.9L596.33 142.9M594.41 145.92L596.33 145.92M594.41 151.65L596.33 151.65M594.41 154.42L596.33 154.42M594.41 186.58L596.33 186.58M596.33 144.43L598.25 144.43M596.33 146.65L598.25 146.65M596.33 155.83L598.25 155.83M596.33 158.67L598.25 158.67M596.33 186.99L598.25 186.99M598.25 145.73L600.17 145.73M598.25 148.35L600.17 148.35M598.25 152.95L600.17 152.95M598.25 156.26L600.17 156.26M598.25 188.34L600.17 188.34M600.17 144.91L602.09 144.91M600.17 147.65L602.09 147.65M600.17 158.35L602.09 158.35M600.17 161.49L602.09 161.49M600.17 183.26L602.09 183.26M602.09 146.3L604.01 146.3M602.09 150.23L604.01 150.23M602.09 161.19L604.01 161.19M602.09 162.32L604.01 162.32M602.09 186.28L604.01 186.28M604.01 143.62L605.93 143.62M604.01 145.3L605.93 145.3M604.01 159.08L605.93 159.08M604.01 160.3L605.93 160.3M604.01 185.1L605.93 185.1M605.93 142.15L607.86 142.15M605.93 145.71L607.86 145.71M605.93 153.61L607.86 153.61M605.93 156.39L607.86 156.39M605.93 186.96L607.86 186.96M607.86 145L609.78 145M607.86 149.22L609.78 149.22M607.86 152.84L609.78 152.84M607.86 154.01L609.78 154.01M607.86 186.27L609.78 186.27M609.78 145.32L611.7 145.32M609.78 147.79L611.7 147.79M609.78 155.16L611.7 155.16M609.78 157.56L611.7 157.56M609.78 188.91L611.7 188.91M611.7 144.74L613.62 144.74M611.7 146.8L613.62 146.8M611.7 153.29L613.62 153.29M611.7 155.8L613.62 155.8M611.7 186L613.62 186M613.62 143.83L615.54 143.83M613.62 145.29L615.54 145.29M613.62 150.81L615.54 150.81M613.62 153.17L615.54 153.17M613.62 186.54L615.54 186.54M615.54 142.78L617.46 142.78M615.54 145.59L617.46 145.59M615.54 151.25L617.46 151.25M615.54 154.29L617.46 154.29M615.54 182.65L617.46 182.65M617.46 146.46L619.38 146.46M617.46 150.03L619.38 150.03M617.46 156.57L619.38 156.57M617.46 159.25L619.38 159.25M617.46 187.92L619.38 187.92M619.38 145.62L621.3 145.62M619.38 148.86L621.3 148.86M619.38 158.37L621.3 158.37M619.38 159.62L621.3 159.62M619.38 185.9L621.3 185.9M621.3 144.47L623.22 144.47M621.3 146.36L623.22 146.36M621.3 153.15L623.22 153.15M621.3 155.65L623.22 155.65M621.3 186.11L623.22 186.11M623.22 146.91L625.14 146.91M623.22 150.36L625.14 150.36M623.22 161.93L625.14 161.93M623.22 163.26L625.14 163.26M623.22 185.86L625.14 185.86M625.14 147.88L627.06 147.88M625.14 150.05L627.06 150.05M625.14 165.7L627.06 165.7M625.14 168.8L627.06 168.8M625.14 187.25L627.06 187.25M627.06 144.4L628.98 144.4M627.06 146.64L628.98 146.64M627.06 158.92L628.98 158.92M627.06 162.07L628.98 162.07M627.06 187.99L628.98 187.99M628.98 144.16L630.9 144.16M628.98 148.42L630.9 148.42M628.98 154.29L630.9 154.29M628.98 155.5L630.9 155.5M628.98 185.41L630.9 185.41M630.9 143.12L632.83 143.12M630.9 147.15L632.83 147.15M630.9 153.44L632.83 153.44M630.9 155.16L632.83 155.16M630.9 188.15L632.83 188.15M632.83 144.96L634.75 144.96M632.83 147.15L634.75 147.15M632.83 157.56L634.75 157.56M632.83 163.78L634.75 163.78M632.83 185.96L634.75 185.96M634.75 142.95L636.67 142.95M634.75 144.7L636.67 144.7M634.75 156.17L636.67 156.17M634.75 159.27L636.67 159.27M634.75 185.3L636.67 185.3M636.67 141.97L638.59 141.97M636.67 146.02L638.59 146.02M636.67 151.75L638.59 151.75M636.67 153.43L638.59 153.43M636.67 185.17L638.59 185.17M638.59 146.01L640.51 146.01M638.59 147.61L640.51 147.61M638.59 158.51L640.51 158.51M638.59 160.44L640.51 160.44M638.59 187.62L640.51 187.62M640.51 142.42L642.43 142.42M640.51 145.46L642.43 145.46M640.51 149.23L642.43 149.23M640.51 152.25L642.43 152.25M640.51 187.63L642.43 187.63M642.43 143.7L644.35 143.7M642.43 146.64L644.35 146.64M642.43 153.53L644.35 153.53M642.43 155.31L644.35 155.31M642.43 187.84L644.35 187.84M644.35 146.69L646.27 146.69M644.35 149.44L646.27 149.44M644.35 154L646.27 154M644.35 155.41L646.27 155.41M644.35 185.57L646.27 185.57M646.27 147.21L648.19 147.21M646.27 149.63L648.19 149.63M646.27 156.15L648.19 156.15M646.27 158.01L648.19 158.01M646.27 188.99L648.19 188.99M648.19 144.59L650.11 144.59M648.19 147.31L650.11 147.31M648.19 161.82L650.11 161.82M648.19 163.27L650.11 163.27M648.19 185.03L650.11 185.03M650.11 146.87L652.03 146.87M650.11 148.94L652.03 148.94M650.11 153.15L652.03 153.15M650.11 155.41L652.03 155.41M650.11 185.61L652.03 185.61M652.03 141.95L653.95 141.95M652.03 144.39L653.95 144.39M652.03 148.83L653.95 148.83M652.03 151.58L653.95 151.58M652.03 187.19L653.95 187.19M653.95 146.09L655.88 146.09M653.95 150.04L655.88 150.04M653.95 163.19L655.88 163.19M653.95 164.39L655.88 164.39M653.95 185.39L655.88 185.39M655.88 143.46L657.8 143.46M655.88 146.76L657.8 146.76M655.88 155.67L657.8 155.67M655.88 157.17L657.8 157.17M655.88 186.11L657.8 186.11M657.8 143.02L659.72 143.02M657.8 146.45L659.72 146.45M657.8 156.09L659.72 156.09M657.8 161.6L659.72 161.6M657.8 185.9L659.72 185.9M659.72 145.16L661.64 145.16M659.72 149.4L661.64 149.4M659.72 154.74L661.64 154.74M659.72 157.11L661.64 157.11M659.72 188.51L661.64 188.51M661.64 146.04L663.56 146.04M661.64 147.73L663.56 147.73M661.64 157.25L663.56 157.25M661.64 160.1L663.56 160.1M661.64 185.52L663.56 185.52M663.56 147.56L665.48 147.56M663.56 150.18L665.48 150.18M663.56 156.93L665.48 156.93M663.56 159.14L665.48 159.14M663.56 186.18L665.48 186.18M665.48 146.75L667.4 146.75M665.48 148.93L667.4 148.93M665.48 153.1L667.4 153.1M665.48 156.25L667.4 156.25M665.48 186.05L667.4 186.05" fill="none" stroke="#505050" stroke-width="0.4"/>
<path d="M235.22 141.6L235.22 192.6M237.14 141.6L237.14 192.6M239.06 141.6L239.06 192.6M240.98 141.6L240.98 192.6M242.9 141.6L242.9 192.6M244.82 141.6L244.82 192.6M246.75 141.6L246.75 192.6M248.67 141.6L248.67 192.6M250.59 141.6L250.59 192.6M252.51 141.6L252.51 192.6M254.43 141.6L254.43 192.6M256.35 141.6L256.35 192.6M258.27 141.6L258.27 192.6M260.19 141.6L260.19 192.6M262.11 141.6L262.11 192.6M264.03 141.6L264.03 192.6M265.95 141.6L265.95 192.6M267.87 141.6L267.87 192.6M269.8 141.6L269.8 192.6M271.72 141.6L271.72 192.6M273.64 141.6L273.64 192.6M275.56 141.6L275.56 192.6M277.48 141.6L277.48 192.6M279.4 141.6L279.4 192.6M281.32 141.6L281.32 192.6M283.24 141.6L283.24 192.6M285.16 141.6L285.16 192.6M287.08 141.6L287.08 192.6M289 141.6L289 192.6M290.92 141.6L290.92 192.6M292.84 141.6L292.84 192.6M294.77 141.6L294.77 192.6M296.69 141.6L296.69 192.6M298.61 141.6L298.61 192.6M300.53 141.6L300.53 192.6M302.45 141.6L302.45 192.6M304.37 141.6L304.37 192.6M306.29 141.6L306.29 192.6M308.21 141.6L308.21 192.6M310.13 141.6L310.13 192.6M312.05 141.6L312.05 192.6M313.97 141.6L313.97 192.6M315.89 141.6L315.89 192.6M317.82 141.6L317.82 192.6M319.74 141.6L319.74 192.6M321.66 141.6L321.66 192.6M323.58 141.6L323.58 192.6M325.5 141.6L325.5 192.6M327.42 141.6L327.42 192.6M329.34 141.6L329.34 192.6M331.26 141.6L331.26 192.6M333.18 141.6L333.18 192.6M335.1 141.6L335.1 192.6M337.02 141.6L337.02 192.6M338.94 141.6L338.94 192.6M340.86 141.6L340.86 192.6M342.79 141.6L342.79 192.6M344.71 141.6L344.71 192.6M346.63 141.6L346.63 192.6M348.55 141.6L348.55 192.6M350.47 141.6L350.47 192.6M352.39 141.6L352.39 192.6M354.31 141.6L354.31 192.6M356.23 141.6L356.23 192.6M358.15 141.6L358.15 192.6M360.07 141.6L360.07 192.6M361.99 141.6L361.99 192.6M363.91 141.6L363.91 192.6M365.83 141.6L365.83 192.6M367.76 141.6L367.76 192.6M369.68 141.6L369.68 192.6M371.6 141.6L371.6 192.6M373.52 141.6L373.52 192.6M375.44 141.6L375.44 192.6M377.36 141.6L377.36 192.6M379.28 141.6L379.28 192.6M381.2 141.6L381.2 192.6M383.12 141.6L383.12 192.6M385.04 141.6L385.04 192.6M386.96 141.6L386.96 192.6M388.88 141.6L388.88 192.6M390.81 141.6L390.81 192.6M392.73 141.6L392.73 192.6M394.65 141.6L394.65 192.6M396.57 141.6L396.57 192.6M398.49 141.6L398.49 192.6M400.41 141.6L400.41 192.6M402.33 141.6L402.33 192.6M404.25 141.6L404.25 192.6M406.17 141.6L406.17 192.6M408.09 141.6L408.09 192.6M410.01 141.6L410.01 192.6M411.93 141.6L411.93 192.6M413.85 141.6L413.85 192.6M415.78 141.6L415.78 192.6M417.7 141.6L417.7 192.6M419.62 141.6L419.62 192.6M421.54 141.6L421.54 192.6M423.46 141.6L423.46 192.6M425.38 141.6L425.38 192.6M427.3 141.6L427.3 192.6M429.22 141.6L429.22 192.6M431.14 141.6L431.14 192.6M433.06 141.6L433.06 192.6M434.98 141.6L434.98 192.6M436.9 141.6L436.9 192.6M438.83 141.6L438.83 192.6M440.75 141.6L440.75 192.6M442.67 141.6L442.67 192.6M444.59 141.6L444.59 192.6M446.51 141.6L446.51 192.6M448.43 141.6L448.43 192.6M450.35 141.6L450.35 192.6M452.27 141.6L452.27 192.6M454.19 141.6L454.19 192.6M456.11 141.6L456.11 192.6M458.03 141.6L458.03 192.6M459.95 141.6L459.95 192.6M461.87 141.6L461.87 192.6M463.8 141.6L463.8 192.6M465.72 141.6L465.72 192.6M467.64 141.6L467.64 192.6M469.56 141.6L469.56 192.6M471.48 141.6L471.48 192.6M473.4 141.6L473.4 192.6M475.32 141.6L475.32 192.6M477.24 141.6L477.24 192.6M479.16 141.6L479.16 192.6M481.08 141.6L481.08 192.6M483 141.6L483 192.6M484.92 141.6L484.92 192.6M486.85 141.6L486.85 192.6M488.77 141.6L488.77 192.6M490.69 141.6L490.69 192.6M492.61 141.6L492.61 192.6M494.53 141.6L494.53 192.6M496.45 141.6L496.45 192.6M498.37 141.6L498.37 192.6M500.29 141.6L500.29 192.6M502.21 141.6L502.21 192.6M504.13 141.6L504.13 192.6M506.05 141.6L506.05 192.6M507.97 141.6L507.97 192.6M509.89 141.6L509.89 192.6M511.82 141.6L511.82 192.6M513.74 141.6L513.74 192.6M515.66 141.6L515.66 192.6M517.58 141.6L517.58 192.6M519.5 141.6L519.5 192.6M521.42 141.6L521.42 192.6M523.34 141.6L523.34 192.6M525.26 141.6L525.26 192.6M527.18 141.6L527.18 192.6M529.1 141.6L529.1 192.6M531.02 141.6L531.02 192.6M532.94 141.6L532.94 192.6M534.87 141.6L534.87 192.6M536.79 141.6L536.79 192.6M538.71 141.6L538.71 192.6M540.63 141.6L540.63 192.6M542.55 141.6L542.55 192.6M544.47 141.6L544.47 192.6M546.39 141.6L546.39 192.6M548.31 141.6L548.31 192.6M550.23 141.6L550.23 192.6M552.15 141.6L552.15 192.6M554.07 141.6L554.07 192.6M555.99 141.6L555.99 192.6M557.91 141.6L557.91 192.6M559.84 141.6L559.84 192.6M561.76 141.6L561.76 192.6M563.68 141.6L563.68 192.6M565.6 141.6L565.6 192.6M567.52 141.6L567.52 192.6M569.44 141.6L569.44 192.6M571.36 141.6L571.36 192.6M573.28 141.6L573.28 192.6M575.2 141.6L575.2 192.6M577.12 141.6L577.12 192.6M579.04 141.6L579.04 192.6M580.96 141.6L580.96 192.6M582.88 141.6L582.88 192.6M584.81 141.6L584.81 192.6M586.73 141.6L586.73 192.6M588.65 141.6L588.65 192.6M590.57 141.6L590.57 192.6M592.49 141.6L592.49 192.6M594.41 141.6L594.41 192.6M596.33 141.6L596.33 192.6M598.25 141.6L598.25 192.6M600.17 141.6L600.17 192.6M602.09 141.6L602.09 192.6M604.01 141.6L604.01 192.6M605.93 141.6L605.93 192.6M607.86 141.6L607.86 192.6M609.78 141.6L609.78 192.6M611.7 141.6L611.7 192.6M613.62 141.6L613.62 192.6M615.54 141.6L615.54 192.6M617.46 141.6L617.46 192.6M619.38 141.6L619.38 192.6M621.3 141.6L621.3 192.6M623.22 141.6L623.22 192.6M625.14 141.6L625.14 192.6M627.06 141.6L627.06 192.6M628.98 141.6L628.98 192.6M630.9 141.6L630.9 192.6M632.83 141.6L632.83 192.6M634.75 141.6L634.75 192.6M636.67 141.6L636.67 192.6M638.59 141.6L638.59 192.6M640.51 141.6L640.51 192.6M642.43 141.6L642.43 192.6M644.35 141.6L644.35 192.6M646.27 141.6L646.27 192.6M648.19 141.6L648.19 192.6M650.11 141.6L650.11 192.6M652.03 141.6L652.03 192.6M653.95 141.6L653.95 192.6M655.88 141.6L655.88 192.6M657.8 141.6L657.8 192.6M659.72 141.6L659.72 192.6M661.64 141.6L661.64 192.6M663.56 141.6L663.56 192.6M665.48 141.6L665.48 192.6M667.4 141.6L667.4 192.6" fill="none" stroke="#333" stroke-width="0.75"/>
<path d="M233.3 141.6h434.1v51h-434.1z" fill="none" stroke="#888" stroke-width="0.6"/>
<path d="M226.3 141.9L226.3 192.4M224.3 192.4L226.3 192.4" fill="none" stroke="#8a8a8a" stroke-width="0.8"/>
<text x="223.5" y="194.87" font-size="6.5" text-anchor="end" fill="#222">0</text>
<path d="M224.3 182.3L226.3 182.3" fill="none" stroke="#8a8a8a" stroke-width="0.8"/>
<text x="223.5" y="184.77" font-size="6.5" text-anchor="end" fill="#222">20</text>
<path d="M224.3 172.2L226.3 172.2" fill="none" stroke="#8a8a8a" stroke-width="0.8"/>
<text x="223.5" y="174.67" font-size="6.5" text-anchor="end" fill="#222">40</text>
<path d="M224.3 162.1L226.3 162.1" fill="none" stroke="#8a8a8a" stroke-width="0.8"/>
<text x="223.5" y="164.57" font-size="6.5" text-anchor="end" fill="#222">60</text>
<path d="M224.3 152L226.3 152" fill="none" stroke="#8a8a8a" stroke-width="0.8"/>
<text x="223.5" y="154.47" font-size="6.5" text-anchor="end" fill="#222">80</text>
<path d="M224.3 141.9L226.3 141.9" fill="none" stroke="#8a8a8a" stroke-width="0.8"/>
<text x="223.5" y="144.37" font-size="6.5" text-anchor="end" fill="#222">100</text>
<path d="M233.3 195.4h1.92v5.2h-1.92zM235.22 195.4h1.92v5.2h-1.92zM237.14 195.4h1.92v5.2h-1.92zM239.06 195.4h1.92v5.2h-1.92zM240.98 195.4h1.92v5.2h-1.92zM244.82 195.4h1.92v5.2h-1.92zM271.72 195.4h1.92v5.2h-1.92z" fill="#4a4010"/>
<path d="M233.75 195.4h1.02v5.2h-1.02zM235.67 195.4h1.02v5.2h-1.02zM237.59 195.4h1.02v5.2h-1.02zM239.51 195.4h1.02v5.2h-1.02zM241.43 195.4h1.02v5.2h-1.02zM245.27 195.4h1.02v5.2h-1.02zM272.17 195.4h1.02v5.2h-1.02z" fill="#e8ae12"/>
<path d="M242.9 195.4h1.92v5.2h-1.92zM246.75 195.4h1.92v5.2h-1.92zM248.67 195.4h1.92v5.2h-1.92zM250.59 195.4h1.92v5.2h-1.92zM252.51 195.4h1.92v5.2h-1.92zM254.43 195.4h1.92v5.2h-1.92zM256.35 195.4h1.92v5.2h-1.92zM258.27 195.4h1.92v5.2h-1.92zM260.19 195.4h1.92v5.2h-1.92zM262.11 195.4h1.92v5.2h-1.92zM264.03 195.4h1.92v5.2h-1.92zM265.95 195.4h1.92v5.2h-1.92zM267.87 195.4h1.92v5.2h-1.92zM269.8 195.4h1.92v5.2h-1.92zM273.64 195.4h1.92v5.2h-1.92zM275.56 195.4h1.92v5.2h-1.92zM277.48 195.4h1.92v5.2h-1.92zM279.4 195.4h1.92v5.2h-1.92zM281.32 195.4h1.92v5.2h-1.92zM283.24 195.4h1.92v5.2h-1.92zM285.16 195.4h1.92v5.2h-1.92zM287.08 195.4h1.92v5.2h-1.92zM289 195.4h1.92v5.2h-1.92zM290.92 195.4h1.92v5.2h-1.92zM292.84 195.4h1.92v5.2h-1.92zM294.77 195.4h1.92v5.2h-1.92zM296.69 195.4h1.92v5.2h-1.92zM298.61 195.4h1.92v5.2h-1.92z" fill="#a00000"/>
<path d="M243.35 195.4h1.02v5.2h-1.02zM247.2 195.4h1.02v5.2h-1.02zM249.12 195.4h1.02v5.2h-1.02zM251.04 195.4h1.02v5.2h-1.02zM252.96 195.4h1.02v5.2h-1.02zM254.88 195.4h1.02v5.2h-1.02zM256.8 195.4h1.02v5.2h-1.02zM258.72 195.4h1.02v5.2h-1.02zM260.64 195.4h1.02v5.2h-1.02zM262.56 195.4h1.02v5.2h-1.02zM264.48 195.4h1.02v5.2h-1.02zM266.4 195.4h1.02v5.2h-1.02zM268.32 195.4h1.02v5.2h-1.02zM270.25 195.4h1.02v5.2h-1.02zM274.09 195.4h1.02v5.2h-1.02zM276.01 195.4h1.02v5.2h-1.02zM277.93 195.4h1.02v5.2h-1.02zM279.85 195.4h1.02v5.2h-1.02zM281.77 195.4h1.02v5.2h-1.02zM283.69 195.4h1.02v5.2h-1.02zM285.61 195.4h1.02v5.2h-1.02zM287.53 195.4h1.02v5.2h-1.02zM289.45 195.4h1.02v5.2h-1.02zM291.37 195.4h1.02v5.2h-1.02zM293.29 195.4h1.02v5.2h-1.02zM295.22 195.4h1.02v5.2h-1.02zM297.14 195.4h1.02v5.2h-1.02zM299.06 195.4h1.02v5.2h-1.02zM586.2 203.8h3.9v3.9h-3.9z" fill="#ff0000"/>
<path d="M233.3 195.4h67.23v5.2h-67.23z" fill="none" stroke="#777" stroke-width="0.6"/>
<text x="597.3" y="209.1" font-size="9.2" stroke="#000" stroke-width="0.05">MSI-H</text>
<path d="M631.3 203.8h3.9v3.9h-3.9z" fill="#e8ae12"/>
<text x="640.8" y="209.1" font-size="9.2" stroke="#000" stroke-width="0.05">POLE</text>
<text transform="translate(-0.3 223.6) scale(0.92 1)" font-size="15.2" font-weight="bold">b</text>
<text x="69.3" y="224" font-size="9.6" text-anchor="middle" stroke="#000" stroke-width="0.05">Tumoroids</text>
<text x="175.9" y="224" font-size="9.6" text-anchor="middle" stroke="#000" stroke-width="0.05">TCGA</text>
<path d="M47.6 237.4h42.2v9.8h-42.2zM153.9 237.4h42.6v9.8h-42.6z" fill="#5aa8ea" stroke="#4a5560" stroke-width="0.9"/>
<text x="42.7" y="245.7" font-size="7.9" text-anchor="end" font-style="italic" stroke="#000" stroke-width="0.05">APC</text>
<text x="148.3" y="245.7" font-size="7.9" text-anchor="end" font-style="italic" stroke="#000" stroke-width="0.05">APC</text>
<path d="M47.6 249.18h30.8v9.8h-30.8zM153.9 249.18h30.6v9.8h-30.6z" fill="#5aa8ea" stroke="#4a5560" stroke-width="0.9"/>
<text x="42.7" y="257.48" font-size="7.9" text-anchor="end" font-style="italic" stroke="#000" stroke-width="0.05">TP53</text>
<text x="148.3" y="257.48" font-size="7.9" text-anchor="end" font-style="italic" stroke="#000" stroke-width="0.05">TP53</text>
<path d="M47.6 260.96h19v9.8h-19zM153.9 260.96h23.6v9.8h-23.6z" fill="#5aa8ea" stroke="#4a5560" stroke-width="0.9"/>
<text x="42.7" y="269.26" font-size="7.9" text-anchor="end" font-style="italic" stroke="#000" stroke-width="0.05">KRAS</text>
<text x="148.3" y="269.26" font-size="7.9" text-anchor="end" font-style="italic" stroke="#000" stroke-width="0.05">KRAS</text>
<path d="M47.6 272.74h5.3v9.8h-5.3zM153.9 272.74h11.3v9.8h-11.3z" fill="#5aa8ea" stroke="#4a5560" stroke-width="0.9"/>
<text x="42.7" y="281.04" font-size="7.9" text-anchor="end" font-style="italic" stroke="#000" stroke-width="0.05">PIK3CA</text>
<text x="148.3" y="281.04" font-size="7.9" text-anchor="end" font-style="italic" stroke="#000" stroke-width="0.05">PIK3CA</text>
<path d="M47.6 284.52h7.2v9.8h-7.2zM153.9 284.52h9.3v9.8h-9.3z" fill="#5aa8ea" stroke="#4a5560" stroke-width="0.9"/>
<text x="42.7" y="292.82" font-size="7.9" text-anchor="end" font-style="italic" stroke="#000" stroke-width="0.05">FBXW7</text>
<text x="148.3" y="292.82" font-size="7.9" text-anchor="end" font-style="italic" stroke="#000" stroke-width="0.05">FBXW7</text>
<path d="M47.6 296.3h5.3v9.8h-5.3zM153.9 296.3h6.3v9.8h-6.3z" fill="#5aa8ea" stroke="#4a5560" stroke-width="0.9"/>
<text x="42.7" y="304.6" font-size="7.9" text-anchor="end" font-style="italic" stroke="#000" stroke-width="0.05">SMAD4</text>
<text x="148.3" y="304.6" font-size="7.9" text-anchor="end" font-style="italic" stroke="#000" stroke-width="0.05">SMAD4</text>
<path d="M47.6 308.08h5.5v9.8h-5.5zM153.9 308.08h5.4v9.8h-5.4z" fill="#5aa8ea" stroke="#4a5560" stroke-width="0.9"/>
<text x="42.7" y="316.38" font-size="7.9" text-anchor="end" font-style="italic" stroke="#000" stroke-width="0.05">BRAF</text>
<text x="148.3" y="316.38" font-size="7.9" text-anchor="end" font-style="italic" stroke="#000" stroke-width="0.05">BRAF</text>
<path d="M47.6 319.86h1.5v9.8h-1.5zM153.9 319.86h4.6v9.8h-4.6z" fill="#5aa8ea" stroke="#4a5560" stroke-width="0.9"/>
<text x="42.7" y="328.16" font-size="7.9" text-anchor="end" font-style="italic" stroke="#000" stroke-width="0.05">NRAS</text>
<text x="148.3" y="328.16" font-size="7.9" text-anchor="end" font-style="italic" stroke="#000" stroke-width="0.05">NRAS</text>
<path d="M47.6 331.64h3.4v9.8h-3.4zM153.9 331.64h2.2v9.8h-2.2z" fill="#5aa8ea" stroke="#4a5560" stroke-width="0.9"/>
<text x="42.7" y="339.94" font-size="7.9" text-anchor="end" font-style="italic" stroke="#000" stroke-width="0.05">CTNNB1</text>
<text x="148.3" y="339.94" font-size="7.9" text-anchor="end" font-style="italic" stroke="#000" stroke-width="0.05">CTNNB1</text>
<path d="M47.6 343.42h3.4v9.8h-3.4zM153.9 343.42h2.5v9.8h-2.5z" fill="#5aa8ea" stroke="#4a5560" stroke-width="0.9"/>
<text x="42.7" y="351.72" font-size="7.9" text-anchor="end" font-style="italic" stroke="#000" stroke-width="0.05">RNF43</text>
<text x="148.3" y="351.72" font-size="7.9" text-anchor="end" font-style="italic" stroke="#000" stroke-width="0.05">RNF43</text>
<path d="M47.6 355.2h7.6v9.8h-7.6zM153.9 355.2h2.5v9.8h-2.5z" fill="#5aa8ea" stroke="#4a5560" stroke-width="0.9"/>
<text x="42.7" y="363.5" font-size="7.9" text-anchor="end" font-style="italic" stroke="#000" stroke-width="0.05">ACVR2A</text>
<text x="148.3" y="363.5" font-size="7.9" text-anchor="end" font-style="italic" stroke="#000" stroke-width="0.05">ACVR2A</text>
<path d="M47.6 366.98h3.4v9.8h-3.4zM153.9 366.98h1.7v9.8h-1.7z" fill="#5aa8ea" stroke="#4a5560" stroke-width="0.9"/>
<text x="42.7" y="375.28" font-size="7.9" text-anchor="end" font-style="italic" stroke="#000" stroke-width="0.05">TGFBR2</text>
<text x="148.3" y="375.28" font-size="7.9" text-anchor="end" font-style="italic" stroke="#000" stroke-width="0.05">TGFBR2</text>
<path d="M47.4 382.5L87.6 382.5M47.4 382.5L47.4 385.3" fill="none" stroke="#8a8a8a" stroke-width="0.8"/>
<text x="50.1" y="388.8" font-size="7.8" text-anchor="end" fill="#222" stroke="#222" stroke-width="0.05" transform="rotate(-90 50.1 388.8)">0</text>
<path d="M57.45 382.5L57.45 385.3" fill="none" stroke="#8a8a8a" stroke-width="0.8"/>
<text x="60.15" y="388.8" font-size="7.8" text-anchor="end" fill="#222" stroke="#222" stroke-width="0.05" transform="rotate(-90 60.15 388.8)">20</text>
<path d="M67.5 382.5L67.5 385.3" fill="none" stroke="#8a8a8a" stroke-width="0.8"/>
<text x="70.2" y="388.8" font-size="7.8" text-anchor="end" fill="#222" stroke="#222" stroke-width="0.05" transform="rotate(-90 70.2 388.8)">40</text>
<path d="M77.55 382.5L77.55 385.3" fill="none" stroke="#8a8a8a" stroke-width="0.8"/>
<text x="80.25" y="388.8" font-size="7.8" text-anchor="end" fill="#222" stroke="#222" stroke-width="0.05" transform="rotate(-90 80.25 388.8)">60</text>
<path d="M87.6 382.5L87.6 385.3" fill="none" stroke="#8a8a8a" stroke-width="0.8"/>
<text x="90.3" y="388.8" font-size="7.8" text-anchor="end" fill="#222" stroke="#222" stroke-width="0.05" transform="rotate(-90 90.3 388.8)">80</text>
<path d="M87.6 382.5L87.6 385.3M153.6 382.5L194.2 382.5M153.6 382.5L153.6 385.3" fill="none" stroke="#8a8a8a" stroke-width="0.8"/>
<text x="156.3" y="388.8" font-size="7.8" text-anchor="end" fill="#222" stroke="#222" stroke-width="0.05" transform="rotate(-90 156.3 388.8)">0</text>
<path d="M165.2 382.5L165.2 385.3" fill="none" stroke="#8a8a8a" stroke-width="0.8"/>
<text x="167.9" y="388.8" font-size="7.8" text-anchor="end" fill="#222" stroke="#222" stroke-width="0.05" transform="rotate(-90 167.9 388.8)">20</text>
<path d="M176.8 382.5L176.8 385.3" fill="none" stroke="#8a8a8a" stroke-width="0.8"/>
<text x="179.5" y="388.8" font-size="7.8" text-anchor="end" fill="#222" stroke="#222" stroke-width="0.05" transform="rotate(-90 179.5 388.8)">40</text>
<path d="M188.4 382.5L188.4 385.3" fill="none" stroke="#8a8a8a" stroke-width="0.8"/>
<text x="191.1" y="388.8" font-size="7.8" text-anchor="end" fill="#222" stroke="#222" stroke-width="0.05" transform="rotate(-90 191.1 388.8)">60</text>
<path d="M194.2 382.5L194.2 385.3" fill="none" stroke="#8a8a8a" stroke-width="0.8"/>
<text x="66.9" y="408.5" font-size="9.3" text-anchor="middle" stroke="#000" stroke-width="0.05">% Mutated</text>
<text x="66.7" y="419.3" font-size="9.3" text-anchor="middle" stroke="#000" stroke-width="0.05">samples</text>
<text x="174.2" y="408.5" font-size="9.3" text-anchor="middle" stroke="#000" stroke-width="0.05">% Mutated</text>
<text x="173.7" y="419.3" font-size="9.3" text-anchor="middle" stroke="#000" stroke-width="0.05">samples</text>
<text transform="translate(204.9 224.6) scale(0.92 1)" font-size="15.2" font-weight="bold">c</text>
<text x="261.7" y="223.7" font-size="9.6" text-anchor="middle" stroke="#000" stroke-width="0.05">Tumoroids</text>
<text x="332.9" y="223.7" font-size="9.6" text-anchor="middle" stroke="#000" stroke-width="0.05">TCGA</text>
<path d="M249.82 246.4h11.78v0.53h-11.78zM248.39 246.91h13.21v0.53h-13.21zM251.39 247.92h10.21v0.53h-10.21zM250.98 248.43h10.62v0.53h-10.62zM253.31 249.44h8.29v0.53h-8.29zM251.87 249.95h9.73v0.53h-9.73zM254.58 250.97h7.02v0.53h-7.02zM255.47 251.98h6.13v0.53h-6.13zM259.7 252.49h1.9v0.53h-1.9zM259.37 254.01h2.23v0.53h-2.23zM255.81 254.52h5.79v0.53h-5.79zM255.39 255.02h6.21v0.53h-6.21zM254.99 255.53h6.61v0.53h-6.61zM254.58 256.55h7.02v0.53h-7.02zM255.54 257.05h6.06v0.53h-6.06zM255.53 258.07h6.07v0.53h-6.07zM255.02 258.57h6.58v0.53h-6.58zM256.39 259.08h5.21v0.53h-5.21zM250.2 246.82h11.4v0.8h-11.4zM260.19 261.09h1.41v0.51h-1.41zM259.56 261.58h2.04v0.51h-2.04zM260.83 262.08h0.77v0.51h-0.77zM260.06 262.57h1.54v0.51h-1.54zM259.96 263.07h1.64v0.51h-1.64zM260.28 263.56h1.32v0.51h-1.32zM260.23 264.06h1.37v0.51h-1.37zM259.71 264.55h1.89v0.51h-1.89zM255.26 265.54h6.34v0.51h-6.34zM255.17 267.03h6.43v0.51h-6.43zM257.95 268.02h3.65v0.51h-3.65zM256.89 268.51h4.71v0.51h-4.71zM258.4 269.5h3.2v0.51h-3.2zM258.62 270h2.98v0.51h-2.98zM258.53 270.49h3.07v0.51h-3.07zM258.82 270.98h2.78v0.51h-2.78zM258.24 271.48h3.36v0.51h-3.36zM257.76 272.96h3.84v0.51h-3.84zM257.33 271.06h4.27v0.8h-4.27zM255.51 274.45h6.09v0.51h-6.09zM256.78 274.94h4.82v0.51h-4.82zM255.08 275.44h6.52v0.51h-6.52zM253.89 276.43h7.71v0.51h-7.71zM251.36 277.42h10.24v0.51h-10.24zM253.81 278.41h7.79v0.51h-7.79zM253.63 278.9h7.97v0.51h-7.97zM255.57 279.89h6.03v0.51h-6.03zM253.93 280.88h7.67v0.51h-7.67zM249.2 281.37h12.4v0.51h-12.4zM255.09 282.36h6.51v0.51h-6.51zM256.34 282.86h5.26v0.51h-5.26zM256.86 283.35h4.74v0.51h-4.74zM247.64 281.55h13.96v0.8h-13.96zM253.62 274.69h7.98v0.8h-7.98zM249.76 284.34h11.84v0.52h-11.84zM249.78 284.84h11.82v0.52h-11.82zM249.3 285.34h12.3v0.52h-12.3zM250.16 286.34h11.44v0.52h-11.44zM249.93 286.84h11.67v0.52h-11.67zM250.12 287.34h11.48v0.52h-11.48zM249.34 287.84h12.26v0.52h-12.26zM250.08 288.34h11.52v0.52h-11.52zM250.21 288.84h11.39v0.52h-11.39zM249.82 289.34h11.78v0.52h-11.78zM249.61 289.84h11.99v0.52h-11.99zM249.97 290.84h11.63v0.52h-11.63zM249.26 291.84h12.34v0.52h-12.34zM250.29 292.84h11.31v0.52h-11.31zM248.78 289.19h12.82v0.8h-12.82zM259.05 294.84h2.55v0.52h-2.55zM259.39 295.34h2.21v0.52h-2.21zM257.25 296.83h4.35v0.52h-4.35zM256.39 297.83h5.21v0.52h-5.21zM256.99 298.32h4.61v0.52h-4.61zM256.26 298.82h5.34v0.52h-5.34zM255 299.32h6.6v0.52h-6.6zM254.81 299.81h6.79v0.52h-6.79zM256.5 302.3h5.1v0.52h-5.1zM257.2 302.8h4.4v0.52h-4.4zM259.08 303.79h2.52v0.52h-2.52zM235.67 298.22h25.93v0.8h-25.93zM256.51 304.78h5.09v0.51h-5.09zM256.7 305.28h4.9v0.51h-4.9zM257.21 307.26h4.39v0.51h-4.39zM253.61 308.25h7.99v0.51h-7.99zM256.69 309.24h4.91v0.51h-4.91zM255.92 309.73h5.68v0.51h-5.68zM254.89 310.23h6.71v0.51h-6.71zM253.14 310.72h8.46v0.51h-8.46zM255.34 312.21h6.26v0.51h-6.26zM256.01 312.7h5.59v0.51h-5.59zM253.62 313.2h7.98v0.51h-7.98zM248.78 307.67h12.82v0.8h-12.82zM260.8 314.19h0.8v0.53h-0.8zM259.85 314.7h1.75v0.53h-1.75zM259.63 315.73h1.97v0.53h-1.97zM259.09 316.76h2.51v0.53h-2.51zM260.29 317.78h1.31v0.53h-1.31zM259.79 318.81h1.81v0.53h-1.81zM260.18 320.36h1.42v0.53h-1.42zM259.74 321.9h1.86v0.53h-1.86zM258.75 316.84h2.85v0.8h-2.85zM240.39 322.93h21.21v0.52h-21.21zM250.09 323.93h11.51v0.52h-11.51zM251.46 324.44h10.14v0.52h-10.14zM251.88 324.94h9.72v0.52h-9.72zM258.23 325.94h3.37v0.52h-3.37zM257.74 326.45h3.86v0.52h-3.86zM259.19 326.95h2.41v0.52h-2.41zM258.95 327.45h2.65v0.52h-2.65zM259.2 327.96h2.4v0.52h-2.4zM259.11 328.46h2.49v0.52h-2.49zM258.66 328.96h2.94v0.52h-2.94zM258.51 329.97h3.09v0.52h-3.09zM257.92 330.47h3.68v0.52h-3.68zM239.94 323.01h21.66v0.8h-21.66zM255.63 330.97h5.97v0.5h-5.97zM257.15 331.46h4.45v0.5h-4.45zM257.91 332.43h3.69v0.5h-3.69zM255.48 332.91h6.12v0.5h-6.12zM259.65 333.88h1.95v0.5h-1.95zM254.53 334.37h7.07v0.5h-7.07zM254.83 335.34h6.77v0.5h-6.77zM253.85 335.82h7.75v0.5h-7.75zM253.4 336.31h8.2v0.5h-8.2zM255.39 337.28h6.21v0.5h-6.21zM259.27 337.76h2.33v0.5h-2.33zM248.78 335.23h12.82v0.8h-12.82zM253.05 332.12h8.55v0.8h-8.55zM260.38 338.73h1.22v0.52h-1.22zM260.1 339.23h1.5v0.52h-1.5zM259.83 339.72h1.77v0.52h-1.77zM259.59 340.72h2.01v0.52h-2.01zM259.57 341.21h2.03v0.52h-2.03zM260.48 341.71h1.12v0.52h-1.12zM257.38 342.21h4.22v0.52h-4.22zM257.94 343.2h3.66v0.52h-3.66zM257.38 343.69h4.22v0.52h-4.22zM256.83 344.69h4.77v0.52h-4.77zM259.68 345.18h1.92v0.52h-1.92zM258.77 345.68h2.83v0.52h-2.83zM259.99 346.18h1.61v0.51h-1.61zM260.42 346.67h1.18v0.51h-1.18zM260.33 347.66h1.27v0.51h-1.27zM259 349.64h2.6v0.51h-2.6zM259.15 350.13h2.45v0.51h-2.45zM258.52 350.63h3.08v0.51h-3.08zM258.49 351.62h3.11v0.51h-3.11zM259.26 352.11h2.34v0.51h-2.34zM251.34 347.26h10.26v0.8h-10.26zM258.29 354.58h3.31v0.51h-3.31zM258.72 355.07h2.88v0.51h-2.88zM258.48 356.05h3.12v0.51h-3.12zM259.04 356.54h2.56v0.51h-2.56zM259.98 357.03h1.62v0.51h-1.62zM258.24 357.52h3.36v0.51h-3.36zM258.02 358.01h3.58v0.51h-3.58zM257.33 358.5h4.27v0.51h-4.27zM258.06 358.99h3.54v0.51h-3.54zM259.09 359.97h2.51v0.51h-2.51zM260.1 360.46h1.5v0.51h-1.5zM245.93 355.03h15.67v0.8h-15.67zM260.44 360.95h1.16v0.51h-1.16zM259.85 361.44h1.75v0.51h-1.75zM260.18 361.93h1.42v0.51h-1.42zM259.82 362.41h1.78v0.51h-1.78zM259.66 363.39h1.94v0.51h-1.94zM260.73 363.87h0.87v0.51h-0.87zM260.84 364.36h0.76v0.51h-0.76zM253.62 364.03h7.98v0.8h-7.98zM252.99 370.23h8.61v0.51h-8.61zM253.46 371.7h8.14v0.51h-8.14zM252.59 372.2h9.01v0.51h-9.01zM252.01 372.69h9.59v0.51h-9.59zM250.95 373.18h10.65v0.53h-10.65zM250.71 373.69h10.89v0.53h-10.89zM250.73 375.23h10.87v0.53h-10.87zM252.54 375.74h9.06v0.53h-9.06zM253.36 376.76h8.24v0.53h-8.24zM254.53 377.27h7.07v0.53h-7.07zM252.86 377.79h8.74v0.53h-8.74zM250.77 374.47h10.83v0.8h-10.83zM259.63 378.81h1.97v0.52h-1.97zM260.2 379.8h1.4v0.52h-1.4zM255.86 381.29h5.74v0.52h-5.74zM257.57 382.29h4.03v0.52h-4.03zM255.64 382.78h5.96v0.52h-5.96zM256.94 383.28h4.66v0.52h-4.66zM254.48 381.39h7.12v0.8h-7.12zM259.89 383.78h1.71v0.52h-1.71zM241.81 384.27h19.79v0.52h-19.79zM253.73 385.76h7.87v0.52h-7.87zM253.63 386.75h7.97v0.52h-7.97zM243.23 390.62h18.37v0.5h-18.37zM237.34 391.1h24.26v0.5h-24.26zM242.77 391.58h18.83v0.5h-18.83zM237.9 392.05h23.7v0.5h-23.7zM259.64 392.53h1.96v0.56h-1.96zM259.56 393.07h2.04v0.56h-2.04zM256.83 393.61h4.77v0.56h-4.77zM257.06 395.24h4.54v0.56h-4.54zM251.34 394.08h10.26v0.8h-10.26zM260.97 396.77h0.63v0.51h-0.63zM260.11 397.26h1.49v0.51h-1.49zM260.23 397.75h1.37v0.51h-1.37zM259.92 398.74h1.68v0.51h-1.68zM252.77 399.24h8.83v0.55h-8.83zM251.36 399.77h10.24v0.55h-10.24zM252.52 401.35h9.08v0.55h-9.08zM253.68 403.29h7.92v0.49h-7.92z" fill="#cfe6f6"/>
<path d="M261.6 246.91h0.96v0.53h-0.96zM261.6 247.41h0.98v0.53h-0.98zM261.6 247.92h2.03v0.53h-2.03zM261.6 248.43h2.12v0.53h-2.12zM261.6 249.44h2.28v0.53h-2.28zM261.6 250.46h2.91v0.53h-2.91zM261.6 251.47h3.38v0.53h-3.38zM261.6 251.98h2.56v0.53h-2.56zM261.6 252.99h2.79v0.53h-2.79zM261.6 253.5h2.04v0.53h-2.04zM261.6 254.52h6.29v0.53h-6.29zM261.6 256.55h6.98v0.53h-6.98zM261.6 258.57h5.61v0.53h-5.61zM261.6 259.59h8.66v0.53h-8.66zM261.6 259.29h9.97v0.8h-9.97zM261.6 261.09h4.55v0.51h-4.55zM261.6 262.08h3.4v0.51h-3.4zM261.6 262.57h2.94v0.51h-2.94zM261.6 263.07h4.92v0.51h-4.92zM261.6 264.06h4.47v0.51h-4.47zM261.6 264.55h3.88v0.51h-3.88zM261.6 265.05h5.44v0.51h-5.44zM261.6 266.04h10.87v0.51h-10.87zM261.6 266.53h6.53v0.51h-6.53zM261.6 268.02h3.62v0.51h-3.62zM261.6 268.51h5.55v0.51h-5.55zM261.6 269.01h5.01v0.51h-5.01zM261.6 270.98h6.31v0.51h-6.31zM261.6 271.48h3.97v0.51h-3.97zM261.6 271.97h4.02v0.51h-4.02zM261.6 272.96h6.71v0.51h-6.71zM261.6 264.91h21.09v0.8h-21.09zM261.6 269.72h6.84v0.8h-6.84zM261.6 273.46h6.84v0.51h-6.84zM261.6 274.45h8.62v0.51h-8.62zM261.6 274.94h11.25v0.51h-11.25zM261.6 277.42h9.26v0.51h-9.26zM261.6 278.9h7.3v0.51h-7.3zM261.6 279.39h6.79v0.51h-6.79zM261.6 279.89h9.98v0.51h-9.98zM261.6 280.88h8.97v0.51h-8.97zM261.6 281.37h7.11v0.51h-7.11zM261.6 281.87h8.68v0.51h-8.68zM261.6 282.36h8.85v0.51h-8.85zM261.6 282.86h10.72v0.51h-10.72zM261.6 283.35h7.26v0.51h-7.26zM261.6 283.85h10.54v0.51h-10.54zM261.6 284.34h1.29v0.52h-1.29zM261.6 287.34h0.95v0.52h-0.95zM261.6 290.34h1.27v0.52h-1.27zM261.6 290.84h0.64v0.52h-0.64zM261.6 291.34h1.26v0.52h-1.26zM261.6 291.84h0.77v0.52h-0.77zM261.6 292.34h0.88v0.52h-0.88zM261.6 293.34h1.1v0.52h-1.1zM261.6 294.84h3.23v0.52h-3.23zM261.6 295.84h2.85v0.52h-2.85zM261.6 296.33h2.76v0.52h-2.76zM261.6 297.33h1.29v0.52h-1.29zM261.6 297.83h1.38v0.52h-1.38zM261.6 298.32h3.32v0.52h-3.32zM261.6 298.82h1.61v0.52h-1.61zM261.6 299.32h2.45v0.52h-2.45zM261.6 300.31h2.27v0.52h-2.27zM261.6 301.8h1.67v0.52h-1.67zM261.6 302.3h2.08v0.52h-2.08zM261.6 302.8h2.58v0.52h-2.58zM261.6 303.29h2.06v0.52h-2.06zM261.6 303.79h3.25v0.52h-3.25zM261.6 303.39h11.4v0.8h-11.4zM261.6 304.78h5.13v0.51h-5.13zM261.6 305.28h5.72v0.51h-5.72zM261.6 306.27h4.45v0.51h-4.45zM261.6 306.76h3.51v0.51h-3.51zM261.6 307.75h5.65v0.51h-5.65zM261.6 309.24h4.69v0.51h-4.69zM261.6 309.73h2.76v0.51h-2.76zM261.6 310.23h3.46v0.51h-3.46zM261.6 311.71h2.38v0.51h-2.38zM261.6 312.7h1.52v0.51h-1.52zM261.6 313.69h1.96v0.51h-1.96zM261.6 311.43h8.26v0.8h-8.26zM261.6 315.21h14.99v0.53h-14.99zM261.6 316.24h18.79v0.53h-18.79zM261.6 316.76h17.75v0.53h-17.75zM261.6 317.78h20.11v0.53h-20.11zM261.6 318.3h15.95v0.53h-15.95zM261.6 319.33h18.28v0.53h-18.28zM261.6 320.87h19.62v0.53h-19.62zM261.6 321.38h14.9v0.53h-14.9zM261.6 321.9h14.3v0.53h-14.3zM261.6 322.41h20.03v0.53h-20.03zM261.6 315.53h15.96v0.8h-15.96zM261.6 323.43h1.24v0.52h-1.24zM261.6 324.44h1.33v0.52h-1.33zM261.6 324.94h12.19v0.52h-12.19zM261.6 325.44h13.09v0.52h-13.09zM261.6 327.45h12.62v0.52h-12.62zM261.6 327.96h14.65v0.52h-14.65zM261.6 328.96h17.56v0.52h-17.56zM261.6 329.97h19.35v0.52h-19.35zM261.6 327.35h24.51v0.8h-24.51zM261.6 331.46h8.31v0.5h-8.31zM261.6 331.94h4.84v0.5h-4.84zM261.6 332.91h5.72v0.5h-5.72zM261.6 334.37h2.33v0.5h-2.33zM261.6 334.85h1.25v0.5h-1.25zM261.6 336.31h3.42v0.5h-3.42zM261.6 337.28h4.74v0.5h-4.74zM261.6 337.76h2.62v0.5h-2.62zM261.6 339.72h2.17v0.52h-2.17zM261.6 340.22h1.18v0.52h-1.18zM261.6 340.72h1.52v0.52h-1.52zM261.6 341.21h4.5v0.52h-4.5zM261.6 341.71h4.46v0.52h-4.46zM261.6 342.7h4.52v0.52h-4.52zM261.6 343.69h3.71v0.52h-3.71zM261.6 345.18h2.71v0.52h-2.71zM261.6 345.68h1.74v0.52h-1.74zM261.6 346.18h2.47v0.51h-2.47zM261.6 347.17h2.24v0.51h-2.24zM261.6 348.15h7.31v0.51h-7.31zM261.6 348.65h8.29v0.51h-8.29zM261.6 349.14h8.34v0.51h-8.34zM261.6 349.64h4.84v0.51h-4.84zM261.6 350.13h5.09v0.51h-5.09zM261.6 351.12h4.56v0.51h-4.56zM261.6 351.62h4.53v0.51h-4.53zM261.6 352.11h5.43v0.51h-5.43zM261.6 352.61h4.82v0.51h-4.82zM261.6 353.1h4.31v0.51h-4.31zM261.6 353.59h4.56v0.51h-4.56zM261.6 354.58h3.52v0.51h-3.52zM261.6 355.56h5.16v0.51h-5.16zM261.6 356.05h2.26v0.51h-2.26zM261.6 356.54h2.35v0.51h-2.35zM261.6 358.5h2.15v0.51h-2.15zM261.6 359.48h2.09v0.51h-2.09zM261.6 354.67h7.98v0.8h-7.98zM261.6 360.95h2.17v0.51h-2.17zM261.6 361.44h2.07v0.51h-2.07zM261.6 362.41h16.31v0.51h-16.31zM261.6 362.9h16.86v0.51h-16.86zM261.6 363.39h17.93v0.51h-17.93zM261.6 363.87h17.14v0.51h-17.14zM261.6 366.31h18.19v0.51h-18.19zM261.6 364.35h18.52v0.8h-18.52zM261.6 368.76h1.6v0.51h-1.6zM261.6 369.74h0.92v0.51h-0.92zM261.6 370.72h1.01v0.51h-1.01zM261.6 372.2h1.41v0.51h-1.41zM261.6 372.69h1.3v0.51h-1.3zM261.6 373.18h1.14v0.53h-1.14zM261.6 373.69h1.51v0.53h-1.51zM261.6 374.2h2.41v0.53h-2.41zM261.6 375.23h2.88v0.53h-2.88zM261.6 376.25h2.06v0.53h-2.06zM261.6 376.76h2.33v0.53h-2.33zM261.6 377.79h3.02v0.53h-3.02zM261.6 378.3h0.63v0.53h-0.63zM261.6 378.81h1.73v0.52h-1.73zM261.6 379.8h6.34v0.52h-6.34zM261.6 380.3h4.91v0.52h-4.91zM261.6 380.8h4.94v0.52h-4.94zM261.6 381.29h4.95v0.52h-4.95zM261.6 382.78h2.09v0.52h-2.09zM261.6 384.27h2.22v0.52h-2.22zM261.6 384.77h4.26v0.52h-4.26zM261.6 385.26h5.77v0.52h-5.77zM261.6 385.76h6.59v0.52h-6.59zM261.6 386.25h4.29v0.52h-4.29zM261.6 387.25h3.87v0.52h-3.87zM261.6 387.74h5.18v0.52h-5.18zM261.6 385.16h13.96v0.8h-13.96zM261.6 390.14h1.18v0.5h-1.18zM261.6 392.53h1.38v0.56h-1.38zM261.6 393.61h1.64v0.56h-1.64zM261.6 394.69h2.23v0.56h-2.23zM261.6 395.24h1.63v0.56h-1.63zM261.6 392.78h11.4v0.8h-11.4zM261.6 396.27h19.01v0.51h-19.01zM261.6 396.77h22.75v0.51h-22.75zM261.6 397.26h30.78v0.51h-30.78zM261.6 398.25h24.37v0.51h-24.37zM261.6 399.24h1.39v0.55h-1.39zM261.6 402.35h1.12v0.49h-1.12zM261.6 402.82h1.29v0.49h-1.29zM261.6 402.04h4.56v0.8h-4.56z" fill="#f7c4c4"/>
<path d="M251.73 246.4h9.87v0.53h-9.87zM251.57 246.91h10.03v0.53h-10.03zM251.49 247.41h10.11v0.53h-10.11zM253.27 247.92h8.33v0.53h-8.33zM253.56 248.43h8.04v0.53h-8.04zM253.3 248.94h8.3v0.53h-8.3zM254.58 249.44h7.02v0.53h-7.02zM253.95 249.95h7.65v0.53h-7.65zM253.27 250.46h8.33v0.53h-8.33zM255.69 250.97h5.91v0.53h-5.91zM255.33 251.47h6.27v0.53h-6.27zM256.45 251.98h5.15v0.53h-5.15zM260.22 252.49h1.38v0.53h-1.38zM260.54 252.99h1.06v0.53h-1.06zM260.11 253.5h1.49v0.53h-1.49zM260.07 254.01h1.53v0.53h-1.53zM256.88 254.52h4.72v0.53h-4.72zM256.59 255.02h5.01v0.53h-5.01zM256.5 255.53h5.1v0.53h-5.1zM255.59 256.04h6.01v0.53h-6.01zM255.81 256.55h5.79v0.53h-5.79zM256.67 257.05h4.93v0.53h-4.93zM255.76 257.56h5.84v0.53h-5.84zM256.7 258.07h4.9v0.53h-4.9zM256.02 258.57h5.58v0.53h-5.58zM257.86 259.08h3.74v0.53h-3.74zM258.03 259.59h3.57v0.53h-3.57zM261.5 260.59h0.1v0.51h-0.1zM260.77 261.09h0.83v0.51h-0.83zM260.65 261.58h0.95v0.51h-0.95zM261.37 262.08h0.23v0.51h-0.23zM260.76 262.57h0.84v0.51h-0.84zM260.78 263.07h0.82v0.51h-0.82zM260.9 263.56h0.7v0.51h-0.7zM260.94 264.06h0.66v0.51h-0.66zM260.8 264.55h0.8v0.51h-0.8zM258.37 265.05h3.23v0.51h-3.23zM257.89 265.54h3.71v0.51h-3.71zM258.49 266.04h3.11v0.51h-3.11zM258.2 266.53h3.4v0.51h-3.4zM257.8 267.03h3.8v0.51h-3.8zM257.91 267.52h3.69v0.51h-3.69zM259.9 268.02h1.7v0.51h-1.7zM258.97 268.51h2.63v0.51h-2.63zM259.39 269.01h2.21v0.51h-2.21zM259.49 269.5h2.11v0.51h-2.11zM260.3 270h1.3v0.51h-1.3zM259.54 270.49h2.06v0.51h-2.06zM259.96 270.98h1.64v0.51h-1.64zM259.36 271.48h2.24v0.51h-2.24zM259.66 271.97h1.94v0.51h-1.94zM259.15 272.47h2.45v0.51h-2.45zM259.39 272.96h2.21v0.51h-2.21zM256.92 273.46h4.68v0.51h-4.68zM257.69 273.95h3.91v0.51h-3.91zM257.66 274.45h3.94v0.51h-3.94zM257.82 274.94h3.78v0.51h-3.78zM256.63 275.44h4.97v0.51h-4.97zM257.62 275.93h3.98v0.51h-3.98zM257.17 276.43h4.43v0.51h-4.43zM256.22 276.92h5.38v0.51h-5.38zM255.98 277.42h5.62v0.51h-5.62zM256.04 277.91h5.56v0.51h-5.56zM255.84 278.41h5.76v0.51h-5.76zM256.73 278.9h4.87v0.51h-4.87zM255.81 279.39h5.79v0.51h-5.79zM256.47 279.89h5.13v0.51h-5.13zM256.14 280.38h5.46v0.51h-5.46zM256.42 280.88h5.18v0.51h-5.18zM255.05 281.37h6.55v0.51h-6.55zM254.72 281.87h6.88v0.51h-6.88zM258.23 282.36h3.37v0.51h-3.37zM258.38 282.86h3.22v0.51h-3.22zM257.83 283.35h3.77v0.51h-3.77zM258.05 283.85h3.55v0.51h-3.55zM250.83 284.34h10.77v0.52h-10.77zM251.65 284.84h9.95v0.52h-9.95zM250.82 285.34h10.78v0.52h-10.78zM251.64 285.84h9.96v0.52h-9.96zM251.59 286.34h10.01v0.52h-10.01zM250.92 286.84h10.68v0.52h-10.68zM251.43 287.34h10.17v0.52h-10.17zM250.52 287.84h11.08v0.52h-11.08zM251.08 288.34h10.52v0.52h-10.52zM251.31 288.84h10.29v0.52h-10.29zM250.63 289.34h10.97v0.52h-10.97zM251.73 289.84h9.87v0.52h-9.87zM250.73 290.34h10.87v0.52h-10.87zM251.69 290.84h9.91v0.52h-9.91zM251.55 291.34h10.05v0.52h-10.05zM250.41 291.84h11.19v0.52h-11.19zM250.8 292.34h10.8v0.52h-10.8zM251.45 292.84h10.15v0.52h-10.15zM249.61 293.34h11.99v0.52h-11.99zM248.39 293.84h13.21v0.52h-13.21zM248.82 294.34h12.78v0.52h-12.78zM259.97 294.84h1.63v0.52h-1.63zM260.27 295.34h1.33v0.52h-1.33zM259.5 295.84h2.1v0.52h-2.1zM260.88 296.33h0.72v0.52h-0.72zM257.95 296.83h3.65v0.52h-3.65zM256.93 297.33h4.67v0.52h-4.67zM257.45 297.83h4.15v0.52h-4.15zM257.97 298.32h3.63v0.52h-3.63zM257.26 298.82h4.34v0.52h-4.34zM256.63 299.32h4.97v0.52h-4.97zM257.3 299.81h4.3v0.52h-4.3zM257.54 300.31h4.06v0.52h-4.06zM257.9 300.81h3.7v0.52h-3.7zM257.94 301.3h3.66v0.52h-3.66zM256.76 301.8h4.84v0.52h-4.84zM257.34 302.3h4.26v0.52h-4.26zM258.7 302.8h2.9v0.52h-2.9zM259.96 303.29h1.64v0.52h-1.64zM259.69 303.79h1.91v0.52h-1.91zM259.96 304.29h1.64v0.52h-1.64zM258.56 304.78h3.04v0.51h-3.04zM258.28 305.28h3.32v0.51h-3.32zM258.38 305.77h3.22v0.51h-3.22zM258.42 306.27h3.18v0.51h-3.18zM258.87 306.76h2.73v0.51h-2.73zM258.06 307.26h3.54v0.51h-3.54zM256.86 307.75h4.74v0.51h-4.74zM257 308.25h4.6v0.51h-4.6zM257.9 308.74h3.7v0.51h-3.7zM257.28 309.24h4.32v0.51h-4.32zM257.79 309.73h3.81v0.51h-3.81zM257.03 310.23h4.57v0.51h-4.57zM257.4 310.72h4.2v0.51h-4.2zM256.7 311.22h4.9v0.51h-4.9zM256.9 311.71h4.7v0.51h-4.7zM257.87 312.21h3.73v0.51h-3.73zM257.59 312.7h4.01v0.51h-4.01zM256.73 313.2h4.87v0.51h-4.87zM257.38 313.69h4.22v0.51h-4.22zM261.35 314.19h0.25v0.53h-0.25zM260.72 314.7h0.88v0.53h-0.88zM260.67 315.73h0.93v0.53h-0.93zM260.79 316.24h0.81v0.53h-0.81zM260.38 316.76h1.22v0.53h-1.22zM260.46 317.27h1.14v0.53h-1.14zM260.76 317.78h0.84v0.53h-0.84zM260.55 318.3h1.05v0.53h-1.05zM260.69 318.81h0.91v0.53h-0.91zM260.87 319.33h0.73v0.53h-0.73zM261.45 319.84h0.15v0.53h-0.15zM261.01 320.36h0.59v0.53h-0.59zM260.47 320.87h1.13v0.53h-1.13zM261.4 321.38h0.2v0.53h-0.2zM260.35 321.9h1.25v0.53h-1.25zM260.97 322.41h0.63v0.53h-0.63zM243.59 322.93h18.01v0.52h-18.01zM243.48 323.43h18.12v0.52h-18.12zM252.9 323.93h8.7v0.52h-8.7zM253.03 324.44h8.57v0.52h-8.57zM252.73 324.94h8.87v0.52h-8.87zM252.68 325.44h8.92v0.52h-8.92zM259.14 325.94h2.46v0.52h-2.46zM258.66 326.45h2.94v0.52h-2.94zM259.89 326.95h1.71v0.52h-1.71zM259.89 327.45h1.71v0.52h-1.71zM259.94 327.96h1.66v0.52h-1.66zM259.74 328.46h1.86v0.52h-1.86zM259.5 328.96h2.1v0.52h-2.1zM259.38 329.46h2.22v0.52h-2.22zM259.06 329.97h2.54v0.52h-2.54zM258.97 330.47h2.63v0.52h-2.63zM257.97 330.97h3.63v0.5h-3.63zM257.99 331.46h3.61v0.5h-3.61zM258.84 331.94h2.76v0.5h-2.76zM258.86 332.43h2.74v0.5h-2.74zM257.8 332.91h3.8v0.5h-3.8zM258.3 333.4h3.3v0.5h-3.3zM260.21 333.88h1.39v0.5h-1.39zM256.29 334.37h5.31v0.5h-5.31zM256.16 334.85h5.44v0.5h-5.44zM256.93 335.34h4.67v0.5h-4.67zM256.04 335.82h5.56v0.5h-5.56zM256.39 336.31h5.21v0.5h-5.21zM256.2 336.79h5.4v0.5h-5.4zM257.26 337.28h4.34v0.5h-4.34zM259.77 337.76h1.83v0.5h-1.83zM260.29 338.25h1.31v0.5h-1.31zM260.93 338.73h0.67v0.52h-0.67zM260.7 339.23h0.9v0.52h-0.9zM260.44 339.72h1.16v0.52h-1.16zM260.12 340.22h1.48v0.52h-1.48zM260.1 340.72h1.5v0.52h-1.5zM260.05 341.21h1.55v0.52h-1.55zM261.03 341.71h0.57v0.52h-0.57zM258.37 342.21h3.23v0.52h-3.23zM257.28 342.7h4.32v0.52h-4.32zM258.5 343.2h3.1v0.52h-3.1zM257.97 343.69h3.63v0.52h-3.63zM257.56 344.19h4.04v0.52h-4.04zM257.85 344.69h3.75v0.52h-3.75zM260.33 345.18h1.27v0.52h-1.27zM259.57 345.68h2.03v0.52h-2.03zM260.51 346.18h1.09v0.51h-1.09zM260.95 346.67h0.65v0.51h-0.65zM260.86 347.17h0.74v0.51h-0.74zM260.8 347.66h0.8v0.51h-0.8zM259.82 348.15h1.78v0.51h-1.78zM260.88 348.65h0.72v0.51h-0.72zM261.05 349.14h0.55v0.51h-0.55zM259.53 349.64h2.07v0.51h-2.07zM259.92 350.13h1.68v0.51h-1.68zM259.43 350.63h2.17v0.51h-2.17zM259.15 351.12h2.45v0.51h-2.45zM259.11 351.62h2.49v0.51h-2.49zM259.78 352.11h1.82v0.51h-1.82zM259.83 352.61h1.77v0.51h-1.77zM259.33 353.1h2.27v0.51h-2.27zM259.91 353.59h1.69v0.51h-1.69zM258.63 354.09h2.97v0.51h-2.97zM259.26 354.58h2.34v0.51h-2.34zM259.41 355.07h2.19v0.51h-2.19zM259.64 355.56h1.96v0.51h-1.96zM259.25 356.05h2.35v0.51h-2.35zM259.79 356.54h1.81v0.51h-1.81zM260.56 357.03h1.04v0.51h-1.04zM259.16 357.52h2.44v0.51h-2.44zM258.73 358.01h2.87v0.51h-2.87zM258.15 358.5h3.45v0.51h-3.45zM258.92 358.99h2.68v0.51h-2.68zM258.56 359.48h3.04v0.51h-3.04zM259.86 359.97h1.74v0.51h-1.74zM260.71 360.46h0.89v0.51h-0.89zM260.97 360.95h0.63v0.51h-0.63zM260.41 361.44h1.19v0.51h-1.19zM260.74 361.93h0.86v0.51h-0.86zM260.44 362.41h1.16v0.51h-1.16zM260.58 362.9h1.02v0.51h-1.02zM260.32 363.39h1.28v0.51h-1.28zM261.23 363.87h0.37v0.51h-0.37zM261.32 364.36h0.28v0.51h-0.28zM260.9 365.33h0.7v0.51h-0.7zM260.93 365.82h0.67v0.51h-0.67zM260.83 366.31h0.77v0.51h-0.77zM254.62 367.28h6.98v0.51h-6.98zM254.81 367.77h6.79v0.51h-6.79zM254.42 368.27h7.18v0.51h-7.18zM254.76 368.76h6.84v0.51h-6.84zM254.38 369.25h7.22v0.51h-7.22zM254.78 369.74h6.82v0.51h-6.82zM254.59 370.23h7.01v0.51h-7.01zM254.9 370.72h6.7v0.51h-6.7zM254.29 371.21h7.31v0.51h-7.31zM254.47 371.7h7.13v0.51h-7.13zM253.86 372.2h7.74v0.51h-7.74zM254.35 372.69h7.25v0.51h-7.25zM254.69 373.18h6.91v0.53h-6.91zM254.11 373.69h7.49v0.53h-7.49zM254.28 374.2h7.32v0.53h-7.32zM255.01 374.71h6.59v0.53h-6.59zM254.16 375.23h7.44v0.53h-7.44zM255.36 375.74h6.24v0.53h-6.24zM255.26 376.25h6.34v0.53h-6.34zM255.46 376.76h6.14v0.53h-6.14zM255.39 377.27h6.21v0.53h-6.21zM254.61 377.79h6.99v0.53h-6.99zM254.39 378.3h7.21v0.53h-7.21zM260.39 378.81h1.21v0.52h-1.21zM259.54 379.31h2.06v0.52h-2.06zM260.76 379.8h0.84v0.52h-0.84zM260.4 380.3h1.2v0.52h-1.2zM260.59 380.8h1.01v0.52h-1.01zM257.35 381.29h4.25v0.52h-4.25zM257.66 381.79h3.94v0.52h-3.94zM258.18 382.29h3.42v0.52h-3.42zM257.09 382.78h4.51v0.52h-4.51zM257.85 383.28h3.75v0.52h-3.75zM260.73 383.78h0.87v0.52h-0.87zM245.42 384.27h16.18v0.52h-16.18zM245.44 384.77h16.16v0.52h-16.16zM255.73 385.26h5.87v0.52h-5.87zM255.4 385.76h6.2v0.52h-6.2zM256.36 386.25h5.24v0.52h-5.24zM255.94 386.75h5.66v0.52h-5.66zM260.43 387.25h1.17v0.52h-1.17zM260 387.74h1.6v0.52h-1.6zM244.86 388.24h16.74v0.5h-16.74zM244.22 388.71h17.38v0.5h-17.38zM244.54 389.19h17.06v0.5h-17.06zM244.18 389.67h17.42v0.5h-17.42zM244.86 390.14h16.74v0.5h-16.74zM244.61 390.62h16.99v0.5h-16.99zM243.52 391.1h18.08v0.5h-18.08zM243.8 391.58h17.8v0.5h-17.8zM244.61 392.05h16.99v0.5h-16.99zM260.24 392.53h1.36v0.56h-1.36zM260.42 393.07h1.18v0.56h-1.18zM257.85 393.61h3.75v0.56h-3.75zM257.59 394.15h4.01v0.56h-4.01zM258.1 394.69h3.5v0.56h-3.5zM258.35 395.24h3.25v0.56h-3.25zM261.31 395.78h0.29v0.51h-0.29zM261.42 396.27h0.18v0.51h-0.18zM261.45 396.77h0.15v0.51h-0.15zM260.8 397.26h0.8v0.51h-0.8zM260.91 397.75h0.69v0.51h-0.69zM261.34 398.25h0.26v0.51h-0.26zM260.7 398.74h0.9v0.51h-0.9zM254.14 399.24h7.46v0.55h-7.46zM253.7 399.77h7.9v0.55h-7.9zM253.53 400.3h8.07v0.55h-8.07zM254.05 400.82h7.55v0.55h-7.55zM254.19 401.35h7.41v0.55h-7.41zM256.21 401.88h5.39v0.49h-5.39zM255.34 402.35h6.26v0.49h-6.26zM255.98 402.82h5.62v0.49h-5.62zM256.25 403.29h5.35v0.49h-5.35zM255.93 403.76h5.67v0.49h-5.67zM255.92 404.23h5.68v0.49h-5.68z" fill="#74b6e6"/>
<path d="M261.6 246.4h1.38v0.53h-1.38zM261.6 246.91h0.44v0.53h-0.44zM261.6 247.41h0.45v0.53h-0.45zM261.6 247.92h1.54v0.53h-1.54zM261.6 248.43h1.39v0.53h-1.39zM261.6 248.94h0.55v0.53h-0.55zM261.6 249.44h1.51v0.53h-1.51zM261.6 249.95h0.91v0.53h-0.91zM261.6 250.46h1.96v0.53h-1.96zM261.6 250.97h1.29v0.53h-1.29zM261.6 251.47h2.34v0.53h-2.34zM261.6 251.98h1.98v0.53h-1.98zM261.6 252.49h2.37v0.53h-2.37zM261.6 252.99h2.27v0.53h-2.27zM261.6 253.5h1.42v0.53h-1.42zM261.6 254.01h1.51v0.53h-1.51zM261.6 254.52h4.65v0.53h-4.65zM261.6 255.02h4.63v0.53h-4.63zM261.6 255.53h4.51v0.53h-4.51zM261.6 256.04h4.85v0.53h-4.85zM261.6 256.55h5.28v0.53h-5.28zM261.6 257.05h4.42v0.53h-4.42zM261.6 257.56h5.38v0.53h-5.38zM261.6 258.07h4.9v0.53h-4.9zM261.6 258.57h4.86v0.53h-4.86zM261.6 259.08h5.58v0.53h-5.58zM261.6 259.59h7.38v0.53h-7.38zM261.6 260.1h2.7v0.51h-2.7zM261.6 260.59h2.06v0.51h-2.06zM261.6 261.09h2.49v0.51h-2.49zM261.6 261.58h2.62v0.51h-2.62zM261.6 262.08h2.75v0.51h-2.75zM261.6 262.57h2.07v0.51h-2.07zM261.6 263.07h2.77v0.51h-2.77zM261.6 263.56h2.81v0.51h-2.81zM261.6 264.06h2.83v0.51h-2.83zM261.6 264.55h3.24v0.51h-3.24zM261.6 265.05h3.22v0.51h-3.22zM261.6 265.54h5.73v0.51h-5.73zM261.6 266.04h5.74v0.51h-5.74zM261.6 266.53h5.22v0.51h-5.22zM261.6 267.03h3.33v0.51h-3.33zM261.6 267.52h3.47v0.51h-3.47zM261.6 268.02h2.82v0.51h-2.82zM261.6 268.51h3.12v0.51h-3.12zM261.6 269.01h3.16v0.51h-3.16zM261.6 269.5h3.18v0.51h-3.18zM261.6 270h2.38v0.51h-2.38zM261.6 270.49h3.25v0.51h-3.25zM261.6 270.98h2.97v0.51h-2.97zM261.6 271.48h3.09v0.51h-3.09zM261.6 271.97h2.74v0.51h-2.74zM261.6 272.47h3.03v0.51h-3.03zM261.6 272.96h3.24v0.51h-3.24zM261.6 273.46h5.04v0.51h-5.04zM261.6 273.95h5.35v0.51h-5.35zM261.6 274.45h5.64v0.51h-5.64zM261.6 274.94h6.29v0.51h-6.29zM261.6 275.44h6.25v0.51h-6.25zM261.6 275.93h5.76v0.51h-5.76zM261.6 276.43h5.01v0.51h-5.01zM261.6 276.92h6.1v0.51h-6.1zM261.6 277.42h5.6v0.51h-5.6zM261.6 277.91h5.81v0.51h-5.81zM261.6 278.41h6v0.51h-6zM261.6 278.9h5.89v0.51h-5.89zM261.6 279.39h5.67v0.51h-5.67zM261.6 279.89h6.29v0.51h-6.29zM261.6 280.38h5.54v0.51h-5.54zM261.6 280.88h5.55v0.51h-5.55zM261.6 281.37h6.2v0.51h-6.2zM261.6 281.87h5.27v0.51h-5.27zM261.6 282.36h5.41v0.51h-5.41zM261.6 282.86h6.17v0.51h-6.17zM261.6 283.35h5.08v0.51h-5.08zM261.6 283.85h6.18v0.51h-6.18zM261.6 284.34h0.74v0.52h-0.74zM261.6 285.34h0.46v0.52h-0.46zM261.6 287.34h0.45v0.52h-0.45zM261.6 288.34h0.12v0.52h-0.12zM261.6 289.34h0.76v0.52h-0.76zM261.6 289.84h0.5v0.52h-0.5zM261.6 290.34h0.72v0.52h-0.72zM261.6 290.84h0.19v0.52h-0.19zM261.6 291.34h0.79v0.52h-0.79zM261.6 291.84h0.31v0.52h-0.31zM261.6 292.34h0.42v0.52h-0.42zM261.6 292.84h0.39v0.52h-0.39zM261.6 293.34h0.63v0.52h-0.63zM261.6 293.84h0.14v0.52h-0.14zM261.6 294.84h2.13v0.52h-2.13zM261.6 295.34h1.65v0.52h-1.65zM261.6 295.84h1.93v0.52h-1.93zM261.6 296.33h2.15v0.52h-2.15zM261.6 296.83h2v0.52h-2zM261.6 297.33h0.79v0.52h-0.79zM261.6 297.83h0.77v0.52h-0.77zM261.6 298.32h2.1v0.52h-2.1zM261.6 298.82h0.97v0.52h-0.97zM261.6 299.32h1.44v0.52h-1.44zM261.6 299.81h1.29v0.52h-1.29zM261.6 300.31h1.47v0.52h-1.47zM261.6 300.81h0.83v0.52h-0.83zM261.6 301.3h1.16v0.52h-1.16zM261.6 301.8h0.87v0.52h-0.87zM261.6 302.3h1.48v0.52h-1.48zM261.6 302.8h2.03v0.52h-2.03zM261.6 303.29h1.57v0.52h-1.57zM261.6 303.79h1.93v0.52h-1.93zM261.6 304.29h1.02v0.52h-1.02zM261.6 304.78h2.76v0.51h-2.76zM261.6 305.28h2.77v0.51h-2.77zM261.6 305.77h3.23v0.51h-3.23zM261.6 306.27h3.47v0.51h-3.47zM261.6 306.76h2.9v0.51h-2.9zM261.6 307.26h3.52v0.51h-3.52zM261.6 307.75h2.99v0.51h-2.99zM261.6 308.25h2.29v0.51h-2.29zM261.6 308.74h3.3v0.51h-3.3zM261.6 309.24h2.74v0.51h-2.74zM261.6 309.73h2.21v0.51h-2.21zM261.6 310.23h1.82v0.51h-1.82zM261.6 310.72h0.47v0.51h-0.47zM261.6 311.22h1.25v0.51h-1.25zM261.6 311.71h1.11v0.51h-1.11zM261.6 312.21h1.68v0.51h-1.68zM261.6 312.7h0.99v0.51h-0.99zM261.6 313.2h0.73v0.51h-0.73zM261.6 313.69h0.82v0.51h-0.82zM261.6 314.19h13.53v0.53h-13.53zM261.6 314.7h12.97v0.53h-12.97zM261.6 315.21h13.52v0.53h-13.52zM261.6 315.73h13.22v0.53h-13.22zM261.6 316.24h13.61v0.53h-13.61zM261.6 316.76h13.96v0.53h-13.96zM261.6 317.27h13.98v0.53h-13.98zM261.6 317.78h13.56v0.53h-13.56zM261.6 318.3h13.23v0.53h-13.23zM261.6 318.81h12.84v0.53h-12.84zM261.6 319.33h12.81v0.53h-12.81zM261.6 319.84h12.62v0.53h-12.62zM261.6 320.36h12.85v0.53h-12.85zM261.6 320.87h12.36v0.53h-12.36zM261.6 321.38h13.09v0.53h-13.09zM261.6 321.9h12.13v0.53h-12.13zM261.6 322.41h12.26v0.53h-12.26zM261.6 322.93h0.26v0.52h-0.26zM261.6 323.43h0.72v0.52h-0.72zM261.6 323.93h0.92v0.52h-0.92zM261.6 324.44h0.68v0.52h-0.68zM261.6 324.94h10.57v0.52h-10.57zM261.6 325.44h11.25v0.52h-11.25zM261.6 325.94h10.94v0.52h-10.94zM261.6 326.45h11.38v0.52h-11.38zM261.6 326.95h11.11v0.52h-11.11zM261.6 327.45h11.77v0.52h-11.77zM261.6 327.96h11.75v0.52h-11.75zM261.6 328.46h14.21v0.52h-14.21zM261.6 328.96h15.19v0.52h-15.19zM261.6 329.46h15.14v0.52h-15.14zM261.6 329.97h14.53v0.52h-14.53zM261.6 330.47h14.27v0.52h-14.27zM261.6 330.97h4.95v0.5h-4.95zM261.6 331.46h4.98v0.5h-4.98zM261.6 331.94h3.87v0.5h-3.87zM261.6 332.43h4.16v0.5h-4.16zM261.6 332.91h3.95v0.5h-3.95zM261.6 333.4h4.23v0.5h-4.23zM261.6 333.88h0.84v0.5h-0.84zM261.6 334.37h1.38v0.5h-1.38zM261.6 334.85h0.6v0.5h-0.6zM261.6 335.34h2.38v0.5h-2.38zM261.6 335.82h2.79v0.5h-2.79zM261.6 336.31h2.24v0.5h-2.24zM261.6 336.79h2.68v0.5h-2.68zM261.6 337.28h3.42v0.5h-3.42zM261.6 337.76h1.69v0.5h-1.69zM261.6 338.25h0.71v0.5h-0.71zM261.6 338.73h0.85v0.52h-0.85zM261.6 339.23h1.21v0.52h-1.21zM261.6 339.72h1.61v0.52h-1.61zM261.6 340.22h0.62v0.52h-0.62zM261.6 340.72h0.93v0.52h-0.93zM261.6 341.21h3.41v0.52h-3.41zM261.6 341.71h3.51v0.52h-3.51zM261.6 342.21h3v0.52h-3zM261.6 342.7h3.35v0.52h-3.35zM261.6 343.2h2.79v0.52h-2.79zM261.6 343.69h2.83v0.52h-2.83zM261.6 344.19h3.19v0.52h-3.19zM261.6 344.69h2.91v0.52h-2.91zM261.6 345.18h2.09v0.52h-2.09zM261.6 345.68h1.09v0.52h-1.09zM261.6 346.18h1.69v0.51h-1.69zM261.6 346.67h1.35v0.51h-1.35zM261.6 347.17h1.53v0.51h-1.53zM261.6 347.66h2.01v0.51h-2.01zM261.6 348.15h6.62v0.51h-6.62zM261.6 348.65h6.79v0.51h-6.79zM261.6 349.14h7.12v0.51h-7.12zM261.6 349.64h3.76v0.51h-3.76zM261.6 350.13h4.28v0.51h-4.28zM261.6 350.63h3.78v0.51h-3.78zM261.6 351.12h3.94v0.51h-3.94zM261.6 351.62h3.59v0.51h-3.59zM261.6 352.11h4.11v0.51h-4.11zM261.6 352.61h4.18v0.51h-4.18zM261.6 353.1h3.41v0.51h-3.41zM261.6 353.59h3.86v0.51h-3.86zM261.6 354.09h3.46v0.51h-3.46zM261.6 354.58h2.91v0.51h-2.91zM261.6 355.07h2.78v0.51h-2.78zM261.6 355.56h4.05v0.51h-4.05zM261.6 356.05h1.66v0.51h-1.66zM261.6 356.54h1.63v0.51h-1.63zM261.6 357.03h2.31v0.51h-2.31zM261.6 357.52h1.82v0.51h-1.82zM261.6 358.01h1.71v0.51h-1.71zM261.6 358.5h1.4v0.51h-1.4zM261.6 358.99h2.06v0.51h-2.06zM261.6 359.48h1.36v0.51h-1.36zM261.6 359.97h1.67v0.51h-1.67zM261.6 360.46h2.08v0.51h-2.08zM261.6 360.95h1.48v0.51h-1.48zM261.6 361.44h1.39v0.51h-1.39zM261.6 361.93h14.56v0.51h-14.56zM261.6 362.41h14.68v0.51h-14.68zM261.6 362.9h15.78v0.51h-15.78zM261.6 363.39h15.61v0.51h-15.61zM261.6 363.87h14.73v0.51h-14.73zM261.6 364.36h15.57v0.51h-15.57zM261.6 364.85h15.32v0.51h-15.32zM261.6 365.33h14.94v0.51h-14.94zM261.6 365.82h15.31v0.51h-15.31zM261.6 366.31h14.72v0.51h-14.72zM261.6 366.8h14.78v0.51h-14.78zM261.6 367.28h0.09v0.51h-0.09zM261.6 367.77h1.22v0.51h-1.22zM261.6 368.27h1.13v0.51h-1.13zM261.6 368.76h0.84v0.51h-0.84zM261.6 369.25h0.17v0.51h-0.17zM261.6 369.74h0.43v0.51h-0.43zM261.6 370.23h0.5v0.51h-0.5zM261.6 370.72h0.44v0.51h-0.44zM261.6 371.7h0.51v0.51h-0.51zM261.6 372.2h0.95v0.51h-0.95zM261.6 372.69h0.85v0.51h-0.85zM261.6 373.18h0.54v0.53h-0.54zM261.6 373.69h1v0.53h-1zM261.6 374.2h1.64v0.53h-1.64zM261.6 374.71h2.31v0.53h-2.31zM261.6 375.23h1.86v0.53h-1.86zM261.6 375.74h1.76v0.53h-1.76zM261.6 376.25h1.24v0.53h-1.24zM261.6 376.76h1.61v0.53h-1.61zM261.6 377.27h1.62v0.53h-1.62zM261.6 377.79h2.17v0.53h-2.17zM261.6 378.3h0.18v0.53h-0.18zM261.6 378.81h1.12v0.52h-1.12zM261.6 379.31h4.49v0.52h-4.49zM261.6 379.8h5.09v0.52h-5.09zM261.6 380.3h3.93v0.52h-3.93zM261.6 380.8h4.17v0.52h-4.17zM261.6 381.29h4.25v0.52h-4.25zM261.6 381.79h4.22v0.52h-4.22zM261.6 382.29h5.02v0.52h-5.02zM261.6 382.78h1.43v0.52h-1.43zM261.6 383.28h1.21v0.52h-1.21zM261.6 383.78h0.3v0.52h-0.3zM261.6 384.27h1.4v0.52h-1.4zM261.6 384.77h3.24v0.52h-3.24zM261.6 385.26h3.82v0.52h-3.82zM261.6 385.76h4.05v0.52h-4.05zM261.6 386.25h2.91v0.52h-2.91zM261.6 386.75h2.12v0.52h-2.12zM261.6 387.25h2.79v0.52h-2.79zM261.6 387.74h2.99v0.52h-2.99zM261.6 390.14h0.69v0.5h-0.69zM261.6 392.53h0.67v0.56h-0.67zM261.6 393.07h0.26v0.56h-0.26zM261.6 393.61h1.05v0.56h-1.05zM261.6 394.15h1.37v0.56h-1.37zM261.6 394.69h1.65v0.56h-1.65zM261.6 395.24h1.17v0.56h-1.17zM261.6 395.78h15.26v0.51h-15.26zM261.6 396.27h16.28v0.51h-16.28zM261.6 396.77h15.13v0.51h-15.13zM261.6 397.26h19.8v0.51h-19.8zM261.6 397.75h19.96v0.51h-19.96zM261.6 398.25h20v0.51h-20zM261.6 398.74h19.65v0.51h-19.65zM261.6 399.24h0.61v0.55h-0.61zM261.6 402.35h0.52v0.49h-0.52zM261.6 402.82h0.6v0.49h-0.6zM261.6 403.29h0.25v0.49h-0.25zM261.6 403.76h0.34v0.49h-0.34zM261.6 404.23h0.67v0.49h-0.67z" fill="#ec5f5f"/>
<path d="M230.7 260.1L292.6 260.1M230.7 273.46L292.6 273.46M230.7 284.34L292.6 284.34M230.7 294.84L292.6 294.84M230.7 304.78L292.6 304.78M230.7 314.19L292.6 314.19M230.7 322.93L292.6 322.93M230.7 330.97L292.6 330.97M230.7 338.73L292.6 338.73M230.7 346.18L292.6 346.18M230.7 353.59L292.6 353.59M230.7 360.95L292.6 360.95M230.7 367.28L292.6 367.28M230.7 373.18L292.6 373.18M230.7 378.81L292.6 378.81M230.7 383.78L292.6 383.78M230.7 388.24L292.6 388.24M230.7 392.53L292.6 392.53M230.7 395.78L292.6 395.78M230.7 399.24L292.6 399.24M230.7 401.88L292.6 401.88" fill="none" stroke="#333" stroke-width="0.8"/>
<path d="M261.6 246.4L261.6 404.7" fill="none" stroke="#222" stroke-width="0.9"/>
<path d="M230.7 246.4h61.9v158.3h-61.9z" fill="none" stroke="#8a8a8a" stroke-width="0.8"/>
<path d="M229.1 253.25L230.7 253.25M229.1 266.78L230.7 266.78M229.1 278.9L230.7 278.9M229.1 289.59L230.7 289.59M229.1 299.81L230.7 299.81M229.1 309.48L230.7 309.48M229.1 318.56L230.7 318.56M229.1 326.95L230.7 326.95M229.1 334.85L230.7 334.85M229.1 342.45L230.7 342.45M229.1 349.89L230.7 349.89M229.1 357.27L230.7 357.27M229.1 364.12L230.7 364.12M229.1 370.23L230.7 370.23M229.1 375.99L230.7 375.99M229.1 381.29L230.7 381.29M229.1 386.01L230.7 386.01M229.1 390.38L230.7 390.38M229.1 394.15L230.7 394.15M229.1 397.51L230.7 397.51M229.1 400.56L230.7 400.56M229.1 403.29L230.7 403.29" fill="none" stroke="#8a8a8a" stroke-width="0.6"/>
<path d="M233.1 244.8L233.1 246.4" fill="none" stroke="#8a8a8a" stroke-width="0.7"/>
<text x="233.1" y="242.7" font-size="6" text-anchor="middle" fill="#222">100</text>
<path d="M247.35 244.8L247.35 246.4" fill="none" stroke="#8a8a8a" stroke-width="0.7"/>
<text x="247.35" y="242.7" font-size="6" text-anchor="middle" fill="#222">50</text>
<path d="M261.6 244.8L261.6 246.4" fill="none" stroke="#8a8a8a" stroke-width="0.7"/>
<text x="261.6" y="242.7" font-size="6" text-anchor="middle" fill="#222">0</text>
<path d="M275.85 244.8L275.85 246.4" fill="none" stroke="#8a8a8a" stroke-width="0.7"/>
<text x="275.85" y="242.7" font-size="6" text-anchor="middle" fill="#222">50</text>
<path d="M290.1 244.8L290.1 246.4" fill="none" stroke="#8a8a8a" stroke-width="0.7"/>
<text x="290.1" y="242.7" font-size="6" text-anchor="middle" fill="#222">100</text>
<path d="M324.75 246.4h7.75v0.53h-7.75zM325.21 247.41h7.29v0.53h-7.29zM327.14 247.92h5.36v0.53h-5.36zM327.43 248.94h5.07v0.53h-5.07zM327.85 251.47h4.65v0.53h-4.65zM327.18 252.49h5.32v0.53h-5.32zM327.56 252.99h4.94v0.53h-4.94zM327.31 253.5h5.19v0.53h-5.19zM331.76 255.53h0.74v0.53h-0.74zM331.69 256.55h0.81v0.53h-0.81zM331.55 257.05h0.95v0.53h-0.95zM331.86 257.56h0.64v0.53h-0.64zM331.59 258.07h0.91v0.53h-0.91zM331.65 259.59h0.85v0.53h-0.85zM330.92 261.09h1.58v0.51h-1.58zM331.65 262.08h0.85v0.51h-0.85zM331.25 264.06h1.25v0.51h-1.25zM331 264.55h1.5v0.51h-1.5zM331.44 265.05h1.06v0.51h-1.06zM331.56 265.54h0.94v0.51h-0.94zM331.22 266.04h1.28v0.51h-1.28zM331.6 267.03h0.9v0.51h-0.9zM331.29 267.52h1.21v0.51h-1.21zM331.62 268.51h0.88v0.51h-0.88zM331.36 269.01h1.14v0.51h-1.14zM331.11 269.5h1.39v0.51h-1.39zM331.06 270.98h1.44v0.51h-1.44zM328.54 273.46h3.96v0.51h-3.96zM328.4 274.45h4.1v0.51h-4.1zM327.93 275.44h4.57v0.51h-4.57zM327.87 276.43h4.63v0.51h-4.63zM331.25 278.9h1.25v0.51h-1.25zM331.27 279.39h1.23v0.51h-1.23zM331.34 279.89h1.16v0.51h-1.16zM331.55 280.38h0.95v0.51h-0.95zM331.43 281.37h1.07v0.51h-1.07zM331.56 281.87h0.94v0.51h-0.94zM331.24 282.36h1.26v0.51h-1.26zM331.18 283.35h1.32v0.51h-1.32zM331.19 283.85h1.31v0.51h-1.31zM326.06 284.84h6.44v0.52h-6.44zM325.72 285.84h6.78v0.52h-6.78zM326.3 286.84h6.2v0.52h-6.2zM325.74 287.34h6.76v0.52h-6.76zM326 287.84h6.5v0.52h-6.5zM325.74 288.34h6.76v0.52h-6.76zM326.07 288.84h6.43v0.52h-6.43zM325.81 289.34h6.69v0.52h-6.69zM325.88 289.84h6.62v0.52h-6.62zM326.15 290.34h6.35v0.52h-6.35zM326.21 292.34h6.29v0.52h-6.29zM325.56 292.84h6.94v0.52h-6.94zM325.85 293.34h6.65v0.52h-6.65zM325.88 293.84h6.62v0.52h-6.62zM325.49 294.34h7.01v0.52h-7.01zM329.41 297.33h3.09v0.52h-3.09zM327.19 297.83h5.31v0.52h-5.31zM327.41 298.32h5.09v0.52h-5.09zM326.6 298.82h5.9v0.52h-5.9zM327.12 299.32h5.38v0.52h-5.38zM327.6 300.31h4.9v0.52h-4.9zM327.07 300.81h5.43v0.52h-5.43zM326.8 301.3h5.7v0.52h-5.7zM329.28 303.29h3.22v0.52h-3.22zM328.88 304.29h3.62v0.52h-3.62zM330.11 304.78h2.39v0.51h-2.39zM329.66 305.28h2.84v0.51h-2.84zM329.67 305.77h2.83v0.51h-2.83zM329.78 306.27h2.72v0.51h-2.72zM330.23 306.76h2.27v0.51h-2.27zM329.63 307.26h2.87v0.51h-2.87zM330.16 308.25h2.34v0.51h-2.34zM330 308.74h2.5v0.51h-2.5zM330.12 309.24h2.38v0.51h-2.38zM328.45 311.22h4.05v0.51h-4.05zM327.78 311.71h4.72v0.51h-4.72zM328.13 313.69h4.37v0.51h-4.37zM331.85 317.78h0.65v0.53h-0.65zM331.79 318.81h0.71v0.53h-0.71zM331.62 319.84h0.88v0.53h-0.88zM331.57 320.87h0.93v0.53h-0.93zM331.54 321.9h0.96v0.53h-0.96zM331.65 322.41h0.85v0.53h-0.85zM319.35 322.93h13.15v0.52h-13.15zM317.77 323.43h14.73v0.52h-14.73zM319.39 323.93h13.11v0.52h-13.11zM318.69 324.44h13.81v0.52h-13.81zM327.96 324.94h4.54v0.52h-4.54zM328.4 325.44h4.1v0.52h-4.1zM330.86 326.95h1.64v0.52h-1.64zM330.82 327.45h1.68v0.52h-1.68zM331.36 327.96h1.14v0.52h-1.14zM330.92 328.96h1.58v0.52h-1.58zM331.3 329.97h1.2v0.52h-1.2zM331.38 330.47h1.12v0.52h-1.12zM330.63 330.97h1.87v0.5h-1.87zM330.52 331.94h1.98v0.5h-1.98zM330.79 332.43h1.71v0.5h-1.71zM330.39 333.4h2.11v0.5h-2.11zM330.61 334.37h1.89v0.5h-1.89zM330.75 334.85h1.75v0.5h-1.75zM330.8 335.34h1.7v0.5h-1.7zM330.42 335.82h2.08v0.5h-2.08zM330.54 336.31h1.96v0.5h-1.96zM330.18 336.79h2.32v0.5h-2.32zM330.39 337.28h2.11v0.5h-2.11zM330.53 338.25h1.97v0.5h-1.97zM331.01 338.73h1.49v0.52h-1.49zM331.5 339.23h1v0.52h-1zM331.09 340.22h1.41v0.52h-1.41zM331.26 340.72h1.24v0.52h-1.24zM328.99 341.21h3.51v0.52h-3.51zM328.53 343.2h3.97v0.52h-3.97zM328.68 344.19h3.82v0.52h-3.82zM328.36 345.18h4.14v0.52h-4.14zM330.84 345.68h1.66v0.52h-1.66zM331.52 346.18h0.98v0.51h-0.98zM331.39 346.67h1.11v0.51h-1.11zM331.18 347.17h1.32v0.51h-1.32zM329.67 348.15h2.83v0.51h-2.83zM329.47 351.12h3.03v0.51h-3.03zM329.56 352.11h2.94v0.51h-2.94zM329.86 352.61h2.64v0.51h-2.64zM331.33 354.09h1.17v0.51h-1.17zM331.11 355.07h1.39v0.51h-1.39zM331.51 355.56h0.99v0.51h-0.99zM331.07 356.05h1.43v0.51h-1.43zM331.38 356.54h1.12v0.51h-1.12zM331.19 357.03h1.31v0.51h-1.31zM331.15 357.52h1.35v0.51h-1.35zM331.42 358.99h1.08v0.51h-1.08zM331.4 359.48h1.1v0.51h-1.1zM331.56 359.97h0.94v0.51h-0.94zM331.57 360.46h0.93v0.51h-0.93zM331.62 360.95h0.88v0.51h-0.88zM331.82 361.44h0.68v0.51h-0.68zM330.41 367.28h2.09v0.51h-2.09zM330.45 367.77h2.05v0.51h-2.05zM322.14 369.74h10.36v0.51h-10.36zM322.34 371.21h10.16v0.51h-10.16zM322.34 372.2h10.16v0.51h-10.16zM322.11 373.18h10.39v0.53h-10.39zM321.93 374.2h10.57v0.53h-10.57zM321.83 374.71h10.67v0.53h-10.67zM323.53 375.23h8.97v0.53h-8.97zM323.51 375.74h8.99v0.53h-8.99zM326.55 377.27h5.95v0.53h-5.95zM326.4 378.3h6.1v0.53h-6.1zM331.07 378.81h1.43v0.52h-1.43zM330.95 379.31h1.55v0.52h-1.55zM329.4 379.8h3.1v0.52h-3.1zM329.68 380.8h2.82v0.52h-2.82zM329.96 381.29h2.54v0.52h-2.54zM330.17 381.79h2.33v0.52h-2.33zM330.43 382.29h2.07v0.52h-2.07zM329.61 382.78h2.89v0.52h-2.89zM331.57 383.28h0.93v0.52h-0.93zM328.95 384.77h3.55v0.52h-3.55zM328.48 385.26h4.02v0.52h-4.02zM328.57 387.25h3.93v0.52h-3.93zM331.23 387.74h1.27v0.52h-1.27zM311.22 388.71h21.28v0.5h-21.28zM313 389.67h19.5v0.5h-19.5zM309.62 390.14h22.88v0.5h-22.88zM310.82 390.62h21.68v0.5h-21.68zM317.46 392.05h15.04v0.5h-15.04zM328.79 394.15h3.71v0.56h-3.71zM328.95 394.69h3.55v0.56h-3.55zM328.41 395.24h4.09v0.56h-4.09zM327.17 396.27h5.33v0.51h-5.33zM331.45 396.77h1.05v0.51h-1.05zM331.22 398.25h1.28v0.51h-1.28zM331.67 398.74h0.83v0.51h-0.83zM325.31 399.24h7.19v0.55h-7.19zM325.7 400.3h6.8v0.55h-6.8zM324.48 400.82h8.02v0.55h-8.02zM324.64 401.35h7.86v0.55h-7.86zM325.19 401.88h7.31v0.49h-7.31zM324.83 402.35h7.67v0.49h-7.67zM325.87 404.23h6.63v0.49h-6.63z" fill="#cfe6f6"/>
<path d="M332.5 246.4h0.59v0.53h-0.59zM332.5 249.44h0.65v0.53h-0.65zM332.5 250.46h0.72v0.53h-0.72zM332.5 250.97h0.71v0.53h-0.71zM332.5 253.5h2.62v0.53h-2.62zM332.5 254.01h5.42v0.53h-5.42zM332.5 255.02h5.39v0.53h-5.39zM332.5 255.53h4.9v0.53h-4.9zM332.5 256.04h5.54v0.53h-5.54zM332.5 257.05h5.24v0.53h-5.24zM332.5 258.57h5.46v0.53h-5.46zM332.5 259.08h5.14v0.53h-5.14zM332.5 260.1h1.33v0.51h-1.33zM332.5 261.09h1.02v0.51h-1.02zM332.5 261.58h1.38v0.51h-1.38zM332.5 262.08h1.13v0.51h-1.13zM332.5 263.07h1.05v0.51h-1.05zM332.5 264.06h1.15v0.51h-1.15zM332.5 264.55h0.99v0.51h-0.99zM332.5 265.54h1.36v0.51h-1.36zM332.5 266.53h1.26v0.51h-1.26zM332.5 267.03h1.09v0.51h-1.09zM332.5 268.02h1.71v0.51h-1.71zM332.5 268.51h1.39v0.51h-1.39zM332.5 269.01h1.64v0.51h-1.64zM332.5 269.5h0.98v0.51h-0.98zM332.5 270h1.69v0.51h-1.69zM332.5 270.98h1.37v0.51h-1.37zM332.5 273.95h0.81v0.51h-0.81zM332.5 275.44h0.8v0.51h-0.8zM332.5 275.93h0.92v0.51h-0.92zM332.5 276.43h1.02v0.51h-1.02zM332.5 276.92h0.89v0.51h-0.89zM332.5 277.42h2.21v0.51h-2.21zM332.5 278.9h2.1v0.51h-2.1zM332.5 279.89h2.49v0.51h-2.49zM332.5 280.88h2.23v0.51h-2.23zM332.5 284.34h0.72v0.52h-0.72zM332.5 285.34h0.75v0.52h-0.75zM332.5 286.84h1.07v0.52h-1.07zM332.5 287.84h1.2v0.52h-1.2zM332.5 289.34h0.63v0.52h-0.63zM332.5 290.34h0.67v0.52h-0.67zM332.5 290.84h1.02v0.52h-1.02zM332.5 291.34h0.92v0.52h-0.92zM332.5 292.34h1.17v0.52h-1.17zM332.5 293.84h0.63v0.52h-0.63zM332.5 294.34h0.81v0.52h-0.81zM332.5 294.84h1.39v0.52h-1.39zM332.5 295.34h1.4v0.52h-1.4zM332.5 295.84h4.23v0.52h-4.23zM332.5 296.33h3.59v0.52h-3.59zM332.5 296.83h3.35v0.52h-3.35zM332.5 297.83h0.68v0.52h-0.68zM332.5 298.82h1.07v0.52h-1.07zM332.5 299.32h0.84v0.52h-0.84zM332.5 300.81h0.89v0.52h-0.89zM332.5 301.3h1.43v0.52h-1.43zM332.5 301.8h0.81v0.52h-0.81zM332.5 302.3h1.34v0.52h-1.34zM332.5 303.79h0.78v0.52h-0.78zM332.5 304.29h1.19v0.52h-1.19zM332.5 306.27h1.65v0.51h-1.65zM332.5 306.76h2.7v0.51h-2.7zM332.5 307.75h2.63v0.51h-2.63zM332.5 309.24h1.21v0.51h-1.21zM332.5 309.73h1.13v0.51h-1.13zM332.5 310.23h1.52v0.51h-1.52zM332.5 310.72h1.17v0.51h-1.17zM332.5 311.71h1.51v0.51h-1.51zM332.5 312.21h1.13v0.51h-1.13zM332.5 312.7h1.01v0.51h-1.01zM332.5 314.7h10.11v0.53h-10.11zM332.5 317.78h7.86v0.53h-7.86zM332.5 318.81h8.1v0.53h-8.1zM332.5 320.36h7.95v0.53h-7.95zM332.5 320.87h8v0.53h-8zM332.5 321.38h8.3v0.53h-8.3zM332.5 322.93h0.72v0.52h-0.72zM332.5 323.43h0.7v0.52h-0.7zM332.5 323.93h0.71v0.52h-0.71zM332.5 324.44h2.64v0.52h-2.64zM332.5 324.94h2.7v0.52h-2.7zM332.5 325.44h8.91v0.52h-8.91zM332.5 326.45h9.78v0.52h-9.78zM332.5 326.95h12.54v0.52h-12.54zM332.5 329.97h12.69v0.52h-12.69zM332.5 330.47h12.7v0.52h-12.7zM332.5 331.94h3.04v0.5h-3.04zM332.5 332.91h2.83v0.5h-2.83zM332.5 333.4h0.97v0.5h-0.97zM332.5 333.88h1.63v0.5h-1.63zM332.5 334.37h3.01v0.5h-3.01zM332.5 334.85h2.62v0.5h-2.62zM332.5 335.34h2.78v0.5h-2.78zM332.5 335.82h2.75v0.5h-2.75zM332.5 336.31h2.8v0.5h-2.8zM332.5 336.79h2.52v0.5h-2.52zM332.5 337.76h2.48v0.5h-2.48zM332.5 338.25h1.05v0.5h-1.05zM332.5 338.73h1.02v0.52h-1.02zM332.5 340.22h1.54v0.52h-1.54zM332.5 340.72h1.07v0.52h-1.07zM332.5 341.21h1.49v0.52h-1.49zM332.5 341.71h1.49v0.52h-1.49zM332.5 342.21h1.12v0.52h-1.12zM332.5 342.7h1.48v0.52h-1.48zM332.5 344.69h1.63v0.52h-1.63zM332.5 348.15h1.12v0.51h-1.12zM332.5 349.64h1.34v0.51h-1.34zM332.5 350.13h1.18v0.51h-1.18zM332.5 350.63h1.3v0.51h-1.3zM332.5 351.12h0.8v0.51h-0.8zM332.5 351.62h0.89v0.51h-0.89zM332.5 352.11h1.09v0.51h-1.09zM332.5 353.1h1.39v0.51h-1.39zM332.5 354.58h5.48v0.51h-5.48zM332.5 355.07h5.43v0.51h-5.43zM332.5 357.03h3.29v0.51h-3.29zM332.5 358.5h3.05v0.51h-3.05zM332.5 359.48h3.21v0.51h-3.21zM332.5 359.97h3.51v0.51h-3.51zM332.5 361.44h1.41v0.51h-1.41zM332.5 361.93h15.73v0.51h-15.73zM332.5 362.41h15.5v0.51h-15.5zM332.5 362.9h15.81v0.51h-15.81zM332.5 363.87h15.32v0.51h-15.32zM332.5 366.8h15.72v0.51h-15.72zM332.5 362.45h15.67v0.8h-15.67zM332.5 367.77h1.02v0.51h-1.02zM332.5 369.74h0.72v0.51h-0.72zM332.5 373.69h1.52v0.53h-1.52zM332.5 374.2h0.8v0.53h-0.8zM332.5 375.23h0.99v0.53h-0.99zM332.5 375.74h0.99v0.53h-0.99zM332.5 377.27h1v0.53h-1zM332.5 378.81h4.42v0.52h-4.42zM332.5 379.31h4.64v0.52h-4.64zM332.5 380.3h4.62v0.52h-4.62zM332.5 380.8h4.02v0.52h-4.02zM332.5 381.29h4.18v0.52h-4.18zM332.5 381.79h4.65v0.52h-4.65zM332.5 382.29h4.82v0.52h-4.82zM332.5 384.27h1.38v0.52h-1.38zM332.5 384.77h4.6v0.52h-4.6zM332.5 385.26h4.4v0.52h-4.4zM332.5 385.76h4.51v0.52h-4.51zM332.5 386.25h4.15v0.52h-4.15zM332.5 386.75h5.29v0.52h-5.29zM332.5 387.25h1.38v0.52h-1.38zM332.5 387.74h1.4v0.52h-1.4zM332.5 389.19h0.71v0.5h-0.71zM332.5 392.53h0.95v0.56h-0.95zM332.5 393.07h3.19v0.56h-3.19zM332.5 393.61h3.66v0.56h-3.66zM332.5 394.15h3.37v0.56h-3.37zM332.5 395.24h0.7v0.56h-0.7zM332.5 395.78h12.47v0.51h-12.47zM332.5 397.75h22.32v0.51h-22.32zM332.5 398.74h24.98v0.51h-24.98zM332.5 399.77h0.85v0.55h-0.85zM332.5 400.3h0.81v0.55h-0.81zM332.5 400.82h0.75v0.55h-0.75zM332.5 401.88h0.77v0.49h-0.77zM332.5 402.82h0.66v0.49h-0.66zM332.5 403.76h0.67v0.49h-0.67zM332.5 404.23h0.79v0.49h-0.79z" fill="#f7c4c4"/>
<path d="M325.97 246.4h6.53v0.53h-6.53zM326.03 246.91h6.47v0.53h-6.47zM326.19 247.41h6.31v0.53h-6.31zM327.97 247.92h4.53v0.53h-4.53zM328.56 248.43h3.94v0.53h-3.94zM328.22 248.94h4.28v0.53h-4.28zM327.95 249.44h4.55v0.53h-4.55zM328.51 249.95h3.99v0.53h-3.99zM328.19 250.46h4.31v0.53h-4.31zM328.15 250.97h4.35v0.53h-4.35zM328.54 251.47h3.96v0.53h-3.96zM328.31 251.98h4.19v0.53h-4.19zM328.09 252.49h4.41v0.53h-4.41zM328.26 252.99h4.24v0.53h-4.24zM328.07 253.5h4.43v0.53h-4.43zM332.39 254.52h0.11v0.53h-0.11zM332.21 255.53h0.29v0.53h-0.29zM331.93 256.04h0.57v0.53h-0.57zM332.15 256.55h0.35v0.53h-0.35zM332.03 257.05h0.47v0.53h-0.47zM332.29 257.56h0.21v0.53h-0.21zM332.05 258.07h0.45v0.53h-0.45zM332.36 259.08h0.14v0.53h-0.14zM332.1 259.59h0.4v0.53h-0.4zM332.01 260.1h0.49v0.51h-0.49zM331.48 260.59h1.02v0.51h-1.02zM331.45 261.09h1.05v0.51h-1.05zM331.71 261.58h0.79v0.51h-0.79zM332.12 262.08h0.38v0.51h-0.38zM332.09 262.57h0.41v0.51h-0.41zM331.99 263.07h0.51v0.51h-0.51zM331.86 263.56h0.64v0.51h-0.64zM331.71 264.06h0.79v0.51h-0.79zM331.47 264.55h1.03v0.51h-1.03zM331.89 265.05h0.61v0.51h-0.61zM332.03 265.54h0.47v0.51h-0.47zM331.75 266.04h0.75v0.51h-0.75zM332.04 266.53h0.46v0.51h-0.46zM332.07 267.03h0.43v0.51h-0.43zM331.75 267.52h0.75v0.51h-0.75zM331.65 268.02h0.85v0.51h-0.85zM332.08 268.51h0.42v0.51h-0.42zM331.82 269.01h0.68v0.51h-0.68zM331.65 269.5h0.85v0.51h-0.85zM331.61 270h0.89v0.51h-0.89zM331.87 270.49h0.63v0.51h-0.63zM331.52 270.98h0.98v0.51h-0.98zM332.01 271.48h0.49v0.51h-0.49zM331.64 271.97h0.86v0.51h-0.86zM331.6 272.47h0.9v0.51h-0.9zM331.53 272.96h0.97v0.51h-0.97zM329.07 273.46h3.43v0.51h-3.43zM328.92 273.95h3.58v0.51h-3.58zM328.97 274.45h3.53v0.51h-3.53zM328.72 274.94h3.78v0.51h-3.78zM328.8 275.44h3.7v0.51h-3.7zM328.9 275.93h3.6v0.51h-3.6zM328.56 276.43h3.94v0.51h-3.94zM328.86 276.92h3.64v0.51h-3.64zM331.99 277.42h0.51v0.51h-0.51zM331.94 277.91h0.56v0.51h-0.56zM331.81 278.41h0.69v0.51h-0.69zM331.71 278.9h0.79v0.51h-0.79zM331.74 279.39h0.76v0.51h-0.76zM331.83 279.89h0.67v0.51h-0.67zM332 280.38h0.5v0.51h-0.5zM331.85 280.88h0.65v0.51h-0.65zM331.91 281.37h0.59v0.51h-0.59zM332.01 281.87h0.49v0.51h-0.49zM331.76 282.36h0.74v0.51h-0.74zM332 282.86h0.5v0.51h-0.5zM331.64 283.35h0.86v0.51h-0.86zM331.68 283.85h0.82v0.51h-0.82zM326.48 284.34h6.02v0.52h-6.02zM326.76 284.84h5.74v0.52h-5.74zM326.51 285.34h5.99v0.52h-5.99zM326.48 285.84h6.02v0.52h-6.02zM327.08 286.34h5.42v0.52h-5.42zM326.9 286.84h5.6v0.52h-5.6zM326.53 287.34h5.97v0.52h-5.97zM326.62 287.84h5.88v0.52h-5.88zM326.48 288.34h6.02v0.52h-6.02zM327.01 288.84h5.49v0.52h-5.49zM326.78 289.34h5.72v0.52h-5.72zM326.5 289.84h6v0.52h-6zM326.77 290.34h5.73v0.52h-5.73zM326.68 290.84h5.82v0.52h-5.82zM326.48 291.34h6.02v0.52h-6.02zM327.02 291.84h5.48v0.52h-5.48zM327.1 292.34h5.4v0.52h-5.4zM326.56 292.84h5.94v0.52h-5.94zM326.74 293.34h5.76v0.52h-5.76zM327 293.84h5.5v0.52h-5.5zM326.57 294.34h5.93v0.52h-5.93zM330.21 294.84h2.29v0.52h-2.29zM329.67 295.34h2.83v0.52h-2.83zM329.72 295.84h2.78v0.52h-2.78zM329.81 296.33h2.69v0.52h-2.69zM330.12 296.83h2.38v0.52h-2.38zM330.1 297.33h2.4v0.52h-2.4zM327.97 297.83h4.53v0.52h-4.53zM328.24 298.32h4.26v0.52h-4.26zM327.63 298.82h4.87v0.52h-4.87zM328 299.32h4.5v0.52h-4.5zM327.63 299.81h4.87v0.52h-4.87zM328.16 300.31h4.34v0.52h-4.34zM327.84 300.81h4.66v0.52h-4.66zM327.74 301.3h4.76v0.52h-4.76zM327.84 301.8h4.66v0.52h-4.66zM327.99 302.3h4.51v0.52h-4.51zM328.27 302.8h4.23v0.52h-4.23zM329.98 303.29h2.52v0.52h-2.52zM330.01 303.79h2.49v0.52h-2.49zM329.63 304.29h2.87v0.52h-2.87zM330.7 304.78h1.8v0.51h-1.8zM330.28 305.28h2.22v0.51h-2.22zM330.24 305.77h2.26v0.51h-2.26zM330.45 306.27h2.05v0.51h-2.05zM330.79 306.76h1.71v0.51h-1.71zM330.32 307.26h2.18v0.51h-2.18zM330.25 307.75h2.25v0.51h-2.25zM330.65 308.25h1.85v0.51h-1.85zM330.52 308.74h1.98v0.51h-1.98zM330.65 309.24h1.85v0.51h-1.85zM330.81 309.73h1.69v0.51h-1.69zM330.35 310.23h2.15v0.51h-2.15zM330.74 310.72h1.76v0.51h-1.76zM329.08 311.22h3.42v0.51h-3.42zM328.51 311.71h3.99v0.51h-3.99zM329.07 312.21h3.43v0.51h-3.43zM328.62 312.7h3.88v0.51h-3.88zM328.58 313.2h3.92v0.51h-3.92zM328.97 313.69h3.53v0.51h-3.53zM332.37 314.19h0.13v0.53h-0.13zM332.33 315.21h0.17v0.53h-0.17zM332.4 316.24h0.1v0.53h-0.1zM332.28 317.78h0.22v0.53h-0.22zM332.23 318.81h0.27v0.53h-0.27zM331.98 319.33h0.52v0.53h-0.52zM332.07 319.84h0.43v0.53h-0.43zM332.06 320.87h0.44v0.53h-0.44zM332.01 321.9h0.49v0.53h-0.49zM332.12 322.41h0.38v0.53h-0.38zM320.21 322.93h12.29v0.52h-12.29zM319.74 323.43h12.76v0.52h-12.76zM320.25 323.93h12.25v0.52h-12.25zM320.13 324.44h12.37v0.52h-12.37zM328.57 324.94h3.93v0.52h-3.93zM329.06 325.44h3.44v0.52h-3.44zM331.8 325.94h0.7v0.52h-0.7zM331.7 326.45h0.8v0.52h-0.8zM331.34 326.95h1.16v0.52h-1.16zM331.32 327.45h1.18v0.52h-1.18zM331.84 327.96h0.66v0.52h-0.66zM331.55 328.46h0.95v0.52h-0.95zM331.42 328.96h1.08v0.52h-1.08zM331.64 329.46h0.86v0.52h-0.86zM331.77 329.97h0.73v0.52h-0.73zM331.88 330.47h0.62v0.52h-0.62zM331.2 330.97h1.3v0.5h-1.3zM331.01 331.46h1.49v0.5h-1.49zM331.04 331.94h1.46v0.5h-1.46zM331.29 332.43h1.21v0.5h-1.21zM331.38 332.91h1.12v0.5h-1.12zM330.9 333.4h1.6v0.5h-1.6zM330.85 333.88h1.65v0.5h-1.65zM331.19 334.37h1.31v0.5h-1.31zM331.28 334.85h1.22v0.5h-1.22zM331.35 335.34h1.15v0.5h-1.15zM330.99 335.82h1.51v0.5h-1.51zM331.02 336.31h1.48v0.5h-1.48zM330.78 336.79h1.72v0.5h-1.72zM330.95 337.28h1.55v0.5h-1.55zM331.02 337.76h1.48v0.5h-1.48zM331.01 338.25h1.49v0.5h-1.49zM331.46 338.73h1.04v0.52h-1.04zM331.97 339.23h0.53v0.52h-0.53zM331.85 339.72h0.65v0.52h-0.65zM331.63 340.22h0.87v0.52h-0.87zM331.76 340.72h0.74v0.52h-0.74zM329.65 341.21h2.85v0.52h-2.85zM329.51 341.71h2.99v0.52h-2.99zM329.69 342.21h2.81v0.52h-2.81zM329.7 342.7h2.8v0.52h-2.8zM329.13 343.2h3.37v0.52h-3.37zM329.49 343.69h3.01v0.52h-3.01zM329.22 344.19h3.28v0.52h-3.28zM329.54 344.69h2.96v0.52h-2.96zM329.2 345.18h3.3v0.52h-3.3zM331.38 345.68h1.12v0.52h-1.12zM331.97 346.18h0.53v0.51h-0.53zM331.87 346.67h0.63v0.51h-0.63zM331.63 347.17h0.87v0.51h-0.87zM330.1 347.66h2.4v0.51h-2.4zM330.24 348.15h2.26v0.51h-2.26zM329.9 348.65h2.6v0.51h-2.6zM330.13 349.14h2.37v0.51h-2.37zM330.03 349.64h2.47v0.51h-2.47zM330.18 350.13h2.32v0.51h-2.32zM330.04 350.63h2.46v0.51h-2.46zM330.03 351.12h2.47v0.51h-2.47zM330.22 351.62h2.28v0.51h-2.28zM330.24 352.11h2.26v0.51h-2.26zM330.43 352.61h2.07v0.51h-2.07zM331.54 353.1h0.96v0.51h-0.96zM331.86 353.59h0.64v0.51h-0.64zM331.81 354.09h0.69v0.51h-0.69zM332.09 354.58h0.41v0.51h-0.41zM331.64 355.07h0.86v0.51h-0.86zM331.98 355.56h0.52v0.51h-0.52zM331.59 356.05h0.91v0.51h-0.91zM331.88 356.54h0.62v0.51h-0.62zM331.64 357.03h0.86v0.51h-0.86zM331.64 357.52h0.86v0.51h-0.86zM332.08 358.01h0.42v0.51h-0.42zM332.25 358.5h0.25v0.51h-0.25zM331.88 358.99h0.62v0.51h-0.62zM331.88 359.48h0.62v0.51h-0.62zM332.04 359.97h0.46v0.51h-0.46zM332.03 360.46h0.47v0.51h-0.47zM332.08 360.95h0.42v0.51h-0.42zM332.27 361.44h0.23v0.51h-0.23zM332.16 361.93h0.34v0.51h-0.34zM332.33 363.87h0.17v0.51h-0.17zM332.38 365.33h0.12v0.51h-0.12zM332.41 366.8h0.09v0.51h-0.09zM331.17 367.28h1.33v0.51h-1.33zM330.94 367.77h1.56v0.51h-1.56zM323.69 368.27h8.81v0.51h-8.81zM324.08 368.76h8.42v0.51h-8.42zM323.79 369.25h8.71v0.51h-8.71zM324.22 369.74h8.28v0.51h-8.28zM324.23 370.23h8.27v0.51h-8.27zM324.16 370.72h8.34v0.51h-8.34zM324.09 371.21h8.41v0.51h-8.41zM324 371.7h8.5v0.51h-8.5zM324.03 372.2h8.47v0.51h-8.47zM323.67 372.69h8.83v0.51h-8.83zM324.82 373.18h7.68v0.53h-7.68zM324.3 373.69h8.2v0.53h-8.2zM324.25 374.2h8.25v0.53h-8.25zM324.42 374.71h8.08v0.53h-8.08zM324.78 375.23h7.72v0.53h-7.72zM324.48 375.74h8.02v0.53h-8.02zM324.76 376.25h7.74v0.53h-7.74zM327.1 376.76h5.4v0.53h-5.4zM327.54 377.27h4.96v0.53h-4.96zM327.68 377.79h4.82v0.53h-4.82zM327.4 378.3h5.1v0.53h-5.1zM331.64 378.81h0.86v0.52h-0.86zM331.61 379.31h0.89v0.52h-0.89zM330.46 379.8h2.04v0.52h-2.04zM330.59 380.3h1.91v0.52h-1.91zM330.56 380.8h1.94v0.52h-1.94zM330.81 381.29h1.69v0.52h-1.69zM330.66 381.79h1.84v0.52h-1.84zM330.99 382.29h1.51v0.52h-1.51zM330.45 382.78h2.05v0.52h-2.05zM332.11 383.28h0.39v0.52h-0.39zM331.49 383.78h1.01v0.52h-1.01zM317.68 384.27h14.82v0.52h-14.82zM329.88 384.77h2.62v0.52h-2.62zM329.72 385.26h2.78v0.52h-2.78zM329.62 385.76h2.88v0.52h-2.88zM329.63 386.25h2.87v0.52h-2.87zM329.32 386.75h3.18v0.52h-3.18zM329.83 387.25h2.67v0.52h-2.67zM331.8 387.74h0.7v0.52h-0.7zM324.04 388.24h8.46v0.5h-8.46zM315.39 388.71h17.11v0.5h-17.11zM314.81 389.19h17.69v0.5h-17.69zM315.1 389.67h17.4v0.5h-17.4zM315.21 390.14h17.29v0.5h-17.29zM315.21 390.62h17.29v0.5h-17.29zM315.38 391.1h17.12v0.5h-17.12zM315.04 391.58h17.46v0.5h-17.46zM319.56 392.05h12.94v0.5h-12.94zM329.35 392.53h3.15v0.56h-3.15zM329.98 393.07h2.52v0.56h-2.52zM329.66 393.61h2.84v0.56h-2.84zM329.74 394.15h2.76v0.56h-2.76zM329.87 394.69h2.63v0.56h-2.63zM329.61 395.24h2.89v0.56h-2.89zM328.15 395.78h4.35v0.51h-4.35zM328.17 396.27h4.33v0.51h-4.33zM332.03 396.77h0.47v0.51h-0.47zM331.94 397.26h0.56v0.51h-0.56zM331.63 397.75h0.87v0.51h-0.87zM331.8 398.25h0.7v0.51h-0.7zM332.16 398.74h0.34v0.51h-0.34zM326.53 399.24h5.97v0.55h-5.97zM326.65 399.77h5.85v0.55h-5.85zM326.81 400.3h5.69v0.55h-5.69zM326.52 400.82h5.98v0.55h-5.98zM326.84 401.35h5.66v0.55h-5.66zM326.86 401.88h5.64v0.49h-5.64zM326.93 402.35h5.57v0.49h-5.57zM327.09 402.82h5.41v0.49h-5.41zM326.6 403.29h5.9v0.49h-5.9zM326.61 403.76h5.89v0.49h-5.89zM327.13 404.23h5.37v0.49h-5.37z" fill="#74b6e6"/>
<path d="M332.5 246.4h0.15v0.53h-0.15zM332.5 249.44h0.21v0.53h-0.21zM332.5 250.46h0.26v0.53h-0.26zM332.5 250.97h0.26v0.53h-0.26zM332.5 252.99h1.67v0.53h-1.67zM332.5 253.5h1.94v0.53h-1.94zM332.5 254.01h4.84v0.53h-4.84zM332.5 254.52h4.29v0.53h-4.29zM332.5 255.02h4.63v0.53h-4.63zM332.5 255.53h4.3v0.53h-4.3zM332.5 256.04h4.61v0.53h-4.61zM332.5 256.55h4.83v0.53h-4.83zM332.5 257.05h4.36v0.53h-4.36zM332.5 257.56h4.22v0.53h-4.22zM332.5 258.07h4.28v0.53h-4.28zM332.5 258.57h4.59v0.53h-4.59zM332.5 259.08h4.23v0.53h-4.23zM332.5 259.59h4.28v0.53h-4.28zM332.5 260.1h0.85v0.51h-0.85zM332.5 260.59h0.58v0.51h-0.58zM332.5 261.09h0.55v0.51h-0.55zM332.5 261.58h0.87v0.51h-0.87zM332.5 262.08h0.63v0.51h-0.63zM332.5 262.57h0.94v0.51h-0.94zM332.5 263.07h0.57v0.51h-0.57zM332.5 263.56h1.05v0.51h-1.05zM332.5 264.06h0.67v0.51h-0.67zM332.5 264.55h0.52v0.51h-0.52zM332.5 265.05h0.63v0.51h-0.63zM332.5 265.54h0.83v0.51h-0.83zM332.5 266.04h0.9v0.51h-0.9zM332.5 266.53h0.78v0.51h-0.78zM332.5 267.03h0.63v0.51h-0.63zM332.5 267.52h0.84v0.51h-0.84zM332.5 268.02h1.16v0.51h-1.16zM332.5 268.51h0.88v0.51h-0.88zM332.5 269.01h1.16v0.51h-1.16zM332.5 269.5h0.53v0.51h-0.53zM332.5 270h1.19v0.51h-1.19zM332.5 270.49h1.12v0.51h-1.12zM332.5 270.98h0.89v0.51h-0.89zM332.5 271.48h0.87v0.51h-0.87zM332.5 271.97h0.88v0.51h-0.88zM332.5 272.47h1.14v0.51h-1.14zM332.5 272.96h0.56v0.51h-0.56zM332.5 273.95h0.37v0.51h-0.37zM332.5 274.45h0.17v0.51h-0.17zM332.5 274.94h0.25v0.51h-0.25zM332.5 275.44h0.36v0.51h-0.36zM332.5 275.93h0.46v0.51h-0.46zM332.5 276.43h0.55v0.51h-0.55zM332.5 276.92h0.44v0.51h-0.44zM332.5 277.42h1.65v0.51h-1.65zM332.5 277.91h1.88v0.51h-1.88zM332.5 278.41h1.74v0.51h-1.74zM332.5 278.9h1.52v0.51h-1.52zM332.5 279.39h1.89v0.51h-1.89zM332.5 279.89h1.83v0.51h-1.83zM332.5 280.38h2.1v0.51h-2.1zM332.5 280.88h1.73v0.51h-1.73zM332.5 281.37h2.08v0.51h-2.08zM332.5 281.87h1.86v0.51h-1.86zM332.5 282.36h1.58v0.51h-1.58zM332.5 282.86h2v0.51h-2zM332.5 283.35h1.71v0.51h-1.71zM332.5 283.85h1.88v0.51h-1.88zM332.5 284.34h0.28v0.52h-0.28zM332.5 284.84h0.17v0.52h-0.17zM332.5 285.34h0.29v0.52h-0.29zM332.5 285.84h0.11v0.52h-0.11zM332.5 286.34h0.36v0.52h-0.36zM332.5 286.84h0.62v0.52h-0.62zM332.5 287.34h0.4v0.52h-0.4zM332.5 287.84h0.75v0.52h-0.75zM332.5 288.34h0.11v0.52h-0.11zM332.5 288.84h0.2v0.52h-0.2zM332.5 289.34h0.18v0.52h-0.18zM332.5 289.84h0.48v0.52h-0.48zM332.5 290.34h0.22v0.52h-0.22zM332.5 290.84h0.54v0.52h-0.54zM332.5 291.34h0.44v0.52h-0.44zM332.5 291.84h0.48v0.52h-0.48zM332.5 292.34h0.66v0.52h-0.66zM332.5 292.84h0.63v0.52h-0.63zM332.5 293.34h0.72v0.52h-0.72zM332.5 293.84h0.19v0.52h-0.19zM332.5 294.34h0.34v0.52h-0.34zM332.5 294.84h0.89v0.52h-0.89zM332.5 295.34h0.88v0.52h-0.88zM332.5 295.84h3.46v0.52h-3.46zM332.5 296.33h2.91v0.52h-2.91zM332.5 296.83h2.81v0.52h-2.81zM332.5 297.33h0.43v0.52h-0.43zM332.5 297.83h0.23v0.52h-0.23zM332.5 298.32h0.31v0.52h-0.31zM332.5 298.82h0.62v0.52h-0.62zM332.5 299.32h0.37v0.52h-0.37zM332.5 299.81h0.65v0.52h-0.65zM332.5 300.31h0.49v0.52h-0.49zM332.5 300.81h0.42v0.52h-0.42zM332.5 301.3h0.89v0.52h-0.89zM332.5 301.8h0.36v0.52h-0.36zM332.5 302.3h0.83v0.52h-0.83zM332.5 302.8h0.59v0.52h-0.59zM332.5 303.29h0.68v0.52h-0.68zM332.5 303.79h0.33v0.52h-0.33zM332.5 304.29h0.74v0.52h-0.74zM332.5 304.78h0.77v0.51h-0.77zM332.5 305.28h0.67v0.51h-0.67zM332.5 305.77h1v0.51h-1zM332.5 306.27h1.18v0.51h-1.18zM332.5 306.76h2.16v0.51h-2.16zM332.5 307.26h1.99v0.51h-1.99zM332.5 307.75h2.02v0.51h-2.02zM332.5 308.25h1.93v0.51h-1.93zM332.5 308.74h1v0.51h-1zM332.5 309.24h0.7v0.51h-0.7zM332.5 309.73h0.68v0.51h-0.68zM332.5 310.23h0.99v0.51h-0.99zM332.5 310.72h0.69v0.51h-0.69zM332.5 311.22h1.19v0.51h-1.19zM332.5 311.71h1.01v0.51h-1.01zM332.5 312.21h0.64v0.51h-0.64zM332.5 312.7h0.53v0.51h-0.53zM332.5 313.2h0.92v0.51h-0.92zM332.5 313.69h0.6v0.51h-0.6zM332.5 314.19h9.44v0.53h-9.44zM332.5 314.7h9.36v0.53h-9.36zM332.5 315.21h9.73v0.53h-9.73zM332.5 315.73h9.21v0.53h-9.21zM332.5 316.24h9.68v0.53h-9.68zM332.5 316.76h9.2v0.53h-9.2zM332.5 317.27h9.13v0.53h-9.13zM332.5 317.78h6.93v0.53h-6.93zM332.5 318.3h6.81v0.53h-6.81zM332.5 318.81h7.35v0.53h-7.35zM332.5 319.33h6.91v0.53h-6.91zM332.5 319.84h7.18v0.53h-7.18zM332.5 320.36h6.97v0.53h-6.97zM332.5 320.87h7.03v0.53h-7.03zM332.5 321.38h7.32v0.53h-7.32zM332.5 321.9h7.16v0.53h-7.16zM332.5 322.41h6.97v0.53h-6.97zM332.5 322.93h0.28v0.52h-0.28zM332.5 323.43h0.26v0.52h-0.26zM332.5 323.93h0.26v0.52h-0.26zM332.5 324.44h2.15v0.52h-2.15zM332.5 324.94h2.06v0.52h-2.06zM332.5 325.44h7.68v0.52h-7.68zM332.5 325.94h8.28v0.52h-8.28zM332.5 326.45h8.31v0.52h-8.31zM332.5 326.95h11.34v0.52h-11.34zM332.5 327.45h11.31v0.52h-11.31zM332.5 327.96h11.66v0.52h-11.66zM332.5 328.46h11.51v0.52h-11.51zM332.5 328.96h11.57v0.52h-11.57zM332.5 329.46h11.18v0.52h-11.18zM332.5 329.97h11.56v0.52h-11.56zM332.5 330.47h11.36v0.52h-11.36zM332.5 330.97h2.84v0.5h-2.84zM332.5 331.46h2.85v0.5h-2.85zM332.5 331.94h2.34v0.5h-2.34zM332.5 332.43h2.31v0.5h-2.31zM332.5 332.91h2.31v0.5h-2.31zM332.5 333.4h0.52v0.5h-0.52zM332.5 333.88h1.1v0.5h-1.1zM332.5 334.37h2.31v0.5h-2.31zM332.5 334.85h2v0.5h-2zM332.5 335.34h2.17v0.5h-2.17zM332.5 335.82h2.11v0.5h-2.11zM332.5 336.31h2.1v0.5h-2.1zM332.5 336.79h1.92v0.5h-1.92zM332.5 337.28h2.31v0.5h-2.31zM332.5 337.76h1.86v0.5h-1.86zM332.5 338.25h0.58v0.5h-0.58zM332.5 338.73h0.53v0.52h-0.53zM332.5 339.23h0.93v0.52h-0.93zM332.5 339.72h1.13v0.52h-1.13zM332.5 340.22h1.04v0.52h-1.04zM332.5 340.72h0.6v0.52h-0.6zM332.5 341.21h1.01v0.52h-1.01zM332.5 341.71h1.03v0.52h-1.03zM332.5 342.21h0.62v0.52h-0.62zM332.5 342.7h0.96v0.52h-0.96zM332.5 343.2h0.94v0.52h-0.94zM332.5 343.69h0.65v0.52h-0.65zM332.5 344.19h1.07v0.52h-1.07zM332.5 344.69h1.1v0.52h-1.1zM332.5 345.18h0.56v0.52h-0.56zM332.5 345.68h0.84v0.52h-0.84zM332.5 346.18h0.73v0.51h-0.73zM332.5 346.67h0.51v0.51h-0.51zM332.5 347.17h0.27v0.51h-0.27zM332.5 347.66h0.71v0.51h-0.71zM332.5 348.15h0.67v0.51h-0.67zM332.5 348.65h0.67v0.51h-0.67zM332.5 349.14h0.33v0.51h-0.33zM332.5 349.64h0.83v0.51h-0.83zM332.5 350.13h0.73v0.51h-0.73zM332.5 350.63h0.78v0.51h-0.78zM332.5 351.12h0.33v0.51h-0.33zM332.5 351.62h0.41v0.51h-0.41zM332.5 352.11h0.59v0.51h-0.59zM332.5 352.61h0.23v0.51h-0.23zM332.5 353.1h0.89v0.51h-0.89zM332.5 353.59h4.41v0.51h-4.41zM332.5 354.09h4.28v0.51h-4.28zM332.5 354.58h4.53v0.51h-4.53zM332.5 355.07h4.58v0.51h-4.58zM332.5 355.56h4.52v0.51h-4.52zM332.5 356.05h4.8v0.51h-4.8zM332.5 356.54h4.52v0.51h-4.52zM332.5 357.03h2.74v0.51h-2.74zM332.5 357.52h2.74v0.51h-2.74zM332.5 358.01h2.57v0.51h-2.57zM332.5 358.5h2.54v0.51h-2.54zM332.5 358.99h2.38v0.51h-2.38zM332.5 359.48h2.69v0.51h-2.69zM332.5 359.97h2.82v0.51h-2.82zM332.5 360.46h2.89v0.51h-2.89zM332.5 360.95h1.14v0.51h-1.14zM332.5 361.44h0.9v0.51h-0.9zM332.5 361.93h14.08v0.51h-14.08zM332.5 362.41h14.31v0.51h-14.31zM332.5 362.9h14.06v0.51h-14.06zM332.5 363.39h14.27v0.51h-14.27zM332.5 363.87h14.1v0.51h-14.1zM332.5 364.36h14.18v0.51h-14.18zM332.5 364.85h14.04v0.51h-14.04zM332.5 365.33h14.31v0.51h-14.31zM332.5 365.82h14v0.51h-14zM332.5 366.31h13.85v0.51h-13.85zM332.5 366.8h14.07v0.51h-14.07zM332.5 367.77h0.54v0.51h-0.54zM332.5 368.27h0.11v0.51h-0.11zM332.5 368.76h0.15v0.51h-0.15zM332.5 369.25h0.26v0.51h-0.26zM332.5 369.74h0.25v0.51h-0.25zM332.5 370.23h0.33v0.51h-0.33zM332.5 371.21h0.35v0.51h-0.35zM332.5 372.69h0.14v0.51h-0.14zM332.5 373.18h0.39v0.53h-0.39zM332.5 373.69h0.82v0.53h-0.82zM332.5 374.2h0.35v0.53h-0.35zM332.5 374.71h0.31v0.53h-0.31zM332.5 375.23h0.48v0.53h-0.48zM332.5 375.74h0.53v0.53h-0.53zM332.5 376.25h0.6v0.53h-0.6zM332.5 376.76h0.89v0.53h-0.89zM332.5 377.27h0.5v0.53h-0.5zM332.5 377.79h0.83v0.53h-0.83zM332.5 378.3h0.32v0.53h-0.32zM332.5 378.81h3.6v0.52h-3.6zM332.5 379.31h3.62v0.52h-3.62zM332.5 379.8h3.68v0.52h-3.68zM332.5 380.3h3.33v0.52h-3.33zM332.5 380.8h3.41v0.52h-3.41zM332.5 381.29h3.09v0.52h-3.09zM332.5 381.79h3.68v0.52h-3.68zM332.5 382.29h3.47v0.52h-3.47zM332.5 382.78h3.17v0.52h-3.17zM332.5 383.28h0.75v0.52h-0.75zM332.5 383.78h0.76v0.52h-0.76zM332.5 384.27h0.77v0.52h-0.77zM332.5 384.77h3.3v0.52h-3.3zM332.5 385.26h3.11v0.52h-3.11zM332.5 385.76h3.42v0.52h-3.42zM332.5 386.25h3.46v0.52h-3.46zM332.5 386.75h3.66v0.52h-3.66zM332.5 387.25h0.91v0.52h-0.91zM332.5 387.74h0.88v0.52h-0.88zM332.5 388.24h0.17v0.5h-0.17zM332.5 388.71h0.25v0.5h-0.25zM332.5 389.19h0.25v0.5h-0.25zM332.5 391.1h0.13v0.5h-0.13zM332.5 391.58h0.1v0.5h-0.1zM332.5 392.53h0.44v0.56h-0.44zM332.5 393.07h2.13v0.56h-2.13zM332.5 393.61h2.5v0.56h-2.5zM332.5 394.15h2.42v0.56h-2.42zM332.5 394.69h0.83v0.56h-0.83zM332.5 395.24h0.23v0.56h-0.23zM332.5 395.78h10.37v0.51h-10.37zM332.5 396.27h10.83v0.51h-10.83zM332.5 396.77h19.91v0.51h-19.91zM332.5 397.26h20.53v0.51h-20.53zM332.5 397.75h20.44v0.51h-20.44zM332.5 398.25h20.48v0.51h-20.48zM332.5 398.74h20.02v0.51h-20.02zM332.5 399.24h0.45v0.55h-0.45zM332.5 399.77h0.36v0.55h-0.36zM332.5 400.3h0.3v0.55h-0.3zM332.5 400.82h0.26v0.55h-0.26zM332.5 401.88h0.29v0.49h-0.29zM332.5 402.35h0.42v0.49h-0.42zM332.5 402.82h0.19v0.49h-0.19zM332.5 403.76h0.2v0.49h-0.2zM332.5 404.23h0.35v0.49h-0.35z" fill="#ec5f5f"/>
<path d="M301.7 260.1L363.5 260.1M301.7 273.46L363.5 273.46M301.7 284.34L363.5 284.34M301.7 294.84L363.5 294.84M301.7 304.78L363.5 304.78M301.7 314.19L363.5 314.19M301.7 322.93L363.5 322.93M301.7 330.97L363.5 330.97M301.7 338.73L363.5 338.73M301.7 346.18L363.5 346.18M301.7 353.59L363.5 353.59M301.7 360.95L363.5 360.95M301.7 367.28L363.5 367.28M301.7 373.18L363.5 373.18M301.7 378.81L363.5 378.81M301.7 383.78L363.5 383.78M301.7 388.24L363.5 388.24M301.7 392.53L363.5 392.53M301.7 395.78L363.5 395.78M301.7 399.24L363.5 399.24M301.7 401.88L363.5 401.88" fill="none" stroke="#333" stroke-width="0.8"/>
<path d="M332.5 246.4L332.5 404.7" fill="none" stroke="#222" stroke-width="0.9"/>
<path d="M301.7 246.4h61.8v158.3h-61.8z" fill="none" stroke="#8a8a8a" stroke-width="0.8"/>
<path d="M300.1 253.25L301.7 253.25M300.1 266.78L301.7 266.78M300.1 278.9L301.7 278.9M300.1 289.59L301.7 289.59M300.1 299.81L301.7 299.81M300.1 309.48L301.7 309.48M300.1 318.56L301.7 318.56M300.1 326.95L301.7 326.95M300.1 334.85L301.7 334.85M300.1 342.45L301.7 342.45M300.1 349.89L301.7 349.89M300.1 357.27L301.7 357.27M300.1 364.12L301.7 364.12M300.1 370.23L301.7 370.23M300.1 375.99L301.7 375.99M300.1 381.29L301.7 381.29M300.1 386.01L301.7 386.01M300.1 390.38L301.7 390.38M300.1 394.15L301.7 394.15M300.1 397.51L301.7 397.51M300.1 400.56L301.7 400.56M300.1 403.29L301.7 403.29" fill="none" stroke="#8a8a8a" stroke-width="0.6"/>
<path d="M304 244.8L304 246.4" fill="none" stroke="#8a8a8a" stroke-width="0.7"/>
<text x="304" y="242.7" font-size="6" text-anchor="middle" fill="#222">100</text>
<path d="M318.25 244.8L318.25 246.4" fill="none" stroke="#8a8a8a" stroke-width="0.7"/>
<text x="318.25" y="242.7" font-size="6" text-anchor="middle" fill="#222">50</text>
<path d="M332.5 244.8L332.5 246.4" fill="none" stroke="#8a8a8a" stroke-width="0.7"/>
<text x="332.5" y="242.7" font-size="6" text-anchor="middle" fill="#222">0</text>
<path d="M346.75 244.8L346.75 246.4" fill="none" stroke="#8a8a8a" stroke-width="0.7"/>
<text x="346.75" y="242.7" font-size="6" text-anchor="middle" fill="#222">50</text>
<path d="M361 244.8L361 246.4" fill="none" stroke="#8a8a8a" stroke-width="0.7"/>
<text x="361" y="242.7" font-size="6" text-anchor="middle" fill="#222">100</text>
<text x="218.4" y="255.75" font-size="6.2" text-anchor="middle" fill="#222">1</text>
<text x="224.4" y="269.28" font-size="6.2" text-anchor="middle" fill="#222">2</text>
<text x="218.4" y="281.4" font-size="6.2" text-anchor="middle" fill="#222">3</text>
<text x="224.4" y="292.09" font-size="6.2" text-anchor="middle" fill="#222">4</text>
<text x="218.4" y="302.31" font-size="6.2" text-anchor="middle" fill="#222">5</text>
<text x="224.4" y="311.98" font-size="6.2" text-anchor="middle" fill="#222">6</text>
<text x="218.4" y="321.06" font-size="6.2" text-anchor="middle" fill="#222">7</text>
<text x="224.4" y="329.45" font-size="6.2" text-anchor="middle" fill="#222">8</text>
<text x="218.4" y="337.35" font-size="6.2" text-anchor="middle" fill="#222">9</text>
<text x="224.4" y="344.95" font-size="6.2" text-anchor="middle" fill="#222">10</text>
<text x="218.4" y="352.39" font-size="6.2" text-anchor="middle" fill="#222">11</text>
<text x="224.4" y="359.77" font-size="6.2" text-anchor="middle" fill="#222">12</text>
<text x="218.4" y="366.62" font-size="6.2" text-anchor="middle" fill="#222">13</text>
<text x="224.4" y="372.73" font-size="6.2" text-anchor="middle" fill="#222">14</text>
<text x="218.4" y="378.49" font-size="6.2" text-anchor="middle" fill="#222">15</text>
<text x="224.4" y="383.79" font-size="6.2" text-anchor="middle" fill="#222">16</text>
<text x="218.4" y="388.51" font-size="6.2" text-anchor="middle" fill="#222">17</text>
<text x="224.4" y="392.88" font-size="6.2" text-anchor="middle" fill="#222">18</text>
<text x="218.4" y="396.65" font-size="6.2" text-anchor="middle" fill="#222">19</text>
<text x="224.4" y="400.01" font-size="6.2" text-anchor="middle" fill="#222">20</text>
<text x="218.4" y="403.06" font-size="6.2" text-anchor="middle" fill="#222">21</text>
<text x="224.4" y="405.79" font-size="6.2" text-anchor="middle" fill="#222">22</text>
<text x="244.8" y="416.2" font-size="9.9" text-anchor="middle" fill="#3f95d8" stroke="#3f95d8" stroke-width="0.05">%Loss</text>
<text x="278" y="416.2" font-size="9.9" text-anchor="middle" fill="#e24a4a" stroke="#e24a4a" stroke-width="0.05">%Gain</text>
<text x="315.6" y="416.2" font-size="9.9" text-anchor="middle" fill="#3f95d8" stroke="#3f95d8" stroke-width="0.05">%Loss</text>
<text x="349.2" y="416.2" font-size="9.9" text-anchor="middle" fill="#e24a4a" stroke="#e24a4a" stroke-width="0.05">%Gain</text>
<text transform="translate(384.0 224.5) scale(0.92 1)" font-size="15.2" font-weight="bold">d</text>
<text x="521.6" y="224.2" font-size="9.6" text-anchor="middle" stroke="#000" stroke-width="0.05">Tumoroids</text>
<path d="M387.7 243.4h11.36v5.52h-11.36zM399.01 243.4h11.36v5.52h-11.36zM450.37 243.4h4.39v5.52h-4.39zM454.71 243.4h4.39v5.52h-4.39zM459.05 243.4h4.39v5.52h-4.39zM473.2 243.4h5.52v5.52h-5.52zM478.67 243.4h5.52v5.52h-5.52zM540.22 243.4h12.35v5.52h-12.35zM587.39 243.4h9.79v5.52h-9.79zM597.13 243.4h9.35v5.52h-9.35zM614.63 243.4h7.42v5.52h-7.42zM640.18 243.4h4.42v5.52h-4.42zM644.54 243.4h4.71v5.52h-4.71zM387.7 248.92h22.67v5.52h-22.67zM432.4 248.92h18.02v5.52h-18.02zM450.37 248.92h17.4v5.52h-17.4zM514.12 248.92h4.48v5.52h-4.48zM555.59 248.92h3.11v5.52h-3.11zM558.65 248.92h3.11v5.52h-3.11zM561.71 248.92h3.11v5.52h-3.11zM387.7 254.44h5.71v5.52h-5.71zM393.36 254.44h5.71v5.52h-5.71zM450.37 254.44h17.4v5.52h-17.4zM564.78 254.44h12.2v5.52h-12.2zM597.13 254.44h9.35v5.52h-9.35zM614.63 254.44h7.42v5.52h-7.42zM450.37 265.48h17.4v5.52h-17.4zM533.82 265.48h6.46v5.52h-6.46zM597.13 265.48h9.35v5.52h-9.35zM622 265.48h7.14v5.52h-7.14zM640.18 265.48h4.42v5.52h-4.42zM644.54 265.48h4.71v5.52h-4.71zM387.7 271h5.71v5.52h-5.71zM393.36 271h5.71v5.52h-5.71zM421.36 271h5.57v5.52h-5.57zM432.4 271h4.54v5.52h-4.54zM436.89 271h4.54v5.52h-4.54zM445.88 271h4.54v5.52h-4.54zM459.05 271h8.73v5.52h-8.73zM473.2 271h5.52v5.52h-5.52zM478.67 271h5.52v5.52h-5.52zM484.15 271h5.23v5.52h-5.23zM489.32 271h5.23v5.52h-5.23zM514.12 271h6.69v5.52h-6.69zM546.37 271h6.2v5.52h-6.2zM606.43 271h8.25v5.52h-8.25zM624.37 271h2.41v5.52h-2.41zM626.73 271h2.41v5.52h-2.41zM629.09 271h5.41v5.52h-5.41zM640.18 271h4.42v5.52h-4.42zM387.7 276.51h22.67v5.52h-22.67zM450.37 276.51h17.4v5.52h-17.4zM514.12 276.51h4.48v5.52h-4.48zM527.41 276.51h12.87v5.52h-12.87zM587.39 276.51h9.79v5.52h-9.79zM387.7 282.03h5.71v5.52h-5.71zM399.01 282.03h5.71v5.52h-5.71zM432.4 282.03h18.02v5.52h-18.02zM494.5 282.03h5.23v5.52h-5.23zM514.12 282.03h6.69v5.52h-6.69zM533.82 282.03h6.46v5.52h-6.46zM592.26 282.03h4.92v5.52h-4.92zM614.63 282.03h7.42v5.52h-7.42zM640.18 282.03h4.42v5.52h-4.42zM387.7 287.55h7.59v5.52h-7.59zM395.24 287.55h7.59v5.52h-7.59zM417.68 287.55h7.41v5.52h-7.41zM514.12 287.55h13.34v5.52h-13.34zM533.82 287.55h6.46v5.52h-6.46zM590.64 287.55h3.3v5.52h-3.3zM399.01 293.07h11.36v5.52h-11.36zM514.12 293.07h6.69v5.52h-6.69zM533.82 293.07h6.46v5.52h-6.46zM587.39 293.07h9.79v5.52h-9.79zM622 293.07h7.14v5.52h-7.14zM644.54 293.07h4.71v5.52h-4.71zM392 298.59h2.4v5.52h-2.4zM433.8 298.59h1.6v5.52h-1.6zM437 298.59h4v5.52h-4zM447.2 298.59h1.6v5.52h-1.6zM471 298.59h1.5v5.52h-1.5zM487 298.59h11.8v5.52h-11.8zM565.3 298.59h10.3v5.52h-10.3zM388.2 304.11h9.4v5.52h-9.4zM452 304.11h3v5.52h-3zM469 304.11h4.7v5.52h-4.7zM487 304.11h11.8v5.52h-11.8zM623.4 304.11h6v5.52h-6zM515 309.63h2.7v5.52h-2.7zM452.7 315.15h0.8v5.52h-0.8zM515 315.15h2.7v5.52h-2.7zM559 315.15h1v5.52h-1zM407 320.67h1.6v5.52h-1.6zM426.7 320.67h0.8v5.52h-0.8zM548.2 320.67h1.8v5.52h-1.8zM646 320.67h3v5.52h-3zM401.5 331.7h3.2v5.52h-3.2zM433.8 331.7h0.8v5.52h-0.8zM492 331.7h0.8v5.52h-0.8zM615.7 331.7h6v5.52h-6zM389 337.22h10v5.52h-10zM485.5 337.22h13.3v5.52h-13.3zM602 337.22h1.8v5.52h-1.8zM622 337.22h7.09v5.52h-7.09zM403.1 342.74h0.8v5.52h-0.8zM436 342.74h0.8v5.52h-0.8zM458.8 342.74h0.8v5.52h-0.8zM490.5 342.74h0.8v5.52h-0.8zM487 348.26h2.5v5.52h-2.5zM615.7 348.26h0.8v5.52h-0.8zM626.8 348.26h1.7v5.52h-1.7zM476 353.78h4.7v5.52h-4.7zM487 353.78h0.8v5.52h-0.8zM623.4 353.78h0.8v5.52h-0.8zM631 353.78h1.5v5.52h-1.5z" fill="#ffdcdc"/>
<path d="M410.32 243.4h22.13v5.52h-22.13zM491.91 243.4h7.82v5.52h-7.82zM518.55 243.4h4.48v5.52h-4.48zM522.98 243.4h4.48v5.52h-4.48zM527.41 243.4h6.46v5.52h-6.46zM634.46 243.4h5.77v5.52h-5.77zM499.68 248.92h14.49v5.52h-14.49zM522.98 248.92h4.48v5.52h-4.48zM399.01 254.44h5.71v5.52h-5.71zM404.67 254.44h5.71v5.52h-5.71zM499.68 254.44h14.49v5.52h-14.49zM514.12 254.44h13.34v5.52h-13.34zM576.93 254.44h10.51v5.52h-10.51zM634.46 254.44h5.77v5.52h-5.77zM393.36 259.96h5.71v5.52h-5.71zM410.32 259.96h22.13v5.52h-22.13zM432.4 259.96h18.02v5.52h-18.02zM484.15 259.96h15.58v5.52h-15.58zM535.95 259.96h4.32v5.52h-4.32zM552.52 259.96h12.3v5.52h-12.3zM564.78 259.96h4.1v5.52h-4.1zM606.43 259.96h8.25v5.52h-8.25zM634.46 259.96h5.77v5.52h-5.77zM410.32 265.48h5.57v5.52h-5.57zM421.36 265.48h5.57v5.52h-5.57zM426.88 265.48h5.57v5.52h-5.57zM499.68 265.48h14.49v5.52h-14.49zM614.63 265.48h7.42v5.52h-7.42zM399.01 271h5.71v5.52h-5.71zM404.67 271h5.71v5.52h-5.71zM441.39 271h4.54v5.52h-4.54zM520.76 271h6.69v5.52h-6.69zM540.22 271h6.2v5.52h-6.2zM564.78 271h4.1v5.52h-4.1zM597.13 271h9.35v5.52h-9.35zM622 271h2.41v5.52h-2.41zM634.46 276.51h5.77v5.52h-5.77zM527.41 282.03h6.46v5.52h-6.46zM432.4 287.55h9.04v5.52h-9.04zM506.9 287.55h7.27v5.52h-7.27zM558.65 287.55h6.18v5.52h-6.18zM576.93 287.55h10.51v5.52h-10.51zM587.39 287.55h3.3v5.52h-3.3zM629.09 287.55h5.41v5.52h-5.41zM467.72 293.07h5.52v5.52h-5.52zM576.93 293.07h10.51v5.52h-10.51zM634.46 293.07h5.77v5.52h-5.77zM514.12 298.59h13.29v5.52h-13.29zM419 304.11h0.8v5.52h-0.8zM501.2 304.11h12.6v5.52h-12.6zM419 309.63h0.8v5.52h-0.8zM501.2 309.63h12.6v5.52h-12.6zM541.3 309.63h8.7v5.52h-8.7zM576.93 309.63h10.46v5.52h-10.46zM634.46 309.63h5.72v5.52h-5.72zM425.2 315.15h5.4v5.52h-5.4zM440.9 315.15h9.4v5.52h-9.4zM576.93 315.15h10.46v5.52h-10.46zM634.46 315.15h5.72v5.52h-5.72zM419 320.67h0.8v5.52h-0.8zM501.2 320.67h12.6v5.52h-12.6zM517 320.67h10.2v5.52h-10.2zM615.7 320.67h6v5.52h-6zM474.4 326.19h9.5v5.52h-9.5zM576.93 326.19h10.46v5.52h-10.46zM409.4 331.7h0.8v5.52h-0.8zM420.4 331.7h0.8v5.52h-0.8zM451 331.7h1.7v5.52h-1.7zM518.5 331.7h0.8v5.52h-0.8zM576.93 331.7h10.46v5.52h-10.46zM634.46 331.7h5.72v5.52h-5.72zM419 337.22h2.2v5.52h-2.2zM576.93 337.22h10.46v5.52h-10.46zM634.46 337.22h5.72v5.52h-5.72zM433 342.74h0.8v5.52h-0.8zM518.5 342.74h8.7v5.52h-8.7zM565.3 342.74h11.1v5.52h-11.1zM576.93 342.74h10.46v5.52h-10.46zM388 348.26h0.8v5.52h-0.8zM433 348.26h0.8v5.52h-0.8zM522 353.78h1v5.52h-1z" fill="#d6d6ff"/>
<path d="M432.4 243.4h18.02v5.52h-18.02zM484.15 243.4h7.82v5.52h-7.82zM506.9 243.4h7.27v5.52h-7.27zM552.52 243.4h12.3v5.52h-12.3zM564.78 243.4h6.13v5.52h-6.13zM606.43 243.4h8.25v5.52h-8.25zM576.93 248.92h10.51v5.52h-10.51zM467.72 254.44h16.47v5.52h-16.47zM527.41 254.44h12.87v5.52h-12.87zM606.43 254.44h8.25v5.52h-8.25zM614.63 259.96h7.42v5.52h-7.42zM432.4 265.48h18.02v5.52h-18.02zM467.72 265.48h16.47v5.52h-16.47zM552.52 265.48h12.3v5.52h-12.3zM564.78 265.48h12.2v5.52h-12.2zM499.68 276.51h14.49v5.52h-14.49zM564.78 276.51h12.2v5.52h-12.2zM644.54 276.51h4.71v5.52h-4.71zM552.52 282.03h12.3v5.52h-12.3zM606.43 282.03h8.25v5.52h-8.25zM402.78 287.55h7.59v5.52h-7.59zM499.68 287.55h7.27v5.52h-7.27zM499.68 293.07h14.49v5.52h-14.49zM520.76 293.07h6.69v5.52h-6.69zM606.43 293.07h8.25v5.52h-8.25zM433 304.11h16.5v5.52h-16.5zM524 304.11h3.2v5.52h-3.2zM565.3 304.11h11.1v5.52h-11.1zM418.8 315.15h5.6v5.52h-5.6zM400.7 337.22h7.9v5.52h-7.9zM615.7 337.22h4.3v5.52h-4.3zM501.2 342.74h12.6v5.52h-12.6zM615.7 342.74h4.3v5.52h-4.3zM630 342.74h2.5v5.52h-2.5zM420.4 348.26h0.8v5.52h-0.8zM471 348.26h3v5.52h-3zM615.7 353.78h0.8v5.52h-0.8z" fill="#eeeeff"/>
<path d="M463.39 243.4h4.39v5.52h-4.39zM467.72 243.4h5.52v5.52h-5.52zM514.12 243.4h4.48v5.52h-4.48zM622 243.4h7.14v5.52h-7.14zM552.52 248.92h3.11v5.52h-3.11zM404.67 259.96h5.71v5.52h-5.71zM450.37 259.96h4.39v5.52h-4.39zM467.72 259.96h4.16v5.52h-4.16zM514.12 259.96h3.37v5.52h-3.37zM622 259.96h7.14v5.52h-7.14zM594.69 265.48h2.48v5.52h-2.48zM432.4 276.51h6.04v5.52h-6.04zM622 276.51h7.14v5.52h-7.14zM622 282.03h7.14v5.52h-7.14zM593.88 287.55h3.3v5.52h-3.3zM622 287.55h7.14v5.52h-7.14zM478.67 293.07h5.52v5.52h-5.52zM572.88 293.07h4.1v5.52h-4.1zM597.13 293.07h2.38v5.52h-2.38zM601.78 293.07h2.38v5.52h-2.38zM484.7 298.59h1.6v5.52h-1.6zM589.2 298.59h7.7v5.52h-7.7zM623.4 298.59h6v5.52h-6zM515 304.11h2v5.52h-2zM451 309.63h16.6v5.52h-16.6zM567 309.63h1.7v5.52h-1.7zM617.5 309.63h1v5.52h-1zM511.4 315.15h0.8v5.52h-0.8zM622 315.15h7.09v5.52h-7.09zM408.6 320.67h1.3v5.52h-1.3zM515 320.67h2v5.52h-2zM599.1 320.67h6.9v5.52h-6.9zM622 320.67h7.09v5.52h-7.09zM388 326.19h4v5.52h-4zM393.7 326.19h3.1v5.52h-3.1zM402.3 326.19h3.2v5.52h-3.2zM435.4 326.19h3.1v5.52h-3.1zM451 326.19h16.6v5.52h-16.6zM528 326.19h2.8v5.52h-2.8zM572.2 326.19h1.7v5.52h-1.7zM622 326.19h7.09v5.52h-7.09zM645.6 326.19h3.6v5.52h-3.6zM457.7 331.7h9.9v5.52h-9.9zM468.2 331.7h1.3v5.52h-1.3zM515 331.7h3.5v5.52h-3.5zM589.2 331.7h7.7v5.52h-7.7zM599.1 331.7h6.9v5.52h-6.9zM617 331.7h1v5.52h-1zM622 331.7h7.09v5.52h-7.09zM645.6 331.7h3.6v5.52h-3.6zM516 337.22h1v5.52h-1zM443.2 348.26h0.8v5.52h-0.8zM446.4 348.26h0.8v5.52h-0.8zM528 348.26h0.7v5.52h-0.7zM547.4 348.26h2.6v5.52h-2.6zM607 348.26h0.8v5.52h-0.8z" fill="#ff8484"/>
<path d="M499.68 243.4h7.27v5.52h-7.27zM576.93 243.4h10.51v5.52h-10.51zM634.46 248.92h5.77v5.52h-5.77zM499.68 259.96h14.49v5.52h-14.49zM517.44 259.96h3.37v5.52h-3.37zM520.76 259.96h3.37v5.52h-3.37zM524.08 259.96h3.37v5.52h-3.37zM527.41 259.96h4.32v5.52h-4.32zM576.93 259.96h10.51v5.52h-10.51zM415.84 265.48h5.57v5.52h-5.57zM634.46 265.48h5.77v5.52h-5.77zM634.46 271h5.77v5.52h-5.77zM518.55 276.51h4.48v5.52h-4.48zM522.98 276.51h4.48v5.52h-4.48zM576.93 276.51h10.51v5.52h-10.51zM634.46 282.03h5.77v5.52h-5.77zM634.46 287.55h5.77v5.52h-5.77zM629.09 293.07h5.41v5.52h-5.41zM500.4 298.59h4.7v5.52h-4.7zM634.46 298.59h5.72v5.52h-5.72zM634.46 304.11h5.72v5.52h-5.72zM518.5 315.15h8.7v5.52h-8.7zM576.93 320.67h10.46v5.52h-10.46zM634.46 320.67h5.72v5.52h-5.72zM634.46 342.74h5.72v5.52h-5.72zM419 353.78h1.4v5.52h-1.4z" fill="#b0b0ff"/>
<path d="M629.09 243.4h5.41v5.52h-5.41zM484.15 248.92h15.58v5.52h-15.58zM527.41 248.92h12.87v5.52h-12.87zM614.63 248.92h7.42v5.52h-7.42zM387.7 265.48h22.67v5.52h-22.67zM393.36 282.03h5.71v5.52h-5.71zM404.67 282.03h5.71v5.52h-5.71zM467.72 282.03h16.47v5.52h-16.47zM599.45 293.07h2.38v5.52h-2.38zM604.11 293.07h2.38v5.52h-2.38zM401.5 298.59h7.1v5.52h-7.1zM452.7 298.59h9.3v5.52h-9.3zM469 298.59h7v5.52h-7zM541.4 298.59h9.4v5.52h-9.4zM555 298.59h8v5.52h-8zM614.8 298.59h5.2v5.52h-5.2zM426.7 309.63h0.6v5.52h-0.6zM623.4 309.63h6v5.52h-6zM447.2 320.67h0.6v5.52h-0.6z" fill="#fff0f0"/>
<path d="M622 248.92h7.14v5.52h-7.14zM622 254.44h7.14v5.52h-7.14zM514.12 265.48h3.37v5.52h-3.37z" fill="#ff5555"/>
<path d="M450.37 282.03h17.4v5.52h-17.4zM450.37 287.55h17.4v5.52h-17.4zM402.3 298.59h0.7v5.52h-0.7zM404.7 298.59h0.7v5.52h-0.7zM407 298.59h0.7v5.52h-0.7zM419.6 298.59h1.6v5.52h-1.6zM439.3 298.59h1v5.52h-1zM455.8 298.59h0.8v5.52h-0.8zM459 298.59h0.8v5.52h-0.8zM461.4 298.59h0.8v5.52h-0.8zM567 298.59h1v5.52h-1zM571 298.59h1v5.52h-1zM389 304.11h0.8v5.52h-0.8zM394.4 304.11h0.8v5.52h-0.8zM396.8 304.11h0.8v5.52h-0.8zM489 304.11h1v5.52h-1zM492 304.11h1v5.52h-1zM496 304.11h1v5.52h-1zM424.4 315.15h0.8v5.52h-0.8zM433.8 315.15h7.1v5.52h-7.1z" fill="#ffb4b4"/>
<path d="M397 243.4h1.4v5.52h-1.4zM399.8 243.4h1.4v5.52h-1.4zM407.5 243.4h1v5.52h-1zM448.5 243.4h1.5v5.52h-1.5zM399 248.92h1.2v5.52h-1.2zM459 248.92h1v5.52h-1zM399.3 254.44h1.4v5.52h-1.4zM455 254.44h1v5.52h-1zM458 254.44h1v5.52h-1zM462 254.44h1v5.52h-1zM387.7 259.96h3.3v5.52h-3.3zM392.7 259.96h4.3v5.52h-4.3zM398.2 259.96h9.1v5.52h-9.1zM394 282.03h2v5.52h-2zM402 282.03h2v5.52h-2z" fill="#ffffff"/>
<path d="M425.5 254.44h1v5.52h-1zM396 271h5v5.52h-5zM391 282.03h1v5.52h-1zM398 282.03h1v5.52h-1zM405 282.03h1v5.52h-1zM424 287.55h1v5.52h-1zM392 293.07h1.4v5.52h-1.4zM395.6 293.07h1.4v5.52h-1.4zM407.3 361.6h2.5v5.46h-2.5zM420.4 361.6h1.8v5.46h-1.8zM599.4 361.6h2.1v5.46h-2.1zM391.8 367.06h1.2v5.46h-1.2zM396.2 367.06h0.8v5.46h-0.8zM389.3 377.98h0.6v5.46h-0.6zM407.3 377.98h1.3v5.46h-1.3zM433.4 377.98h1.2v5.46h-1.2zM453.2 377.98h1.2v5.46h-1.2zM517 377.98h0.8v5.46h-0.8zM523 377.98h0.8v5.46h-0.8zM398 383.44h0.8v5.46h-0.8z" fill="#ffdcdc"/>
<path d="M391.5 259.96h1.2v5.52h-1.2zM397 259.96h1.2v5.52h-1.2zM394.5 271h1.5v5.52h-1.5zM438.5 271h1.5v5.52h-1.5zM418.5 367.06h3v5.46h-3zM438.4 367.06h0.8v5.46h-0.8zM481.9 372.52h1.8v5.46h-1.8zM409.2 377.98h0.6v5.46h-0.6z" fill="#d6d6ff"/>
<path d="M407.3 259.96h3.1v5.52h-3.1zM446.5 293.07h1.8v5.52h-1.8zM397.8 361.6h0.8v5.46h-0.8zM404.9 367.06h1.2v5.46h-1.2zM565 367.06h2.8v5.46h-2.8zM606.3 367.06h1.1v5.46h-1.1zM391.2 372.52h1v5.46h-1zM514.9 372.52h2.1v5.46h-2.1zM478 377.98h0.8v5.46h-0.8zM606.3 377.98h0.8v5.46h-0.8zM452.6 383.44h1.2v5.46h-1.2z" fill="#ff8484"/>
<path d="M392.7 287.55h1.3v5.52h-1.3zM399 287.55h1.5v5.52h-1.5zM420.5 287.55h1.5v5.52h-1.5zM436 361.6h0.8v5.46h-0.8zM438 361.6h0.8v5.46h-0.8zM440 361.6h0.8v5.46h-0.8z" fill="#ffb4b4"/>
<path d="M404.7 287.55h4.9v5.52h-4.9zM616 361.6h3.5v5.46h-3.5zM397.4 367.06h5v5.46h-5zM578.6 372.52h8.3v5.46h-8.3zM437 377.98h4v5.46h-4zM418.5 383.44h1.8v5.46h-1.8z" fill="#eeeeff"/>
<path d="M389.3 361.6h9v5.46h-9zM433.4 361.6h9.9v5.46h-9.9zM452 361.6h2v5.46h-2zM471.9 361.6h11.1v5.46h-11.1zM486.5 361.6h11.8v5.46h-11.8zM530.2 361.6h8.3v5.46h-8.3zM553.8 361.6h2.2v5.46h-2.2zM558 361.6h4v5.46h-4zM567.5 361.6h5.5v5.46h-5.5zM578.6 361.6h7.4v5.46h-7.4zM625 361.6h2v5.46h-2zM411.7 367.06h3v5.46h-3zM434 367.06h3v5.46h-3zM473.3 367.06h0.7v5.46h-0.7zM481.6 367.06h1v5.46h-1zM559.2 367.06h2v5.46h-2zM599.4 372.52h4.1v5.46h-4.1zM635.4 372.52h0.8v5.46h-0.8zM531 383.44h3v5.46h-3z" fill="#fff0f0"/>
<path d="M518.4 367.06h8.3v5.46h-8.3zM631 372.52h3.3v5.46h-3.3zM418.5 377.98h1.2v5.46h-1.2z" fill="#b0b0ff"/>
<path d="M387.7 248.92L649.2 248.92M387.7 254.44L649.2 254.44M387.7 259.96L649.2 259.96M387.7 265.48L649.2 265.48M387.7 271L649.2 271M387.7 276.51L649.2 276.51M387.7 282.03L649.2 282.03M387.7 287.55L649.2 287.55M387.7 293.07L649.2 293.07M387.7 298.59L649.2 298.59M387.7 304.11L649.2 304.11M387.7 309.63L649.2 309.63M387.7 315.15L649.2 315.15M387.7 320.67L649.2 320.67M387.7 326.19L649.2 326.19M387.7 331.7L649.2 331.7M387.7 337.22L649.2 337.22M387.7 342.74L649.2 342.74M387.7 348.26L649.2 348.26M387.7 353.78L649.2 353.78M387.7 367.06L649.2 367.06M387.7 372.52L649.2 372.52M387.7 377.98L649.2 377.98M387.7 383.44L649.2 383.44" fill="none" stroke="#d4d4d4" stroke-width="0.5"/>
<path d="M410.32 243.4L410.32 359.3M432.4 243.4L432.4 359.3M450.37 243.4L450.37 359.3M467.72 243.4L467.72 359.3M484.15 243.4L484.15 359.3M499.68 243.4L499.68 359.3M514.12 243.4L514.12 359.3M527.41 243.4L527.41 359.3M540.22 243.4L540.22 359.3M552.52 243.4L552.52 359.3M564.78 243.4L564.78 359.3M576.93 243.4L576.93 359.3M587.39 243.4L587.39 359.3M597.13 243.4L597.13 359.3M606.43 243.4L606.43 359.3M614.63 243.4L614.63 359.3M622 243.4L622 359.3M629.09 243.4L629.09 359.3M634.46 243.4L634.46 359.3M640.18 243.4L640.18 359.3M644.54 243.4L644.54 359.3M410.32 361.6L410.32 388.9M432.4 361.6L432.4 388.9M450.37 361.6L450.37 388.9M467.72 361.6L467.72 388.9M484.15 361.6L484.15 388.9M499.68 361.6L499.68 388.9M514.12 361.6L514.12 388.9M527.41 361.6L527.41 388.9M540.22 361.6L540.22 388.9M552.52 361.6L552.52 388.9M564.78 361.6L564.78 388.9M576.93 361.6L576.93 388.9M587.39 361.6L587.39 388.9M597.13 361.6L597.13 388.9M606.43 361.6L606.43 388.9M614.63 361.6L614.63 388.9M622 361.6L622 388.9M629.09 361.6L629.09 388.9M634.46 361.6L634.46 388.9M640.18 361.6L640.18 388.9M644.54 361.6L644.54 388.9" fill="none" stroke="#3a3a3a" stroke-width="1"/>
<path d="M387.7 243.4h261.5v115.9h-261.5zM387.7 361.6h261.5v27.3h-261.5z" fill="none" stroke="#3a3a3a" stroke-width="1"/>
<path d="M382.5 362.3h4.2v4.2h-4.2zM382.5 367.76h4.2v4.2h-4.2zM382.5 373.22h4.2v4.2h-4.2zM382.5 378.68h4.2v4.2h-4.2zM382.5 384.14h4.2v4.2h-4.2z" fill="#ff0000" stroke="#b00" stroke-width="0.4"/>
<path d="M399.01 388.9L399.01 392.1" fill="none" stroke="#8a8a8a" stroke-width="0.6"/>
<text x="399.2" y="403.8" font-size="8.3" text-anchor="middle" stroke="#000" stroke-width="0.05">1</text>
<path d="M421.36 388.9L421.36 392.1" fill="none" stroke="#8a8a8a" stroke-width="0.6"/>
<text x="421.4" y="411.6" font-size="8.3" text-anchor="middle" stroke="#000" stroke-width="0.05">2</text>
<path d="M441.39 388.9L441.39 392.1" fill="none" stroke="#8a8a8a" stroke-width="0.6"/>
<text x="441.4" y="403.8" font-size="8.3" text-anchor="middle" stroke="#000" stroke-width="0.05">3</text>
<path d="M459.05 388.9L459.05 392.1" fill="none" stroke="#8a8a8a" stroke-width="0.6"/>
<text x="459.4" y="411.6" font-size="8.3" text-anchor="middle" stroke="#000" stroke-width="0.05">4</text>
<path d="M475.93 388.9L475.93 392.1" fill="none" stroke="#8a8a8a" stroke-width="0.6"/>
<text x="476.4" y="403.8" font-size="8.3" text-anchor="middle" stroke="#000" stroke-width="0.05">5</text>
<path d="M491.91 388.9L491.91 392.1" fill="none" stroke="#8a8a8a" stroke-width="0.6"/>
<text x="492.3" y="411.6" font-size="8.3" text-anchor="middle" stroke="#000" stroke-width="0.05">6</text>
<path d="M506.9 388.9L506.9 392.1" fill="none" stroke="#8a8a8a" stroke-width="0.6"/>
<text x="507.8" y="403.8" font-size="8.3" text-anchor="middle" stroke="#000" stroke-width="0.05">7</text>
<path d="M520.76 388.9L520.76 392.1" fill="none" stroke="#8a8a8a" stroke-width="0.6"/>
<text x="521.5" y="411.6" font-size="8.3" text-anchor="middle" stroke="#000" stroke-width="0.05">8</text>
<path d="M533.82 388.9L533.82 392.1" fill="none" stroke="#8a8a8a" stroke-width="0.6"/>
<text x="533.8" y="403.8" font-size="8.3" text-anchor="middle" stroke="#000" stroke-width="0.05">9</text>
<path d="M546.37 388.9L546.37 392.1" fill="none" stroke="#8a8a8a" stroke-width="0.6"/>
<text x="547" y="411.6" font-size="8.3" text-anchor="middle" stroke="#000" stroke-width="0.05">10</text>
<path d="M558.65 388.9L558.65 392.1" fill="none" stroke="#8a8a8a" stroke-width="0.6"/>
<text x="559.1" y="403.8" font-size="8.3" text-anchor="middle" stroke="#000" stroke-width="0.05">11</text>
<path d="M570.85 388.9L570.85 392.1" fill="none" stroke="#8a8a8a" stroke-width="0.6"/>
<text x="570.8" y="411.6" font-size="8.3" text-anchor="middle" stroke="#000" stroke-width="0.05">12</text>
<path d="M582.16 388.9L582.16 392.1" fill="none" stroke="#8a8a8a" stroke-width="0.6"/>
<text x="582.8" y="403.8" font-size="8.3" text-anchor="middle" stroke="#000" stroke-width="0.05">13</text>
<path d="M592.26 388.9L592.26 392.1" fill="none" stroke="#8a8a8a" stroke-width="0.6"/>
<text x="593" y="411.6" font-size="8.3" text-anchor="middle" stroke="#000" stroke-width="0.05">14</text>
<path d="M601.78 388.9L601.78 392.1" fill="none" stroke="#8a8a8a" stroke-width="0.6"/>
<text x="602" y="403.8" font-size="8.3" text-anchor="middle" stroke="#000" stroke-width="0.05">15</text>
<path d="M610.53 388.9L610.53 392.1" fill="none" stroke="#8a8a8a" stroke-width="0.6"/>
<text x="610.8" y="411.6" font-size="8.3" text-anchor="middle" stroke="#000" stroke-width="0.05">16</text>
<path d="M618.32 388.9L618.32 392.1" fill="none" stroke="#8a8a8a" stroke-width="0.6"/>
<text x="619.3" y="403.8" font-size="8.3" text-anchor="middle" stroke="#000" stroke-width="0.05">17</text>
<path d="M625.55 388.9L625.55 392.1" fill="none" stroke="#8a8a8a" stroke-width="0.6"/>
<text x="628" y="411.6" font-size="8.3" text-anchor="middle" stroke="#000" stroke-width="0.05">18</text>
<path d="M631.78 388.9L631.78 392.1" fill="none" stroke="#8a8a8a" stroke-width="0.6"/>
<text x="632.1" y="403.8" font-size="8.3" text-anchor="middle" stroke="#000" stroke-width="0.05">19</text>
<path d="M637.32 388.9L637.32 392.1" fill="none" stroke="#8a8a8a" stroke-width="0.6"/>
<text x="639.4" y="411.6" font-size="8.3" text-anchor="middle" stroke="#000" stroke-width="0.05">20</text>
<path d="M642.36 388.9L642.36 392.1" fill="none" stroke="#8a8a8a" stroke-width="0.6"/>
<text x="643.4" y="403.8" font-size="8.3" text-anchor="middle" stroke="#000" stroke-width="0.05">21</text>
<path d="M646.87 388.9L646.87 392.1" fill="none" stroke="#8a8a8a" stroke-width="0.6"/>
<text x="650.4" y="411.6" font-size="8.3" text-anchor="middle" stroke="#000" stroke-width="0.05">22</text>
<text x="520.8" y="425" font-size="9.4" text-anchor="middle" stroke="#000" stroke-width="0.05">Chromosome</text>
<defs><linearGradient id="lrr" x1="0" y1="0" x2="0" y2="1"><stop offset="0" stop-color="#0000ff"/><stop offset="0.5" stop-color="#ffffff"/><stop offset="1" stop-color="#ff0000"/></linearGradient></defs>
<rect x="671.9" y="291.6" width="8.1" height="47.8" fill="url(#lrr)"/>
<text x="666.3" y="283.5" font-size="9.4" stroke="#000" stroke-width="0.05">LRR</text>
<text x="669.6" y="295.7" font-size="9" text-anchor="end" stroke="#000" stroke-width="0.05">&gt; 3</text>
<text x="667.8" y="319.7" font-size="9" text-anchor="end" stroke="#000" stroke-width="0.05">0</text>
<text x="670" y="344.1" font-size="9" text-anchor="end" stroke="#000" stroke-width="0.05">&lt; -3</text>
</svg></body></html>
